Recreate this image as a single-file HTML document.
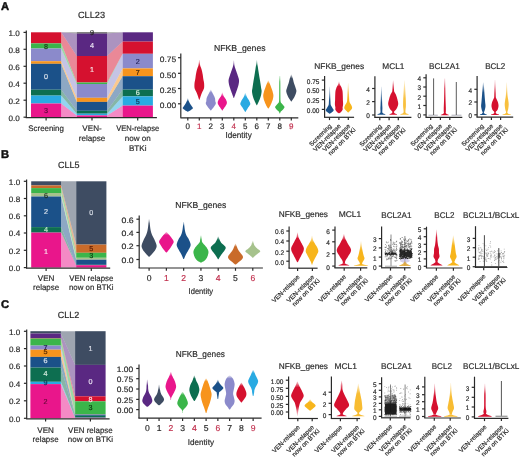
<!DOCTYPE html>
<html><head><meta charset="utf-8"><title>Figure</title>
<style>html,body{margin:0;padding:0;background:#fff;width:520px;height:459px;overflow:hidden}svg{display:block;will-change:transform}text{font-family:"Liberation Sans", sans-serif;stroke-width:0.18px;text-rendering:geometricPrecision}</style>
</head><body>
<svg width="520" height="459" viewBox="0 0 520 459" font-family='"Liberation Sans", sans-serif'><defs><linearGradient id="g1" gradientUnits="userSpaceOnUse" x1="0" y1="98.30" x2="0" y2="101.30"><stop offset="0" stop-color="#1b5189" stop-opacity="0.25"/><stop offset="1" stop-color="#1b5189" stop-opacity="1"/></linearGradient><linearGradient id="g2" gradientUnits="userSpaceOnUse" x1="0" y1="60.00" x2="0" y2="66.00"><stop offset="0" stop-color="#d5112f" stop-opacity="0.25"/><stop offset="1" stop-color="#d5112f" stop-opacity="1"/></linearGradient><linearGradient id="g3" gradientUnits="userSpaceOnUse" x1="0" y1="89.70" x2="0" y2="92.70"><stop offset="0" stop-color="#8b8acb" stop-opacity="0.25"/><stop offset="1" stop-color="#8b8acb" stop-opacity="1"/></linearGradient><linearGradient id="g4" gradientUnits="userSpaceOnUse" x1="0" y1="92.60" x2="0" y2="96.40"><stop offset="0" stop-color="#e9168b" stop-opacity="0.25"/><stop offset="1" stop-color="#e9168b" stop-opacity="1"/></linearGradient><linearGradient id="g5" gradientUnits="userSpaceOnUse" x1="0" y1="60.40" x2="0" y2="66.40"><stop offset="0" stop-color="#5a2882" stop-opacity="0.25"/><stop offset="1" stop-color="#5a2882" stop-opacity="1"/></linearGradient><linearGradient id="g6" gradientUnits="userSpaceOnUse" x1="0" y1="92.90" x2="0" y2="96.80"><stop offset="0" stop-color="#29aae2" stop-opacity="0.25"/><stop offset="1" stop-color="#29aae2" stop-opacity="1"/></linearGradient><linearGradient id="g7" gradientUnits="userSpaceOnUse" x1="0" y1="60.20" x2="0" y2="66.20"><stop offset="0" stop-color="#0d6e50" stop-opacity="0.25"/><stop offset="1" stop-color="#0d6e50" stop-opacity="1"/></linearGradient><linearGradient id="g8" gradientUnits="userSpaceOnUse" x1="0" y1="80.50" x2="0" y2="83.80"><stop offset="0" stop-color="#f7941d" stop-opacity="0.25"/><stop offset="1" stop-color="#f7941d" stop-opacity="1"/></linearGradient><linearGradient id="g9" gradientUnits="userSpaceOnUse" x1="0" y1="75.90" x2="0" y2="81.90"><stop offset="0" stop-color="#3bb54a" stop-opacity="0.25"/><stop offset="1" stop-color="#3bb54a" stop-opacity="1"/></linearGradient><linearGradient id="g10" gradientUnits="userSpaceOnUse" x1="0" y1="74.60" x2="0" y2="78.50"><stop offset="0" stop-color="#3e4c62" stop-opacity="0.25"/><stop offset="1" stop-color="#3e4c62" stop-opacity="1"/></linearGradient><linearGradient id="g11" gradientUnits="userSpaceOnUse" x1="0" y1="86.70" x2="0" y2="113.70"><stop offset="0" stop-color="#1b5189" stop-opacity="0.2"/><stop offset="0.519" stop-color="#1b5189" stop-opacity="1"/></linearGradient><linearGradient id="g12" gradientUnits="userSpaceOnUse" x1="0" y1="81.50" x2="0" y2="113.30"><stop offset="0" stop-color="#d5112f" stop-opacity="0.2"/><stop offset="0.157" stop-color="#d5112f" stop-opacity="1"/></linearGradient><linearGradient id="g13" gradientUnits="userSpaceOnUse" x1="0" y1="83.20" x2="0" y2="112.40"><stop offset="0" stop-color="#f7b51c" stop-opacity="0.2"/><stop offset="0.548" stop-color="#f7b51c" stop-opacity="1"/></linearGradient><linearGradient id="g14" gradientUnits="userSpaceOnUse" x1="0" y1="86.70" x2="0" y2="112.90"><stop offset="0" stop-color="#1b5189" stop-opacity="0.2"/><stop offset="0.611" stop-color="#1b5189" stop-opacity="1"/></linearGradient><linearGradient id="g15" gradientUnits="userSpaceOnUse" x1="0" y1="80.60" x2="0" y2="112.90"><stop offset="0" stop-color="#d5112f" stop-opacity="0.2"/><stop offset="0.279" stop-color="#d5112f" stop-opacity="1"/></linearGradient><linearGradient id="g16" gradientUnits="userSpaceOnUse" x1="0" y1="80.60" x2="0" y2="112.90"><stop offset="0" stop-color="#f7b51c" stop-opacity="0.2"/><stop offset="0.557" stop-color="#f7b51c" stop-opacity="1"/></linearGradient><linearGradient id="g17" gradientUnits="userSpaceOnUse" x1="0" y1="78.40" x2="0" y2="113.30"><stop offset="0" stop-color="#d5112f" stop-opacity="0.2"/><stop offset="0.287" stop-color="#d5112f" stop-opacity="1"/></linearGradient><linearGradient id="g18" gradientUnits="userSpaceOnUse" x1="0" y1="82.40" x2="0" y2="113.40"><stop offset="0" stop-color="#1b5189" stop-opacity="0.2"/><stop offset="0.323" stop-color="#1b5189" stop-opacity="1"/></linearGradient><linearGradient id="g19" gradientUnits="userSpaceOnUse" x1="0" y1="80.10" x2="0" y2="113.40"><stop offset="0" stop-color="#d5112f" stop-opacity="0.2"/><stop offset="0.420" stop-color="#d5112f" stop-opacity="1"/></linearGradient><linearGradient id="g20" gradientUnits="userSpaceOnUse" x1="0" y1="82.40" x2="0" y2="113.40"><stop offset="0" stop-color="#f7b51c" stop-opacity="0.2"/><stop offset="0.452" stop-color="#f7b51c" stop-opacity="1"/></linearGradient><linearGradient id="g21" gradientUnits="userSpaceOnUse" x1="0" y1="219.20" x2="0" y2="223.20"><stop offset="0" stop-color="#3e4c62" stop-opacity="0.25"/><stop offset="1" stop-color="#3e4c62" stop-opacity="1"/></linearGradient><linearGradient id="g22" gradientUnits="userSpaceOnUse" x1="0" y1="232.00" x2="0" y2="235.00"><stop offset="0" stop-color="#e9168b" stop-opacity="0.25"/><stop offset="1" stop-color="#e9168b" stop-opacity="1"/></linearGradient><linearGradient id="g23" gradientUnits="userSpaceOnUse" x1="0" y1="222.00" x2="0" y2="226.00"><stop offset="0" stop-color="#1b5189" stop-opacity="0.25"/><stop offset="1" stop-color="#1b5189" stop-opacity="1"/></linearGradient><linearGradient id="g24" gradientUnits="userSpaceOnUse" x1="0" y1="235.40" x2="0" y2="239.40"><stop offset="0" stop-color="#3bb54a" stop-opacity="0.25"/><stop offset="1" stop-color="#3bb54a" stop-opacity="1"/></linearGradient><linearGradient id="g25" gradientUnits="userSpaceOnUse" x1="0" y1="236.50" x2="0" y2="240.00"><stop offset="0" stop-color="#0d6e50" stop-opacity="0.25"/><stop offset="1" stop-color="#0d6e50" stop-opacity="1"/></linearGradient><linearGradient id="g26" gradientUnits="userSpaceOnUse" x1="0" y1="243.80" x2="0" y2="246.80"><stop offset="0" stop-color="#c96b2a" stop-opacity="0.25"/><stop offset="1" stop-color="#c96b2a" stop-opacity="1"/></linearGradient><linearGradient id="g27" gradientUnits="userSpaceOnUse" x1="0" y1="240.80" x2="0" y2="243.80"><stop offset="0" stop-color="#a6c28c" stop-opacity="0.25"/><stop offset="1" stop-color="#a6c28c" stop-opacity="1"/></linearGradient><linearGradient id="g28" gradientUnits="userSpaceOnUse" x1="0" y1="232.50" x2="0" y2="262.30"><stop offset="0" stop-color="#d5112f" stop-opacity="0.2"/><stop offset="0.201" stop-color="#d5112f" stop-opacity="1"/></linearGradient><linearGradient id="g29" gradientUnits="userSpaceOnUse" x1="0" y1="235.70" x2="0" y2="264.80"><stop offset="0" stop-color="#f7b51c" stop-opacity="0.2"/><stop offset="0.241" stop-color="#f7b51c" stop-opacity="1"/></linearGradient><linearGradient id="g30" gradientUnits="userSpaceOnUse" x1="0" y1="234.10" x2="0" y2="263.40"><stop offset="0" stop-color="#d5112f" stop-opacity="0.2"/><stop offset="0.205" stop-color="#d5112f" stop-opacity="1"/></linearGradient><linearGradient id="g31" gradientUnits="userSpaceOnUse" x1="0" y1="241.30" x2="0" y2="264.20"><stop offset="0" stop-color="#f7b51c" stop-opacity="0.2"/><stop offset="0.393" stop-color="#f7b51c" stop-opacity="1"/></linearGradient><linearGradient id="g32" gradientUnits="userSpaceOnUse" x1="0" y1="257.00" x2="0" y2="263.60"><stop offset="0" stop-color="#b8b0d8" stop-opacity="0.2"/><stop offset="0.152" stop-color="#b8b0d8" stop-opacity="1"/></linearGradient><linearGradient id="g33" gradientUnits="userSpaceOnUse" x1="0" y1="261.00" x2="0" y2="263.00"><stop offset="0" stop-color="#e0a630" stop-opacity="0.2"/><stop offset="0.500" stop-color="#e0a630" stop-opacity="1"/></linearGradient><linearGradient id="g34" gradientUnits="userSpaceOnUse" x1="0" y1="229.80" x2="0" y2="262.20"><stop offset="0" stop-color="#d5112f" stop-opacity="0.2"/><stop offset="0.247" stop-color="#d5112f" stop-opacity="1"/></linearGradient><linearGradient id="g35" gradientUnits="userSpaceOnUse" x1="0" y1="235.60" x2="0" y2="262.20"><stop offset="0" stop-color="#f7b51c" stop-opacity="0.2"/><stop offset="0.376" stop-color="#f7b51c" stop-opacity="1"/></linearGradient><linearGradient id="g36" gradientUnits="userSpaceOnUse" x1="0" y1="379.80" x2="0" y2="385.80"><stop offset="0" stop-color="#5a2882" stop-opacity="0.25"/><stop offset="1" stop-color="#5a2882" stop-opacity="1"/></linearGradient><linearGradient id="g37" gradientUnits="userSpaceOnUse" x1="0" y1="384.80" x2="0" y2="390.00"><stop offset="0" stop-color="#3e4c62" stop-opacity="0.25"/><stop offset="1" stop-color="#3e4c62" stop-opacity="1"/></linearGradient><linearGradient id="g38" gradientUnits="userSpaceOnUse" x1="0" y1="372.00" x2="0" y2="376.00"><stop offset="0" stop-color="#e9168b" stop-opacity="0.25"/><stop offset="1" stop-color="#e9168b" stop-opacity="1"/></linearGradient><linearGradient id="g39" gradientUnits="userSpaceOnUse" x1="0" y1="391.90" x2="0" y2="395.00"><stop offset="0" stop-color="#3bb54a" stop-opacity="0.25"/><stop offset="1" stop-color="#3bb54a" stop-opacity="1"/></linearGradient><linearGradient id="g40" gradientUnits="userSpaceOnUse" x1="0" y1="375.60" x2="0" y2="378.60"><stop offset="0" stop-color="#0d6e50" stop-opacity="0.25"/><stop offset="1" stop-color="#0d6e50" stop-opacity="1"/></linearGradient><linearGradient id="g41" gradientUnits="userSpaceOnUse" x1="0" y1="378.40" x2="0" y2="381.40"><stop offset="0" stop-color="#f7941d" stop-opacity="0.25"/><stop offset="1" stop-color="#f7941d" stop-opacity="1"/></linearGradient><linearGradient id="g42" gradientUnits="userSpaceOnUse" x1="0" y1="379.80" x2="0" y2="383.00"><stop offset="0" stop-color="#1b5189" stop-opacity="0.25"/><stop offset="1" stop-color="#1b5189" stop-opacity="1"/></linearGradient><linearGradient id="g43" gradientUnits="userSpaceOnUse" x1="0" y1="375.60" x2="0" y2="378.60"><stop offset="0" stop-color="#8b8acb" stop-opacity="0.25"/><stop offset="1" stop-color="#8b8acb" stop-opacity="1"/></linearGradient><linearGradient id="g44" gradientUnits="userSpaceOnUse" x1="0" y1="382.70" x2="0" y2="386.00"><stop offset="0" stop-color="#d5112f" stop-opacity="0.25"/><stop offset="1" stop-color="#d5112f" stop-opacity="1"/></linearGradient><linearGradient id="g45" gradientUnits="userSpaceOnUse" x1="0" y1="369.90" x2="0" y2="373.00"><stop offset="0" stop-color="#29aae2" stop-opacity="0.25"/><stop offset="1" stop-color="#29aae2" stop-opacity="1"/></linearGradient><linearGradient id="g46" gradientUnits="userSpaceOnUse" x1="0" y1="381.40" x2="0" y2="416.10"><stop offset="0" stop-color="#d5112f" stop-opacity="0.2"/><stop offset="0.173" stop-color="#d5112f" stop-opacity="1"/><stop offset="0.712" stop-color="#d5112f" stop-opacity="1"/><stop offset="1" stop-color="#d5112f" stop-opacity="0.15"/></linearGradient><linearGradient id="g47" gradientUnits="userSpaceOnUse" x1="0" y1="399.30" x2="0" y2="410.70"><stop offset="0" stop-color="#f7b51c" stop-opacity="0.2"/><stop offset="0.263" stop-color="#f7b51c" stop-opacity="1"/></linearGradient><linearGradient id="g48" gradientUnits="userSpaceOnUse" x1="0" y1="380.80" x2="0" y2="414.20"><stop offset="0" stop-color="#d5112f" stop-opacity="0.2"/><stop offset="0.269" stop-color="#d5112f" stop-opacity="1"/></linearGradient><linearGradient id="g49" gradientUnits="userSpaceOnUse" x1="0" y1="383.80" x2="0" y2="414.20"><stop offset="0" stop-color="#f7b51c" stop-opacity="0.2"/><stop offset="0.329" stop-color="#f7b51c" stop-opacity="1"/></linearGradient><linearGradient id="g50" gradientUnits="userSpaceOnUse" x1="0" y1="383.80" x2="0" y2="414.60"><stop offset="0" stop-color="#d5112f" stop-opacity="0.2"/><stop offset="0.390" stop-color="#d5112f" stop-opacity="1"/></linearGradient><linearGradient id="g51" gradientUnits="userSpaceOnUse" x1="0" y1="382.90" x2="0" y2="414.60"><stop offset="0" stop-color="#f7b51c" stop-opacity="0.2"/><stop offset="0.442" stop-color="#f7b51c" stop-opacity="1"/></linearGradient><linearGradient id="g52" gradientUnits="userSpaceOnUse" x1="0" y1="383.80" x2="0" y2="414.00"><stop offset="0" stop-color="#d5112f" stop-opacity="0.2"/><stop offset="0.331" stop-color="#d5112f" stop-opacity="1"/></linearGradient></defs><rect width="520" height="459" fill="#fff"/><text x="0.90" y="9.50" font-size="11.2" text-anchor="start" fill="#111" stroke="#111" font-weight="bold" style="stroke-width:0.45px">A</text>
<text x="91.50" y="18.10" font-size="9.0" text-anchor="middle" fill="#2b2b2b" stroke="#2b2b2b" font-weight="normal" textLength="27.2" lengthAdjust="spacingAndGlyphs">CLL23</text>
<path d="M61.20,103.50 L76.80,115.40 L76.80,117.20 L61.20,117.20Z" fill="#e9168b" fill-opacity="0.5"/>
<path d="M61.20,95.60 L76.80,113.70 L76.80,115.40 L61.20,103.50Z" fill="#29aae2" fill-opacity="0.5"/>
<path d="M61.20,89.70 L76.80,110.80 L76.80,113.70 L61.20,95.60Z" fill="#0d6e50" fill-opacity="0.5"/>
<path d="M61.20,63.80 L76.80,101.90 L76.80,110.80 L61.20,89.70Z" fill="#1b5189" fill-opacity="0.5"/>
<path d="M61.20,61.20 L76.80,97.80 L76.80,101.90 L61.20,63.80Z" fill="#f7941d" fill-opacity="0.5"/>
<path d="M61.20,48.50 L76.80,84.00 L76.80,97.80 L61.20,61.20Z" fill="#8b8acb" fill-opacity="0.5"/>
<path d="M61.20,43.40 L76.80,82.50 L76.80,84.00 L61.20,48.50Z" fill="#3bb54a" fill-opacity="0.5"/>
<path d="M61.20,32.30 L76.80,56.00 L76.80,82.50 L61.20,43.40Z" fill="#d5112f" fill-opacity="0.5"/>
<path d="M61.20,32.30 L76.80,33.60 L76.80,56.00 L61.20,32.30Z" fill="#5a2882" fill-opacity="0.5"/>
<path d="M61.20,32.30 L76.80,32.30 L76.80,33.60 L61.20,32.30Z" fill="#4a4a4a" fill-opacity="0.5"/>
<path d="M107.10,115.40 L122.60,105.60 L122.60,117.20 L107.10,117.20Z" fill="#e9168b" fill-opacity="0.5"/>
<path d="M107.10,113.70 L122.60,96.40 L122.60,105.60 L107.10,115.40Z" fill="#29aae2" fill-opacity="0.5"/>
<path d="M107.10,110.80 L122.60,89.60 L122.60,96.40 L107.10,113.70Z" fill="#0d6e50" fill-opacity="0.5"/>
<path d="M107.10,101.90 L122.60,76.20 L122.60,89.60 L107.10,110.80Z" fill="#1b5189" fill-opacity="0.5"/>
<path d="M107.10,97.80 L122.60,68.40 L122.60,76.20 L107.10,101.90Z" fill="#f7941d" fill-opacity="0.5"/>
<path d="M107.10,84.00 L122.60,53.80 L122.60,68.40 L107.10,97.80Z" fill="#8b8acb" fill-opacity="0.5"/>
<path d="M107.10,82.50 L122.60,53.80 L122.60,53.80 L107.10,84.00Z" fill="#3bb54a" fill-opacity="0.5"/>
<path d="M107.10,56.00 L122.60,41.60 L122.60,53.80 L107.10,82.50Z" fill="#d5112f" fill-opacity="0.5"/>
<path d="M107.10,33.60 L122.60,32.30 L122.60,41.60 L107.10,56.00Z" fill="#5a2882" fill-opacity="0.5"/>
<path d="M107.10,32.30 L122.60,32.30 L122.60,32.30 L107.10,33.60Z" fill="#4a4a4a" fill-opacity="0.5"/>
<rect x="31.00" y="32.30" width="30.20" height="11.10" fill="#d5112f"/>
<rect x="31.00" y="43.40" width="30.20" height="5.10" fill="#3bb54a"/>
<rect x="31.00" y="48.50" width="30.20" height="12.70" fill="#8b8acb"/>
<rect x="31.00" y="61.20" width="30.20" height="2.60" fill="#f7941d"/>
<rect x="31.00" y="63.80" width="30.20" height="25.90" fill="#1b5189"/>
<rect x="31.00" y="89.70" width="30.20" height="5.90" fill="#0d6e50"/>
<rect x="31.00" y="95.60" width="30.20" height="7.90" fill="#29aae2"/>
<rect x="31.00" y="103.50" width="30.20" height="13.70" fill="#e9168b"/>
<rect x="76.80" y="32.30" width="30.30" height="1.30" fill="#4a4a4a"/>
<rect x="76.80" y="33.60" width="30.30" height="22.40" fill="#5a2882"/>
<rect x="76.80" y="56.00" width="30.30" height="26.50" fill="#d5112f"/>
<rect x="76.80" y="82.50" width="30.30" height="1.50" fill="#3bb54a"/>
<rect x="76.80" y="84.00" width="30.30" height="13.80" fill="#8b8acb"/>
<rect x="76.80" y="97.80" width="30.30" height="4.10" fill="#f7941d"/>
<rect x="76.80" y="101.90" width="30.30" height="8.90" fill="#1b5189"/>
<rect x="76.80" y="110.80" width="30.30" height="2.90" fill="#0d6e50"/>
<rect x="76.80" y="113.70" width="30.30" height="1.70" fill="#29aae2"/>
<rect x="76.80" y="115.40" width="30.30" height="1.80" fill="#e9168b"/>
<rect x="122.60" y="32.30" width="30.30" height="9.30" fill="#5a2882"/>
<rect x="122.60" y="41.60" width="30.30" height="12.20" fill="#d5112f"/>
<rect x="122.60" y="53.80" width="30.30" height="14.60" fill="#8b8acb"/>
<rect x="122.60" y="68.40" width="30.30" height="7.80" fill="#f7941d"/>
<rect x="122.60" y="76.20" width="30.30" height="13.40" fill="#1b5189"/>
<rect x="122.60" y="89.60" width="30.30" height="6.80" fill="#0d6e50"/>
<rect x="122.60" y="96.40" width="30.30" height="9.20" fill="#29aae2"/>
<rect x="122.60" y="105.60" width="30.30" height="11.60" fill="#e9168b"/>
<text x="46.10" y="48.60" font-size="7.2" text-anchor="middle" fill="#1d3d1d" stroke="#1d3d1d" font-weight="normal">8</text>
<text x="46.10" y="79.40" font-size="7.2" text-anchor="middle" fill="#dde4ee" stroke="#dde4ee" font-weight="normal">0</text>
<text x="46.10" y="112.60" font-size="7.2" text-anchor="middle" fill="#5a0a3a" stroke="#5a0a3a" font-weight="normal">3</text>
<text x="92.00" y="35.00" font-size="7.2" text-anchor="middle" fill="#222" stroke="#222" font-weight="normal">9</text>
<text x="92.00" y="47.60" font-size="7.2" text-anchor="middle" fill="#e6ddf0" stroke="#e6ddf0" font-weight="normal">4</text>
<text x="92.00" y="71.60" font-size="7.2" text-anchor="middle" fill="#f4dde0" stroke="#f4dde0" font-weight="normal">1</text>
<text x="137.70" y="63.60" font-size="7.2" text-anchor="middle" fill="#25245a" stroke="#25245a" font-weight="normal">2</text>
<text x="137.70" y="74.60" font-size="7.2" text-anchor="middle" fill="#4a2a08" stroke="#4a2a08" font-weight="normal">7</text>
<text x="137.70" y="94.60" font-size="7.2" text-anchor="middle" fill="#d8efe0" stroke="#d8efe0" font-weight="normal">6</text>
<text x="137.70" y="103.60" font-size="7.2" text-anchor="middle" fill="#0d3d60" stroke="#0d3d60" font-weight="normal">5</text>
<line x1="26.30" y1="30.50" x2="26.30" y2="117.70" stroke="#2a2a2a" stroke-width="1.2"/>
<line x1="23.50" y1="32.40" x2="26.30" y2="32.40" stroke="#2a2a2a" stroke-width="1.2"/>
<text x="19.90" y="35.80" font-size="7.9" text-anchor="end" fill="#2b2b2b" stroke="#2b2b2b" font-weight="normal" textLength="11.31" lengthAdjust="spacingAndGlyphs">1.0</text>
<line x1="23.50" y1="49.30" x2="26.30" y2="49.30" stroke="#2a2a2a" stroke-width="1.2"/>
<text x="19.90" y="52.70" font-size="7.9" text-anchor="end" fill="#2b2b2b" stroke="#2b2b2b" font-weight="normal" textLength="11.31" lengthAdjust="spacingAndGlyphs">0.8</text>
<line x1="23.50" y1="66.30" x2="26.30" y2="66.30" stroke="#2a2a2a" stroke-width="1.2"/>
<text x="19.90" y="69.70" font-size="7.9" text-anchor="end" fill="#2b2b2b" stroke="#2b2b2b" font-weight="normal" textLength="11.31" lengthAdjust="spacingAndGlyphs">0.6</text>
<line x1="23.50" y1="83.20" x2="26.30" y2="83.20" stroke="#2a2a2a" stroke-width="1.2"/>
<text x="19.90" y="86.60" font-size="7.9" text-anchor="end" fill="#2b2b2b" stroke="#2b2b2b" font-weight="normal" textLength="11.31" lengthAdjust="spacingAndGlyphs">0.4</text>
<line x1="23.50" y1="100.20" x2="26.30" y2="100.20" stroke="#2a2a2a" stroke-width="1.2"/>
<text x="19.90" y="103.60" font-size="7.9" text-anchor="end" fill="#2b2b2b" stroke="#2b2b2b" font-weight="normal" textLength="11.31" lengthAdjust="spacingAndGlyphs">0.2</text>
<line x1="23.50" y1="117.20" x2="26.30" y2="117.20" stroke="#2a2a2a" stroke-width="1.2"/>
<text x="19.90" y="120.60" font-size="7.9" text-anchor="end" fill="#2b2b2b" stroke="#2b2b2b" font-weight="normal" textLength="11.31" lengthAdjust="spacingAndGlyphs">0.0</text>
<line x1="25.70" y1="117.70" x2="156.90" y2="117.70" stroke="#2a2a2a" stroke-width="1.2"/>
<line x1="46.10" y1="117.70" x2="46.10" y2="120.50" stroke="#2a2a2a" stroke-width="1.2"/>
<line x1="92.00" y1="117.70" x2="92.00" y2="120.50" stroke="#2a2a2a" stroke-width="1.2"/>
<line x1="137.70" y1="117.70" x2="137.70" y2="120.50" stroke="#2a2a2a" stroke-width="1.2"/>
<text x="46.10" y="131.20" font-size="8.1" text-anchor="middle" fill="#2b2b2b" stroke="#2b2b2b" font-weight="normal" textLength="35.6" lengthAdjust="spacingAndGlyphs">Screening</text>
<text x="92.00" y="131.20" font-size="8.1" text-anchor="middle" fill="#2b2b2b" stroke="#2b2b2b" font-weight="normal">VEN-</text>
<text x="92.00" y="141.00" font-size="8.1" text-anchor="middle" fill="#2b2b2b" stroke="#2b2b2b" font-weight="normal">relapse</text>
<text x="137.70" y="131.20" font-size="8.1" text-anchor="middle" fill="#2b2b2b" stroke="#2b2b2b" font-weight="normal" textLength="43.0" lengthAdjust="spacingAndGlyphs">VEN-relapse</text>
<text x="137.70" y="141.00" font-size="8.1" text-anchor="middle" fill="#2b2b2b" stroke="#2b2b2b" font-weight="normal">now on</text>
<text x="137.70" y="150.80" font-size="8.1" text-anchor="middle" fill="#2b2b2b" stroke="#2b2b2b" font-weight="normal">BTKi</text>
<text x="239.80" y="51.20" font-size="8.7" text-anchor="middle" fill="#2b2b2b" stroke="#2b2b2b" font-weight="normal" textLength="51.5" lengthAdjust="spacingAndGlyphs">NFKB_genes</text>
<line x1="180.80" y1="53.60" x2="180.80" y2="117.80" stroke="#2a2a2a" stroke-width="1.2"/>
<line x1="178.00" y1="57.70" x2="180.80" y2="57.70" stroke="#2a2a2a" stroke-width="1.2"/>
<text x="176.20" y="61.90" font-size="7.8" text-anchor="end" fill="#2b2b2b" stroke="#2b2b2b" font-weight="normal" textLength="16.4" lengthAdjust="spacingAndGlyphs">0.75</text>
<line x1="178.00" y1="73.30" x2="180.80" y2="73.30" stroke="#2a2a2a" stroke-width="1.2"/>
<text x="176.20" y="77.50" font-size="7.8" text-anchor="end" fill="#2b2b2b" stroke="#2b2b2b" font-weight="normal" textLength="16.4" lengthAdjust="spacingAndGlyphs">0.50</text>
<line x1="178.00" y1="88.50" x2="180.80" y2="88.50" stroke="#2a2a2a" stroke-width="1.2"/>
<text x="176.20" y="92.70" font-size="7.8" text-anchor="end" fill="#2b2b2b" stroke="#2b2b2b" font-weight="normal" textLength="16.4" lengthAdjust="spacingAndGlyphs">0.25</text>
<line x1="178.00" y1="103.80" x2="180.80" y2="103.80" stroke="#2a2a2a" stroke-width="1.2"/>
<text x="176.20" y="108.00" font-size="7.8" text-anchor="end" fill="#2b2b2b" stroke="#2b2b2b" font-weight="normal" textLength="16.4" lengthAdjust="spacingAndGlyphs">0.00</text>
<line x1="180.40" y1="117.80" x2="298.30" y2="117.80" stroke="#2a2a2a" stroke-width="1.2"/>
<line x1="187.80" y1="117.80" x2="187.80" y2="120.60" stroke="#2a2a2a" stroke-width="1.2"/>
<line x1="199.30" y1="117.80" x2="199.30" y2="120.60" stroke="#2a2a2a" stroke-width="1.2"/>
<line x1="210.80" y1="117.80" x2="210.80" y2="120.60" stroke="#2a2a2a" stroke-width="1.2"/>
<line x1="222.30" y1="117.80" x2="222.30" y2="120.60" stroke="#2a2a2a" stroke-width="1.2"/>
<line x1="233.80" y1="117.80" x2="233.80" y2="120.60" stroke="#2a2a2a" stroke-width="1.2"/>
<line x1="245.30" y1="117.80" x2="245.30" y2="120.60" stroke="#2a2a2a" stroke-width="1.2"/>
<line x1="256.80" y1="117.80" x2="256.80" y2="120.60" stroke="#2a2a2a" stroke-width="1.2"/>
<line x1="268.30" y1="117.80" x2="268.30" y2="120.60" stroke="#2a2a2a" stroke-width="1.2"/>
<line x1="279.80" y1="117.80" x2="279.80" y2="120.60" stroke="#2a2a2a" stroke-width="1.2"/>
<line x1="291.30" y1="117.80" x2="291.30" y2="120.60" stroke="#2a2a2a" stroke-width="1.2"/>
<text x="187.80" y="128.70" font-size="8.0" text-anchor="middle" fill="#2b2b2b" stroke="#2b2b2b" font-weight="normal">0</text>
<text x="199.30" y="128.70" font-size="8.0" text-anchor="middle" fill="#c23350" stroke="#c23350" font-weight="normal">1</text>
<text x="210.80" y="128.70" font-size="8.0" text-anchor="middle" fill="#2b2b2b" stroke="#2b2b2b" font-weight="normal">2</text>
<text x="222.30" y="128.70" font-size="8.0" text-anchor="middle" fill="#2b2b2b" stroke="#2b2b2b" font-weight="normal">3</text>
<text x="233.80" y="128.70" font-size="8.0" text-anchor="middle" fill="#c23350" stroke="#c23350" font-weight="normal">4</text>
<text x="245.30" y="128.70" font-size="8.0" text-anchor="middle" fill="#2b2b2b" stroke="#2b2b2b" font-weight="normal">5</text>
<text x="256.80" y="128.70" font-size="8.0" text-anchor="middle" fill="#2b2b2b" stroke="#2b2b2b" font-weight="normal">6</text>
<text x="268.30" y="128.70" font-size="8.0" text-anchor="middle" fill="#2b2b2b" stroke="#2b2b2b" font-weight="normal">7</text>
<text x="279.80" y="128.70" font-size="8.0" text-anchor="middle" fill="#2b2b2b" stroke="#2b2b2b" font-weight="normal">8</text>
<text x="291.30" y="128.70" font-size="8.0" text-anchor="middle" fill="#c23350" stroke="#c23350" font-weight="normal">9</text>
<text x="238.60" y="138.30" font-size="8.6" text-anchor="middle" fill="#2b2b2b" stroke="#2b2b2b" font-weight="normal" textLength="26.2" lengthAdjust="spacingAndGlyphs">Identity</text>
<path d="M188.00,98.30 L188.10,98.69 L188.23,99.25 L188.39,99.90 L188.58,100.57 L188.80,101.20 L189.05,101.78 L189.33,102.36 L189.63,102.94 L189.96,103.52 L190.30,104.10 L190.69,104.70 L191.14,105.33 L191.58,105.95 L191.99,106.52 L192.30,107.00 L192.54,107.37 L192.75,107.64 L192.89,107.87 L192.92,108.11 L192.80,108.40 L192.49,108.77 L192.01,109.19 L191.43,109.61 L190.84,110.03 L190.30,110.40 L189.79,110.74 L189.26,111.07 L188.74,111.37 L188.31,111.62 L188.00,111.80 L187.60,111.80 L187.29,111.62 L186.86,111.37 L186.34,111.07 L185.81,110.74 L185.30,110.40 L184.76,110.03 L184.17,109.61 L183.59,109.19 L183.11,108.77 L182.80,108.40 L182.68,108.11 L182.71,107.87 L182.85,107.64 L183.06,107.37 L183.30,107.00 L183.61,106.52 L184.02,105.95 L184.46,105.33 L184.91,104.70 L185.30,104.10 L185.64,103.52 L185.97,102.94 L186.27,102.36 L186.55,101.78 L186.80,101.20 L187.02,100.57 L187.21,99.90 L187.37,99.25 L187.50,98.69 L187.60,98.30Z" fill="url(#g1)"/>
<path d="M199.50,60.00 L199.54,60.41 L199.59,60.98 L199.65,61.66 L199.72,62.35 L199.80,63.00 L199.88,63.62 L199.97,64.25 L200.07,64.87 L200.18,65.46 L200.30,66.00 L200.44,66.46 L200.60,66.86 L200.77,67.23 L200.94,67.60 L201.10,68.00 L201.24,68.41 L201.38,68.80 L201.51,69.22 L201.65,69.71 L201.80,70.30 L201.97,71.03 L202.16,71.87 L202.35,72.78 L202.54,73.70 L202.70,74.60 L202.84,75.48 L202.95,76.36 L203.06,77.24 L203.17,78.12 L203.30,79.00 L203.46,79.86 L203.64,80.72 L203.83,81.58 L203.99,82.44 L204.10,83.30 L204.16,84.21 L204.20,85.15 L204.20,86.09 L204.16,86.95 L204.10,87.70 L203.99,88.30 L203.85,88.79 L203.67,89.20 L203.49,89.59 L203.30,90.00 L203.12,90.40 L202.93,90.75 L202.74,91.11 L202.53,91.51 L202.30,92.00 L202.04,92.62 L201.74,93.34 L201.44,94.11 L201.15,94.85 L200.90,95.50 L200.70,96.06 L200.53,96.56 L200.38,97.03 L200.24,97.47 L200.10,97.90 L199.96,98.34 L199.82,98.79 L199.69,99.20 L199.58,99.55 L199.50,99.80 L199.10,99.80 L199.02,99.55 L198.91,99.20 L198.78,98.79 L198.64,98.34 L198.50,97.90 L198.36,97.47 L198.22,97.03 L198.07,96.56 L197.90,96.06 L197.70,95.50 L197.45,94.85 L197.16,94.11 L196.86,93.34 L196.56,92.62 L196.30,92.00 L196.07,91.51 L195.86,91.11 L195.67,90.75 L195.48,90.40 L195.30,90.00 L195.11,89.59 L194.93,89.20 L194.75,88.79 L194.61,88.30 L194.50,87.70 L194.44,86.95 L194.40,86.09 L194.40,85.15 L194.44,84.21 L194.50,83.30 L194.61,82.44 L194.77,81.58 L194.96,80.72 L195.14,79.86 L195.30,79.00 L195.43,78.12 L195.54,77.24 L195.65,76.36 L195.76,75.48 L195.90,74.60 L196.06,73.70 L196.25,72.78 L196.44,71.87 L196.63,71.03 L196.80,70.30 L196.95,69.71 L197.09,69.22 L197.22,68.80 L197.36,68.41 L197.50,68.00 L197.66,67.60 L197.83,67.23 L198.00,66.86 L198.16,66.46 L198.30,66.00 L198.42,65.46 L198.53,64.87 L198.63,64.25 L198.72,63.62 L198.80,63.00 L198.88,62.35 L198.95,61.66 L199.01,60.98 L199.06,60.41 L199.10,60.00Z" fill="url(#g2)"/>
<path d="M211.00,89.70 L211.17,90.09 L211.42,90.65 L211.70,91.30 L212.01,91.97 L212.30,92.60 L212.59,93.18 L212.90,93.76 L213.21,94.35 L213.52,94.93 L213.80,95.50 L214.07,96.06 L214.34,96.62 L214.60,97.18 L214.82,97.74 L215.00,98.30 L215.11,98.88 L215.18,99.48 L215.21,100.07 L215.24,100.65 L215.30,101.20 L215.43,101.70 L215.61,102.15 L215.77,102.59 L215.86,103.06 L215.80,103.60 L215.57,104.22 L215.22,104.89 L214.78,105.59 L214.29,106.30 L213.80,107.00 L213.25,107.73 L212.60,108.52 L211.96,109.28 L211.39,109.94 L211.00,110.40 L210.60,110.40 L210.21,109.94 L209.64,109.28 L209.00,108.52 L208.35,107.73 L207.80,107.00 L207.31,106.30 L206.82,105.59 L206.38,104.89 L206.03,104.22 L205.80,103.60 L205.74,103.06 L205.83,102.59 L205.99,102.15 L206.17,101.70 L206.30,101.20 L206.36,100.65 L206.39,100.07 L206.42,99.48 L206.49,98.88 L206.60,98.30 L206.78,97.74 L207.00,97.18 L207.26,96.62 L207.53,96.06 L207.80,95.50 L208.08,94.93 L208.39,94.35 L208.70,93.76 L209.01,93.18 L209.30,92.60 L209.59,91.97 L209.90,91.30 L210.18,90.65 L210.43,90.09 L210.60,89.70Z" fill="url(#g3)"/>
<path d="M222.50,92.60 L222.67,93.13 L222.89,93.89 L223.17,94.76 L223.47,95.64 L223.80,96.40 L224.17,97.03 L224.59,97.60 L225.03,98.15 L225.45,98.70 L225.80,99.30 L226.11,99.96 L226.41,100.65 L226.66,101.35 L226.84,102.04 L226.90,102.70 L226.84,103.31 L226.66,103.90 L226.41,104.47 L226.11,105.03 L225.80,105.60 L225.45,106.18 L225.03,106.77 L224.59,107.34 L224.17,107.89 L223.80,108.40 L223.47,108.88 L223.17,109.35 L222.89,109.78 L222.67,110.14 L222.50,110.40 L222.10,110.40 L221.93,110.14 L221.71,109.78 L221.43,109.35 L221.13,108.88 L220.80,108.40 L220.43,107.89 L220.01,107.34 L219.57,106.77 L219.15,106.18 L218.80,105.60 L218.49,105.03 L218.19,104.47 L217.94,103.90 L217.76,103.31 L217.70,102.70 L217.76,102.04 L217.94,101.35 L218.19,100.65 L218.49,99.96 L218.80,99.30 L219.15,98.70 L219.57,98.15 L220.01,97.60 L220.43,97.03 L220.80,96.40 L221.13,95.64 L221.43,94.76 L221.71,93.89 L221.93,93.13 L222.10,92.60Z" fill="url(#g4)"/>
<path d="M234.00,60.40 L234.04,60.90 L234.09,61.61 L234.15,62.43 L234.22,63.26 L234.30,64.00 L234.38,64.65 L234.48,65.29 L234.58,65.90 L234.68,66.47 L234.80,67.00 L234.93,67.46 L235.06,67.86 L235.20,68.23 L235.35,68.60 L235.50,69.00 L235.64,69.41 L235.78,69.80 L235.92,70.21 L236.09,70.70 L236.30,71.30 L236.56,72.05 L236.86,72.91 L237.19,73.84 L237.51,74.79 L237.80,75.70 L238.08,76.58 L238.38,77.46 L238.65,78.35 L238.87,79.23 L239.00,80.10 L239.04,80.96 L239.00,81.82 L238.90,82.68 L238.76,83.54 L238.60,84.40 L238.40,85.28 L238.15,86.16 L237.88,87.04 L237.59,87.92 L237.30,88.80 L237.02,89.66 L236.73,90.50 L236.43,91.34 L236.12,92.20 L235.80,93.10 L235.43,94.12 L235.02,95.25 L234.60,96.36 L234.25,97.32 L234.00,98.00 L233.60,98.00 L233.35,97.32 L233.00,96.36 L232.58,95.25 L232.17,94.12 L231.80,93.10 L231.48,92.20 L231.17,91.34 L230.87,90.50 L230.58,89.66 L230.30,88.80 L230.01,87.92 L229.72,87.04 L229.45,86.16 L229.20,85.28 L229.00,84.40 L228.84,83.54 L228.70,82.68 L228.60,81.82 L228.56,80.96 L228.60,80.10 L228.73,79.23 L228.95,78.35 L229.22,77.46 L229.52,76.58 L229.80,75.70 L230.09,74.79 L230.41,73.84 L230.74,72.91 L231.04,72.05 L231.30,71.30 L231.51,70.70 L231.68,70.21 L231.82,69.80 L231.96,69.41 L232.10,69.00 L232.25,68.60 L232.40,68.23 L232.54,67.86 L232.67,67.46 L232.80,67.00 L232.92,66.47 L233.02,65.90 L233.12,65.29 L233.22,64.65 L233.30,64.00 L233.38,63.26 L233.45,62.43 L233.51,61.61 L233.56,60.90 L233.60,60.40Z" fill="url(#g5)"/>
<path d="M245.50,92.90 L245.67,93.44 L245.89,94.21 L246.17,95.10 L246.47,96.00 L246.80,96.80 L247.16,97.49 L247.57,98.13 L248.00,98.77 L248.42,99.41 L248.80,100.10 L249.19,100.85 L249.60,101.65 L249.98,102.45 L250.23,103.25 L250.30,104.00 L250.12,104.70 L249.75,105.36 L249.27,106.01 L248.76,106.65 L248.30,107.30 L247.88,107.99 L247.44,108.72 L247.01,109.42 L246.62,110.07 L246.30,110.60 L246.05,111.01 L245.86,111.33 L245.70,111.57 L245.59,111.76 L245.50,111.90 L245.10,111.90 L245.01,111.76 L244.90,111.57 L244.74,111.33 L244.55,111.01 L244.30,110.60 L243.98,110.07 L243.59,109.42 L243.16,108.72 L242.72,107.99 L242.30,107.30 L241.84,106.65 L241.33,106.01 L240.85,105.36 L240.48,104.70 L240.30,104.00 L240.37,103.25 L240.62,102.45 L241.00,101.65 L241.41,100.85 L241.80,100.10 L242.18,99.41 L242.60,98.77 L243.03,98.13 L243.44,97.49 L243.80,96.80 L244.13,96.00 L244.43,95.10 L244.71,94.21 L244.93,93.44 L245.10,92.90Z" fill="url(#g6)"/>
<path d="M257.00,60.20 L257.05,60.71 L257.12,61.44 L257.21,62.28 L257.30,63.17 L257.40,64.00 L257.50,64.75 L257.61,65.46 L257.72,66.20 L257.85,67.03 L258.00,68.00 L258.17,69.16 L258.37,70.46 L258.57,71.84 L258.79,73.24 L259.00,74.60 L259.22,75.90 L259.44,77.20 L259.66,78.50 L259.88,79.80 L260.10,81.10 L260.31,82.46 L260.53,83.86 L260.74,85.25 L260.93,86.55 L261.10,87.70 L261.26,88.63 L261.41,89.39 L261.53,90.08 L261.60,90.78 L261.60,91.60 L261.51,92.57 L261.35,93.62 L261.13,94.70 L260.88,95.78 L260.60,96.80 L260.29,97.77 L259.94,98.72 L259.56,99.64 L259.17,100.53 L258.80,101.40 L258.41,102.29 L257.99,103.20 L257.59,104.05 L257.24,104.78 L257.00,105.30 L256.60,105.30 L256.36,104.78 L256.01,104.05 L255.61,103.20 L255.19,102.29 L254.80,101.40 L254.43,100.53 L254.04,99.64 L253.66,98.72 L253.31,97.77 L253.00,96.80 L252.72,95.78 L252.47,94.70 L252.25,93.62 L252.09,92.57 L252.00,91.60 L252.00,90.78 L252.07,90.08 L252.19,89.39 L252.34,88.63 L252.50,87.70 L252.67,86.55 L252.86,85.25 L253.07,83.86 L253.29,82.46 L253.50,81.10 L253.72,79.80 L253.94,78.50 L254.16,77.20 L254.38,75.90 L254.60,74.60 L254.81,73.24 L255.03,71.84 L255.23,70.46 L255.43,69.16 L255.60,68.00 L255.75,67.03 L255.88,66.20 L255.99,65.46 L256.10,64.75 L256.20,64.00 L256.30,63.17 L256.39,62.28 L256.48,61.44 L256.55,60.71 L256.60,60.20Z" fill="url(#g7)"/>
<path d="M268.50,80.50 L268.67,80.94 L268.92,81.55 L269.20,82.28 L269.51,83.05 L269.80,83.80 L270.09,84.54 L270.40,85.32 L270.70,86.11 L271.01,86.91 L271.30,87.70 L271.58,88.48 L271.86,89.26 L272.13,90.04 L272.38,90.82 L272.60,91.60 L272.81,92.38 L273.02,93.16 L273.20,93.94 L273.34,94.72 L273.40,95.50 L273.38,96.28 L273.30,97.06 L273.17,97.83 L273.00,98.61 L272.80,99.40 L272.56,100.21 L272.26,101.03 L271.94,101.85 L271.61,102.65 L271.30,103.40 L271.00,104.11 L270.69,104.80 L270.39,105.44 L270.09,106.05 L269.80,106.60 L269.51,107.11 L269.20,107.58 L268.92,108.00 L268.67,108.35 L268.50,108.60 L268.10,108.60 L267.93,108.35 L267.68,108.00 L267.40,107.58 L267.09,107.11 L266.80,106.60 L266.51,106.05 L266.21,105.44 L265.91,104.80 L265.60,104.11 L265.30,103.40 L264.99,102.65 L264.66,101.85 L264.34,101.03 L264.04,100.21 L263.80,99.40 L263.60,98.61 L263.43,97.83 L263.30,97.06 L263.22,96.28 L263.20,95.50 L263.26,94.72 L263.40,93.94 L263.58,93.16 L263.79,92.38 L264.00,91.60 L264.22,90.82 L264.47,90.04 L264.74,89.26 L265.02,88.48 L265.30,87.70 L265.59,86.91 L265.90,86.11 L266.20,85.32 L266.51,84.54 L266.80,83.80 L267.09,83.05 L267.40,82.28 L267.68,81.55 L267.93,80.94 L268.10,80.50Z" fill="url(#g8)"/>
<path d="M280.20,75.90 L280.22,77.12 L280.25,78.84 L280.29,80.86 L280.32,82.98 L280.35,85.00 L280.36,87.00 L280.37,89.10 L280.37,91.21 L280.38,93.21 L280.40,95.00 L280.41,96.59 L280.42,98.06 L280.44,99.38 L280.49,100.54 L280.60,101.50 L280.77,102.21 L280.99,102.68 L281.25,103.00 L281.52,103.28 L281.80,103.60 L282.09,103.96 L282.39,104.29 L282.71,104.62 L283.01,104.95 L283.30,105.30 L283.61,105.67 L283.95,106.05 L284.26,106.44 L284.46,106.86 L284.50,107.30 L284.32,107.80 L283.96,108.34 L283.50,108.90 L283.02,109.43 L282.60,109.90 L282.22,110.30 L281.82,110.64 L281.44,110.96 L281.09,111.27 L280.80,111.60 L280.56,111.98 L280.37,112.40 L280.21,112.80 L280.09,113.15 L280.00,113.40 L279.60,113.40 L279.51,113.15 L279.39,112.80 L279.23,112.40 L279.04,111.98 L278.80,111.60 L278.51,111.27 L278.16,110.96 L277.78,110.64 L277.38,110.30 L277.00,109.90 L276.58,109.43 L276.10,108.90 L275.64,108.34 L275.28,107.80 L275.10,107.30 L275.14,106.86 L275.34,106.44 L275.65,106.05 L275.99,105.67 L276.30,105.30 L276.59,104.95 L276.89,104.62 L277.21,104.29 L277.51,103.96 L277.80,103.60 L278.08,103.28 L278.35,103.00 L278.61,102.68 L278.83,102.21 L279.00,101.50 L279.11,100.54 L279.16,99.38 L279.18,98.06 L279.19,96.59 L279.20,95.00 L279.22,93.21 L279.23,91.21 L279.23,89.10 L279.24,87.00 L279.25,85.00 L279.28,82.98 L279.31,80.86 L279.35,78.84 L279.38,77.12 L279.40,75.90Z" fill="url(#g9)"/>
<path d="M291.50,74.60 L291.68,75.13 L291.94,75.87 L292.24,76.75 L292.54,77.65 L292.80,78.50 L293.01,79.29 L293.20,80.07 L293.38,80.86 L293.57,81.67 L293.80,82.50 L294.07,83.38 L294.38,84.29 L294.70,85.21 L295.02,86.12 L295.30,87.00 L295.58,87.83 L295.87,88.64 L296.14,89.43 L296.33,90.21 L296.40,91.00 L296.33,91.80 L296.14,92.60 L295.87,93.40 L295.58,94.17 L295.30,94.90 L295.04,95.58 L294.77,96.23 L294.48,96.85 L294.16,97.46 L293.80,98.10 L293.35,98.81 L292.83,99.57 L292.29,100.31 L291.83,100.95 L291.50,101.40 L291.10,101.40 L290.77,100.95 L290.31,100.31 L289.77,99.57 L289.25,98.81 L288.80,98.10 L288.44,97.46 L288.12,96.85 L287.83,96.23 L287.56,95.58 L287.30,94.90 L287.02,94.17 L286.73,93.40 L286.46,92.60 L286.27,91.80 L286.20,91.00 L286.27,90.21 L286.46,89.43 L286.73,88.64 L287.02,87.83 L287.30,87.00 L287.58,86.12 L287.90,85.21 L288.22,84.29 L288.53,83.38 L288.80,82.50 L289.03,81.67 L289.22,80.86 L289.40,80.07 L289.59,79.29 L289.80,78.50 L290.06,77.65 L290.36,76.75 L290.66,75.87 L290.92,75.13 L291.10,74.60Z" fill="url(#g10)"/>
<text x="339.20" y="69.00" font-size="8.4" text-anchor="middle" fill="#2b2b2b" stroke="#2b2b2b" font-weight="normal" textLength="49.9" lengthAdjust="spacingAndGlyphs">NFKB_genes</text>
<line x1="324.60" y1="76.10" x2="324.60" y2="117.30" stroke="#2a2a2a" stroke-width="1.2"/>
<line x1="321.80" y1="80.10" x2="324.60" y2="80.10" stroke="#2a2a2a" stroke-width="1.2"/>
<text x="319.50" y="83.50" font-size="6.7" text-anchor="end" fill="#2b2b2b" stroke="#2b2b2b" font-weight="normal" textLength="12.65" lengthAdjust="spacingAndGlyphs">0.75</text>
<line x1="321.80" y1="89.90" x2="324.60" y2="89.90" stroke="#2a2a2a" stroke-width="1.2"/>
<text x="319.50" y="93.30" font-size="6.7" text-anchor="end" fill="#2b2b2b" stroke="#2b2b2b" font-weight="normal" textLength="12.65" lengthAdjust="spacingAndGlyphs">0.50</text>
<line x1="321.80" y1="99.60" x2="324.60" y2="99.60" stroke="#2a2a2a" stroke-width="1.2"/>
<text x="319.50" y="103.00" font-size="6.7" text-anchor="end" fill="#2b2b2b" stroke="#2b2b2b" font-weight="normal" textLength="12.65" lengthAdjust="spacingAndGlyphs">0.25</text>
<line x1="321.80" y1="109.40" x2="324.60" y2="109.40" stroke="#2a2a2a" stroke-width="1.2"/>
<text x="319.50" y="112.80" font-size="6.7" text-anchor="end" fill="#2b2b2b" stroke="#2b2b2b" font-weight="normal" textLength="12.65" lengthAdjust="spacingAndGlyphs">0.00</text>
<line x1="324.00" y1="117.30" x2="354.10" y2="117.30" stroke="#2a2a2a" stroke-width="1.2"/>
<line x1="329.50" y1="117.30" x2="329.50" y2="120.10" stroke="#2a2a2a" stroke-width="1.2"/>
<line x1="338.90" y1="117.30" x2="338.90" y2="120.10" stroke="#2a2a2a" stroke-width="1.2"/>
<line x1="348.30" y1="117.30" x2="348.30" y2="120.10" stroke="#2a2a2a" stroke-width="1.2"/>
<path d="M329.90,86.70 L329.94,87.85 L330.00,89.48 L330.07,91.38 L330.14,93.29 L330.20,95.00 L330.26,96.55 L330.32,98.09 L330.38,99.55 L330.44,100.88 L330.50,102.00 L330.54,102.86 L330.57,103.51 L330.60,104.02 L330.67,104.49 L330.80,105.00 L331.01,105.54 L331.28,106.06 L331.58,106.57 L331.90,107.08 L332.20,107.60 L332.55,108.14 L332.96,108.70 L333.35,109.26 L333.62,109.80 L333.70,110.30 L333.52,110.77 L333.14,111.22 L332.65,111.65 L332.14,112.04 L331.70,112.40 L331.30,112.73 L330.88,113.04 L330.48,113.31 L330.14,113.54 L329.90,113.70 L329.50,113.70 L329.26,113.54 L328.92,113.31 L328.52,113.04 L328.10,112.73 L327.70,112.40 L327.26,112.04 L326.75,111.65 L326.26,111.22 L325.88,110.77 L325.70,110.30 L325.78,109.80 L326.05,109.26 L326.44,108.70 L326.85,108.14 L327.20,107.60 L327.50,107.08 L327.82,106.57 L328.12,106.06 L328.39,105.54 L328.60,105.00 L328.73,104.49 L328.80,104.02 L328.83,103.51 L328.86,102.86 L328.90,102.00 L328.96,100.88 L329.02,99.55 L329.08,98.09 L329.14,96.55 L329.20,95.00 L329.26,93.29 L329.33,91.38 L329.40,89.48 L329.46,87.85 L329.50,86.70Z" fill="url(#g11)" fill-opacity="1.0"/>
<path d="M339.20,81.50 L339.25,81.78 L339.32,82.18 L339.41,82.64 L339.50,83.10 L339.60,83.50 L339.70,83.81 L339.79,84.08 L339.90,84.34 L340.03,84.64 L340.20,85.00 L340.42,85.44 L340.68,85.92 L340.97,86.44 L341.25,87.00 L341.50,87.60 L341.73,88.23 L341.96,88.90 L342.16,89.60 L342.35,90.33 L342.50,91.10 L342.61,91.91 L342.68,92.76 L342.73,93.63 L342.76,94.52 L342.80,95.40 L342.83,96.27 L342.85,97.15 L342.86,98.04 L342.88,98.92 L342.90,99.80 L342.94,100.70 L343.01,101.61 L343.07,102.51 L343.10,103.38 L343.10,104.20 L343.04,104.97 L342.92,105.71 L342.79,106.40 L342.67,107.04 L342.60,107.60 L342.60,108.06 L342.66,108.42 L342.73,108.73 L342.76,109.04 L342.70,109.40 L342.54,109.82 L342.32,110.28 L342.04,110.74 L341.73,111.19 L341.40,111.60 L341.00,112.00 L340.52,112.40 L340.03,112.77 L339.60,113.08 L339.30,113.30 L338.70,113.30 L338.40,113.08 L337.97,112.77 L337.48,112.40 L337.00,112.00 L336.60,111.60 L336.27,111.19 L335.96,110.74 L335.68,110.28 L335.46,109.82 L335.30,109.40 L335.24,109.04 L335.27,108.73 L335.34,108.42 L335.40,108.06 L335.40,107.60 L335.33,107.04 L335.21,106.40 L335.08,105.71 L334.96,104.97 L334.90,104.20 L334.90,103.38 L334.93,102.51 L334.99,101.61 L335.06,100.70 L335.10,99.80 L335.12,98.92 L335.14,98.04 L335.15,97.15 L335.17,96.27 L335.20,95.40 L335.24,94.52 L335.27,93.63 L335.32,92.76 L335.39,91.91 L335.50,91.10 L335.65,90.33 L335.84,89.60 L336.04,88.90 L336.27,88.23 L336.50,87.60 L336.75,87.00 L337.03,86.44 L337.32,85.92 L337.58,85.44 L337.80,85.00 L337.97,84.64 L338.10,84.34 L338.21,84.08 L338.30,83.81 L338.40,83.50 L338.50,83.10 L338.59,82.64 L338.68,82.18 L338.75,81.78 L338.80,81.50Z" fill="url(#g12)" fill-opacity="1.0"/>
<path d="M348.40,83.20 L348.47,84.41 L348.57,86.13 L348.69,88.13 L348.80,90.16 L348.90,92.00 L348.97,93.71 L349.02,95.44 L349.08,97.10 L349.13,98.59 L349.20,99.80 L349.27,100.65 L349.34,101.21 L349.42,101.61 L349.53,101.96 L349.70,102.40 L349.95,102.91 L350.26,103.42 L350.60,103.92 L350.92,104.45 L351.20,105.00 L351.46,105.60 L351.74,106.23 L351.97,106.87 L352.11,107.50 L352.10,108.10 L351.90,108.67 L351.54,109.22 L351.09,109.75 L350.62,110.25 L350.20,110.70 L349.80,111.12 L349.39,111.53 L348.99,111.89 L348.64,112.18 L348.40,112.40 L348.00,112.40 L347.76,112.18 L347.41,111.89 L347.01,111.53 L346.60,111.12 L346.20,110.70 L345.78,110.25 L345.31,109.75 L344.86,109.22 L344.50,108.67 L344.30,108.10 L344.29,107.50 L344.43,106.87 L344.66,106.23 L344.94,105.60 L345.20,105.00 L345.48,104.45 L345.80,103.92 L346.14,103.42 L346.45,102.91 L346.70,102.40 L346.87,101.96 L346.98,101.61 L347.06,101.21 L347.13,100.65 L347.20,99.80 L347.27,98.59 L347.32,97.10 L347.38,95.44 L347.43,93.71 L347.50,92.00 L347.60,90.16 L347.71,88.13 L347.83,86.13 L347.93,84.41 L348.00,83.20Z" fill="url(#g13)" fill-opacity="1.0"/>
<text transform="translate(331.90,126.60) rotate(-45)" font-size="6.35" text-anchor="end" fill="#2b2b2b" stroke="#2b2b2b">Screening</text>
<text transform="translate(341.30,126.60) rotate(-45)" font-size="6.35" text-anchor="end" fill="#2b2b2b" stroke="#2b2b2b">VEN-relapse</text>
<text transform="translate(350.70,126.60) rotate(-45)" font-size="6.35" text-anchor="end" fill="#2b2b2b" stroke="#2b2b2b">VEN-relapse</text>
<text transform="translate(356.10,130.30) rotate(-45)" font-size="6.35" text-anchor="end" fill="#2b2b2b" stroke="#2b2b2b">now on BTKi</text>
<text x="393.30" y="69.00" font-size="8.4" text-anchor="middle" fill="#2b2b2b" stroke="#2b2b2b" font-weight="normal" textLength="22.1" lengthAdjust="spacingAndGlyphs">MCL1</text>
<line x1="374.90" y1="76.30" x2="374.90" y2="117.40" stroke="#2a2a2a" stroke-width="1.2"/>
<line x1="372.10" y1="88.50" x2="374.90" y2="88.50" stroke="#2a2a2a" stroke-width="1.2"/>
<text x="369.80" y="91.90" font-size="6.7" text-anchor="end" fill="#2b2b2b" stroke="#2b2b2b" font-weight="normal" textLength="3.61" lengthAdjust="spacingAndGlyphs">4</text>
<line x1="372.10" y1="101.60" x2="374.90" y2="101.60" stroke="#2a2a2a" stroke-width="1.2"/>
<text x="369.80" y="105.00" font-size="6.7" text-anchor="end" fill="#2b2b2b" stroke="#2b2b2b" font-weight="normal" textLength="3.61" lengthAdjust="spacingAndGlyphs">2</text>
<line x1="372.10" y1="115.00" x2="374.90" y2="115.00" stroke="#2a2a2a" stroke-width="1.2"/>
<text x="369.80" y="118.40" font-size="6.7" text-anchor="end" fill="#2b2b2b" stroke="#2b2b2b" font-weight="normal" textLength="3.61" lengthAdjust="spacingAndGlyphs">0</text>
<line x1="374.30" y1="117.40" x2="411.40" y2="117.40" stroke="#2a2a2a" stroke-width="1.2"/>
<line x1="379.80" y1="117.40" x2="379.80" y2="120.20" stroke="#2a2a2a" stroke-width="1.2"/>
<line x1="389.10" y1="117.40" x2="389.10" y2="120.20" stroke="#2a2a2a" stroke-width="1.2"/>
<line x1="398.30" y1="117.40" x2="398.30" y2="120.20" stroke="#2a2a2a" stroke-width="1.2"/>
<path d="M381.60,86.70 L381.64,87.82 L381.70,89.39 L381.77,91.23 L381.84,93.16 L381.90,95.00 L381.96,96.84 L382.02,98.79 L382.09,100.73 L382.15,102.51 L382.20,104.00 L382.25,105.14 L382.30,106.01 L382.35,106.71 L382.38,107.34 L382.40,108.00 L382.40,108.68 L382.38,109.32 L382.35,109.93 L382.32,110.49 L382.30,111.00 L382.28,111.48 L382.26,111.93 L382.23,112.33 L382.21,112.66 L382.20,112.90 L380.60,112.90 L380.59,112.66 L380.57,112.33 L380.54,111.93 L380.52,111.48 L380.50,111.00 L380.48,110.49 L380.45,109.93 L380.42,109.32 L380.40,108.68 L380.40,108.00 L380.42,107.34 L380.45,106.71 L380.50,106.01 L380.55,105.14 L380.60,104.00 L380.65,102.51 L380.71,100.73 L380.78,98.79 L380.84,96.84 L380.90,95.00 L380.96,93.16 L381.03,91.23 L381.10,89.39 L381.16,87.82 L381.20,86.70Z" fill="url(#g14)" fill-opacity="1.0"/>
<path d="M380.60,112.60 L382.20,112.60 L383.25,113.55 L385.50,114.35 L385.10,114.70 L377.70,114.70 L377.30,114.35 L379.55,113.55Z" fill="#1b5189" fill-opacity="1.0"/>
<path d="M393.40,80.60 L393.46,81.17 L393.54,81.97 L393.63,82.91 L393.72,83.95 L393.80,85.00 L393.86,86.16 L393.90,87.48 L393.94,88.81 L394.00,90.03 L394.10,91.00 L394.24,91.65 L394.40,92.07 L394.59,92.36 L394.79,92.64 L395.00,93.00 L395.22,93.42 L395.45,93.84 L395.70,94.28 L395.95,94.79 L396.20,95.40 L396.46,96.15 L396.74,97.02 L397.02,97.94 L397.28,98.89 L397.50,99.80 L397.71,100.68 L397.93,101.56 L398.11,102.45 L398.21,103.33 L398.20,104.20 L398.06,105.09 L397.81,105.98 L397.48,106.87 L397.10,107.72 L396.70,108.50 L396.23,109.23 L395.66,109.91 L395.08,110.55 L394.57,111.11 L394.20,111.60 L394.01,112.00 L393.94,112.31 L393.96,112.56 L393.99,112.75 L394.00,112.90 L392.40,112.90 L392.41,112.75 L392.44,112.56 L392.46,112.31 L392.39,112.00 L392.20,111.60 L391.83,111.11 L391.32,110.55 L390.74,109.91 L390.17,109.23 L389.70,108.50 L389.30,107.72 L388.92,106.87 L388.59,105.98 L388.34,105.09 L388.20,104.20 L388.19,103.33 L388.29,102.45 L388.47,101.56 L388.69,100.68 L388.90,99.80 L389.12,98.89 L389.38,97.94 L389.66,97.02 L389.94,96.15 L390.20,95.40 L390.45,94.79 L390.70,94.28 L390.95,93.84 L391.18,93.42 L391.40,93.00 L391.61,92.64 L391.81,92.36 L392.00,92.07 L392.16,91.65 L392.30,91.00 L392.40,90.03 L392.46,88.81 L392.50,87.48 L392.54,86.16 L392.60,85.00 L392.68,83.95 L392.77,82.91 L392.86,81.97 L392.94,81.17 L393.00,80.60Z" fill="url(#g15)" fill-opacity="1.0"/>
<path d="M392.40,112.60 L394.00,112.60 L394.95,113.55 L397.10,114.35 L396.70,114.70 L389.70,114.70 L389.30,114.35 L391.44,113.55Z" fill="#d5112f" fill-opacity="1.0"/>
<path d="M404.70,80.60 L404.78,81.87 L404.90,83.65 L405.04,85.75 L405.18,87.93 L405.30,90.00 L405.41,92.03 L405.53,94.15 L405.63,96.26 L405.73,98.25 L405.80,100.00 L405.85,101.49 L405.89,102.78 L405.92,103.94 L405.92,104.99 L405.90,106.00 L405.85,106.95 L405.77,107.80 L405.67,108.58 L405.58,109.30 L405.50,110.00 L405.44,110.70 L405.40,111.38 L405.36,112.00 L405.32,112.52 L405.30,112.90 L403.70,112.90 L403.68,112.52 L403.64,112.00 L403.60,111.38 L403.56,110.70 L403.50,110.00 L403.42,109.30 L403.33,108.58 L403.23,107.80 L403.15,106.95 L403.10,106.00 L403.08,104.99 L403.08,103.94 L403.11,102.78 L403.15,101.49 L403.20,100.00 L403.27,98.25 L403.37,96.26 L403.47,94.15 L403.59,92.03 L403.70,90.00 L403.82,87.93 L403.96,85.75 L404.10,83.65 L404.22,81.87 L404.30,80.60Z" fill="url(#g16)" fill-opacity="0.85"/>
<path d="M403.70,112.60 L405.30,112.60 L406.44,113.55 L408.80,114.35 L408.40,114.70 L400.60,114.70 L400.20,114.35 L402.56,113.55Z" fill="#f7b51c" fill-opacity="0.85"/>
<text transform="translate(382.20,126.70) rotate(-45)" font-size="6.35" text-anchor="end" fill="#2b2b2b" stroke="#2b2b2b">Screening</text>
<text transform="translate(391.50,126.70) rotate(-45)" font-size="6.35" text-anchor="end" fill="#2b2b2b" stroke="#2b2b2b">VEN-relapse</text>
<text transform="translate(400.70,126.70) rotate(-45)" font-size="6.35" text-anchor="end" fill="#2b2b2b" stroke="#2b2b2b">VEN-relapse</text>
<text transform="translate(406.10,130.40) rotate(-45)" font-size="6.35" text-anchor="end" fill="#2b2b2b" stroke="#2b2b2b">now on BTKi</text>
<text x="444.40" y="69.00" font-size="8.4" text-anchor="middle" fill="#2b2b2b" stroke="#2b2b2b" font-weight="normal" textLength="30.7" lengthAdjust="spacingAndGlyphs">BCL2A1</text>
<line x1="426.10" y1="74.20" x2="426.10" y2="117.30" stroke="#2a2a2a" stroke-width="1.2"/>
<line x1="423.30" y1="77.80" x2="426.10" y2="77.80" stroke="#2a2a2a" stroke-width="1.2"/>
<text x="421.00" y="81.20" font-size="6.7" text-anchor="end" fill="#2b2b2b" stroke="#2b2b2b" font-weight="normal" textLength="3.61" lengthAdjust="spacingAndGlyphs">4</text>
<line x1="423.30" y1="87.00" x2="426.10" y2="87.00" stroke="#2a2a2a" stroke-width="1.2"/>
<text x="421.00" y="90.40" font-size="6.7" text-anchor="end" fill="#2b2b2b" stroke="#2b2b2b" font-weight="normal" textLength="3.61" lengthAdjust="spacingAndGlyphs">3</text>
<line x1="423.30" y1="96.20" x2="426.10" y2="96.20" stroke="#2a2a2a" stroke-width="1.2"/>
<text x="421.00" y="99.60" font-size="6.7" text-anchor="end" fill="#2b2b2b" stroke="#2b2b2b" font-weight="normal" textLength="3.61" lengthAdjust="spacingAndGlyphs">2</text>
<line x1="423.30" y1="105.50" x2="426.10" y2="105.50" stroke="#2a2a2a" stroke-width="1.2"/>
<text x="421.00" y="108.90" font-size="6.7" text-anchor="end" fill="#2b2b2b" stroke="#2b2b2b" font-weight="normal" textLength="3.61" lengthAdjust="spacingAndGlyphs">1</text>
<line x1="423.30" y1="114.90" x2="426.10" y2="114.90" stroke="#2a2a2a" stroke-width="1.2"/>
<text x="421.00" y="118.30" font-size="6.7" text-anchor="end" fill="#2b2b2b" stroke="#2b2b2b" font-weight="normal" textLength="3.61" lengthAdjust="spacingAndGlyphs">0</text>
<line x1="425.50" y1="117.30" x2="462.30" y2="117.30" stroke="#2a2a2a" stroke-width="1.2"/>
<line x1="430.70" y1="117.30" x2="430.70" y2="120.10" stroke="#2a2a2a" stroke-width="1.2"/>
<line x1="440.40" y1="117.30" x2="440.40" y2="120.10" stroke="#2a2a2a" stroke-width="1.2"/>
<line x1="449.80" y1="117.30" x2="449.80" y2="120.10" stroke="#2a2a2a" stroke-width="1.2"/>
<line x1="428.50" y1="115.20" x2="437.80" y2="115.20" stroke="#9a9aa8" stroke-width="0.8"/>
<line x1="451.50" y1="115.20" x2="461.50" y2="115.20" stroke="#9a9aa8" stroke-width="0.8"/>
<line x1="433.60" y1="78.40" x2="433.60" y2="115.00" stroke="#4a4a4a" stroke-width="0.9"/>
<line x1="456.30" y1="82.00" x2="456.30" y2="115.00" stroke="#4a4a4a" stroke-width="0.9"/>
<path d="M445.10,78.40 L445.13,80.00 L445.16,82.28 L445.21,84.92 L445.25,87.60 L445.30,90.00 L445.35,92.13 L445.39,94.21 L445.44,96.22 L445.50,98.15 L445.55,100.00 L445.61,101.80 L445.68,103.56 L445.75,105.22 L445.81,106.72 L445.85,108.00 L445.86,109.02 L445.86,109.81 L445.85,110.44 L445.83,110.98 L445.80,111.50 L445.77,112.00 L445.72,112.43 L445.67,112.79 L445.63,113.08 L445.60,113.30 L444.00,113.30 L443.97,113.08 L443.93,112.79 L443.88,112.43 L443.83,112.00 L443.80,111.50 L443.77,110.98 L443.75,110.44 L443.74,109.81 L443.74,109.02 L443.75,108.00 L443.79,106.72 L443.85,105.22 L443.92,103.56 L443.99,101.80 L444.05,100.00 L444.10,98.15 L444.16,96.22 L444.21,94.21 L444.25,92.13 L444.30,90.00 L444.35,87.60 L444.39,84.92 L444.44,82.28 L444.47,80.00 L444.50,78.40Z" fill="url(#g17)" fill-opacity="1.0"/>
<path d="M444.00,113.00 L445.60,113.00 L446.69,114.03 L449.00,114.95 L448.60,115.30 L441.00,115.30 L440.60,114.95 L442.91,114.03Z" fill="#d5112f" fill-opacity="1.0"/>
<text x="495.20" y="69.00" font-size="8.4" text-anchor="middle" fill="#2b2b2b" stroke="#2b2b2b" font-weight="normal" textLength="20.1" lengthAdjust="spacingAndGlyphs">BCL2</text>
<line x1="477.10" y1="76.10" x2="477.10" y2="117.20" stroke="#2a2a2a" stroke-width="1.2"/>
<line x1="474.30" y1="89.30" x2="477.10" y2="89.30" stroke="#2a2a2a" stroke-width="1.2"/>
<text x="472.00" y="92.70" font-size="6.7" text-anchor="end" fill="#2b2b2b" stroke="#2b2b2b" font-weight="normal" textLength="3.61" lengthAdjust="spacingAndGlyphs">4</text>
<line x1="474.30" y1="102.00" x2="477.10" y2="102.00" stroke="#2a2a2a" stroke-width="1.2"/>
<text x="472.00" y="105.40" font-size="6.7" text-anchor="end" fill="#2b2b2b" stroke="#2b2b2b" font-weight="normal" textLength="3.61" lengthAdjust="spacingAndGlyphs">2</text>
<line x1="474.30" y1="114.80" x2="477.10" y2="114.80" stroke="#2a2a2a" stroke-width="1.2"/>
<text x="472.00" y="118.20" font-size="6.7" text-anchor="end" fill="#2b2b2b" stroke="#2b2b2b" font-weight="normal" textLength="3.61" lengthAdjust="spacingAndGlyphs">0</text>
<line x1="476.50" y1="117.20" x2="513.20" y2="117.20" stroke="#2a2a2a" stroke-width="1.2"/>
<line x1="481.80" y1="117.20" x2="481.80" y2="120.00" stroke="#2a2a2a" stroke-width="1.2"/>
<line x1="491.40" y1="117.20" x2="491.40" y2="120.00" stroke="#2a2a2a" stroke-width="1.2"/>
<line x1="500.60" y1="117.20" x2="500.60" y2="120.00" stroke="#2a2a2a" stroke-width="1.2"/>
<path d="M483.50,82.40 L483.57,82.98 L483.66,83.78 L483.78,84.74 L483.89,85.83 L484.00,87.00 L484.10,88.29 L484.20,89.73 L484.29,91.25 L484.39,92.80 L484.50,94.30 L484.62,95.80 L484.74,97.35 L484.87,98.87 L484.99,100.31 L485.10,101.60 L485.21,102.71 L485.33,103.68 L485.43,104.55 L485.49,105.38 L485.50,106.20 L485.43,107.02 L485.30,107.81 L485.14,108.56 L484.96,109.26 L484.80,109.90 L484.64,110.47 L484.45,110.97 L484.27,111.43 L484.12,111.83 L484.00,112.20 L483.93,112.53 L483.90,112.82 L483.90,113.06 L483.90,113.25 L483.90,113.40 L482.70,113.40 L482.70,113.25 L482.70,113.06 L482.70,112.82 L482.67,112.53 L482.60,112.20 L482.48,111.83 L482.33,111.43 L482.15,110.97 L481.96,110.47 L481.80,109.90 L481.64,109.26 L481.46,108.56 L481.30,107.81 L481.17,107.02 L481.10,106.20 L481.11,105.38 L481.17,104.55 L481.27,103.68 L481.39,102.71 L481.50,101.60 L481.61,100.31 L481.73,98.87 L481.86,97.35 L481.98,95.80 L482.10,94.30 L482.21,92.80 L482.31,91.25 L482.40,89.73 L482.50,88.29 L482.60,87.00 L482.71,85.83 L482.82,84.74 L482.94,83.78 L483.03,82.98 L483.10,82.40Z" fill="url(#g18)" fill-opacity="1.0"/>
<path d="M482.50,113.10 L484.10,113.10 L484.92,113.91 L486.90,114.55 L486.50,114.90 L480.10,114.90 L479.70,114.55 L481.68,113.91Z" fill="#1b5189" fill-opacity="1.0"/>
<path d="M495.20,80.10 L495.26,81.49 L495.34,83.49 L495.44,85.77 L495.53,88.05 L495.60,90.00 L495.64,91.67 L495.67,93.25 L495.69,94.71 L495.73,95.97 L495.80,97.00 L495.90,97.68 L496.01,98.05 L496.14,98.26 L496.30,98.49 L496.50,98.90 L496.76,99.51 L497.09,100.21 L497.43,100.97 L497.75,101.75 L498.00,102.50 L498.19,103.23 L498.34,103.97 L498.46,104.72 L498.51,105.46 L498.50,106.20 L498.40,106.97 L498.23,107.78 L498.01,108.57 L497.76,109.29 L497.50,109.90 L497.21,110.35 L496.88,110.68 L496.54,110.94 L496.23,111.19 L496.00,111.50 L495.86,111.89 L495.78,112.33 L495.74,112.76 L495.72,113.14 L495.70,113.40 L494.30,113.40 L494.28,113.14 L494.26,112.76 L494.22,112.33 L494.14,111.89 L494.00,111.50 L493.77,111.19 L493.46,110.94 L493.12,110.68 L492.79,110.35 L492.50,109.90 L492.24,109.29 L491.99,108.57 L491.77,107.78 L491.60,106.97 L491.50,106.20 L491.49,105.46 L491.54,104.72 L491.66,103.97 L491.81,103.23 L492.00,102.50 L492.25,101.75 L492.57,100.97 L492.91,100.21 L493.24,99.51 L493.50,98.90 L493.70,98.49 L493.86,98.26 L493.99,98.05 L494.10,97.68 L494.20,97.00 L494.27,95.97 L494.31,94.71 L494.33,93.25 L494.36,91.67 L494.40,90.00 L494.47,88.05 L494.56,85.77 L494.66,83.49 L494.74,81.49 L494.80,80.10Z" fill="url(#g19)" fill-opacity="1.0"/>
<path d="M494.20,113.10 L495.80,113.10 L496.85,113.91 L499.10,114.55 L498.70,114.90 L491.30,114.90 L490.90,114.55 L493.15,113.91Z" fill="#d5112f" fill-opacity="1.0"/>
<path d="M506.90,82.40 L506.98,84.24 L507.09,86.91 L507.22,89.92 L507.36,92.78 L507.50,95.00 L507.64,96.46 L507.78,97.49 L507.93,98.27 L508.07,98.98 L508.20,99.80 L508.33,100.73 L508.46,101.65 L508.58,102.57 L508.67,103.48 L508.70,104.40 L508.67,105.35 L508.58,106.34 L508.46,107.31 L508.33,108.21 L508.20,109.00 L508.06,109.64 L507.91,110.18 L507.75,110.64 L507.61,111.07 L507.50,111.50 L507.42,111.95 L507.37,112.39 L507.34,112.81 L507.32,113.15 L507.30,113.40 L506.10,113.40 L506.08,113.15 L506.06,112.81 L506.03,112.39 L505.98,111.95 L505.90,111.50 L505.79,111.07 L505.65,110.64 L505.49,110.18 L505.34,109.64 L505.20,109.00 L505.07,108.21 L504.94,107.31 L504.82,106.34 L504.73,105.35 L504.70,104.40 L504.73,103.48 L504.82,102.57 L504.94,101.65 L505.07,100.73 L505.20,99.80 L505.33,98.98 L505.47,98.27 L505.62,97.49 L505.76,96.46 L505.90,95.00 L506.04,92.78 L506.18,89.92 L506.31,86.91 L506.42,84.24 L506.50,82.40Z" fill="url(#g20)" fill-opacity="0.85"/>
<path d="M505.90,113.10 L507.50,113.10 L508.63,113.91 L511.00,114.55 L510.60,114.90 L502.80,114.90 L502.40,114.55 L504.76,113.91Z" fill="#f7b51c" fill-opacity="0.85"/>
<text transform="translate(484.20,126.50) rotate(-45)" font-size="6.35" text-anchor="end" fill="#2b2b2b" stroke="#2b2b2b">Screening</text>
<text transform="translate(493.80,126.50) rotate(-45)" font-size="6.35" text-anchor="end" fill="#2b2b2b" stroke="#2b2b2b">VEN-relapse</text>
<text transform="translate(503.00,126.50) rotate(-45)" font-size="6.35" text-anchor="end" fill="#2b2b2b" stroke="#2b2b2b">VEN-relapse</text>
<text transform="translate(508.40,130.20) rotate(-45)" font-size="6.35" text-anchor="end" fill="#2b2b2b" stroke="#2b2b2b">now on BTKi</text>
<text transform="translate(433.10,126.60) rotate(-45)" font-size="6.35" text-anchor="end" fill="#2b2b2b" stroke="#2b2b2b">Screening</text>
<text transform="translate(442.80,126.60) rotate(-45)" font-size="6.35" text-anchor="end" fill="#2b2b2b" stroke="#2b2b2b">VEN-relapse</text>
<text transform="translate(452.20,126.60) rotate(-45)" font-size="6.35" text-anchor="end" fill="#2b2b2b" stroke="#2b2b2b">VEN-relapse</text>
<text transform="translate(457.60,130.30) rotate(-45)" font-size="6.35" text-anchor="end" fill="#2b2b2b" stroke="#2b2b2b">now on BTKi</text>
<text x="0.90" y="158.20" font-size="11.2" text-anchor="start" fill="#111" stroke="#111" font-weight="bold" style="stroke-width:0.45px">B</text>
<text x="68.70" y="167.90" font-size="9.0" text-anchor="middle" fill="#2b2b2b" stroke="#2b2b2b" font-weight="normal">CLL5</text>
<path d="M61.10,232.60 L76.20,265.20 L76.20,267.60 L61.10,267.60Z" fill="#e9168b" fill-opacity="0.5"/>
<path d="M61.10,227.10 L76.20,264.80 L76.20,265.20 L61.10,232.60Z" fill="#0d6e50" fill-opacity="0.5"/>
<path d="M61.10,196.50 L76.20,259.70 L76.20,264.80 L61.10,227.10Z" fill="#1b5189" fill-opacity="0.5"/>
<path d="M61.10,193.00 L76.20,257.80 L76.20,259.70 L61.10,196.50Z" fill="#a6c28c" fill-opacity="0.5"/>
<path d="M61.10,188.10 L76.20,252.80 L76.20,257.80 L61.10,193.00Z" fill="#3bb54a" fill-opacity="0.5"/>
<path d="M61.10,185.40 L76.20,244.60 L76.20,252.80 L61.10,188.10Z" fill="#c96b2a" fill-opacity="0.5"/>
<path d="M61.10,181.30 L76.20,181.30 L76.20,244.60 L61.10,185.40Z" fill="#3e4c62" fill-opacity="0.5"/>
<rect x="31.20" y="181.30" width="29.90" height="4.10" fill="#3e4c62"/>
<rect x="31.20" y="185.40" width="29.90" height="2.70" fill="#c96b2a"/>
<rect x="31.20" y="188.10" width="29.90" height="4.90" fill="#3bb54a"/>
<rect x="31.20" y="193.00" width="29.90" height="3.50" fill="#a6c28c"/>
<rect x="31.20" y="196.50" width="29.90" height="30.60" fill="#1b5189"/>
<rect x="31.20" y="227.10" width="29.90" height="5.50" fill="#0d6e50"/>
<rect x="31.20" y="232.60" width="29.90" height="35.00" fill="#e9168b"/>
<rect x="76.20" y="181.30" width="30.20" height="63.30" fill="#3e4c62"/>
<rect x="76.20" y="244.60" width="30.20" height="8.20" fill="#c96b2a"/>
<rect x="76.20" y="252.80" width="30.20" height="5.00" fill="#3bb54a"/>
<rect x="76.20" y="257.80" width="30.20" height="1.90" fill="#a6c28c"/>
<rect x="76.20" y="259.70" width="30.20" height="5.10" fill="#1b5189"/>
<rect x="76.20" y="264.80" width="30.20" height="0.40" fill="#0d6e50"/>
<rect x="76.20" y="265.20" width="30.20" height="2.40" fill="#e9168b"/>
<text x="46.10" y="198.40" font-size="7.2" text-anchor="middle" fill="#1d2d1d" stroke="#1d2d1d" font-weight="normal">6</text>
<text x="46.10" y="214.10" font-size="7.2" text-anchor="middle" fill="#dde4ee" stroke="#dde4ee" font-weight="normal">2</text>
<text x="46.10" y="232.40" font-size="7.2" text-anchor="middle" fill="#b8e0c8" stroke="#b8e0c8" font-weight="normal">4</text>
<text x="46.10" y="254.00" font-size="7.2" text-anchor="middle" fill="#fadcea" stroke="#fadcea" font-weight="normal">1</text>
<text x="91.30" y="214.60" font-size="7.2" text-anchor="middle" fill="#d8dde6" stroke="#d8dde6" font-weight="normal">0</text>
<text x="91.30" y="251.40" font-size="7.2" text-anchor="middle" fill="#5a1a00" stroke="#5a1a00" font-weight="normal">5</text>
<text x="91.30" y="258.00" font-size="7.2" text-anchor="middle" fill="#0a3a10" stroke="#0a3a10" font-weight="normal">3</text>
<line x1="26.60" y1="179.50" x2="26.60" y2="268.20" stroke="#2a2a2a" stroke-width="1.2"/>
<line x1="23.80" y1="181.30" x2="26.60" y2="181.30" stroke="#2a2a2a" stroke-width="1.2"/>
<text x="20.20" y="184.70" font-size="7.9" text-anchor="end" fill="#2b2b2b" stroke="#2b2b2b" font-weight="normal" textLength="11.31" lengthAdjust="spacingAndGlyphs">1.0</text>
<line x1="23.80" y1="198.50" x2="26.60" y2="198.50" stroke="#2a2a2a" stroke-width="1.2"/>
<text x="20.20" y="201.90" font-size="7.9" text-anchor="end" fill="#2b2b2b" stroke="#2b2b2b" font-weight="normal" textLength="11.31" lengthAdjust="spacingAndGlyphs">0.8</text>
<line x1="23.80" y1="215.80" x2="26.60" y2="215.80" stroke="#2a2a2a" stroke-width="1.2"/>
<text x="20.20" y="219.20" font-size="7.9" text-anchor="end" fill="#2b2b2b" stroke="#2b2b2b" font-weight="normal" textLength="11.31" lengthAdjust="spacingAndGlyphs">0.6</text>
<line x1="23.80" y1="233.00" x2="26.60" y2="233.00" stroke="#2a2a2a" stroke-width="1.2"/>
<text x="20.20" y="236.40" font-size="7.9" text-anchor="end" fill="#2b2b2b" stroke="#2b2b2b" font-weight="normal" textLength="11.31" lengthAdjust="spacingAndGlyphs">0.4</text>
<line x1="23.80" y1="250.30" x2="26.60" y2="250.30" stroke="#2a2a2a" stroke-width="1.2"/>
<text x="20.20" y="253.70" font-size="7.9" text-anchor="end" fill="#2b2b2b" stroke="#2b2b2b" font-weight="normal" textLength="11.31" lengthAdjust="spacingAndGlyphs">0.2</text>
<line x1="23.80" y1="267.60" x2="26.60" y2="267.60" stroke="#2a2a2a" stroke-width="1.2"/>
<text x="20.20" y="271.00" font-size="7.9" text-anchor="end" fill="#2b2b2b" stroke="#2b2b2b" font-weight="normal" textLength="11.31" lengthAdjust="spacingAndGlyphs">0.0</text>
<line x1="26.00" y1="268.20" x2="110.20" y2="268.20" stroke="#2a2a2a" stroke-width="1.2"/>
<line x1="46.10" y1="268.20" x2="46.10" y2="271.00" stroke="#2a2a2a" stroke-width="1.2"/>
<line x1="91.30" y1="268.20" x2="91.30" y2="271.00" stroke="#2a2a2a" stroke-width="1.2"/>
<text x="46.10" y="280.70" font-size="8.1" text-anchor="middle" fill="#2b2b2b" stroke="#2b2b2b" font-weight="normal">VEN</text>
<text x="46.10" y="289.90" font-size="8.1" text-anchor="middle" fill="#2b2b2b" stroke="#2b2b2b" font-weight="normal" textLength="26.0" lengthAdjust="spacingAndGlyphs">relapse</text>
<text x="91.30" y="280.70" font-size="8.1" text-anchor="middle" fill="#2b2b2b" stroke="#2b2b2b" font-weight="normal" textLength="44.0" lengthAdjust="spacingAndGlyphs">VEN relapse</text>
<text x="91.30" y="289.90" font-size="8.1" text-anchor="middle" fill="#2b2b2b" stroke="#2b2b2b" font-weight="normal" textLength="44.6" lengthAdjust="spacingAndGlyphs">now on BTKi</text>
<text x="200.80" y="208.40" font-size="8.7" text-anchor="middle" fill="#2b2b2b" stroke="#2b2b2b" font-weight="normal" textLength="51.1" lengthAdjust="spacingAndGlyphs">NFKB_genes</text>
<line x1="139.20" y1="215.40" x2="139.20" y2="268.00" stroke="#2a2a2a" stroke-width="1.2"/>
<line x1="136.40" y1="219.20" x2="139.20" y2="219.20" stroke="#2a2a2a" stroke-width="1.2"/>
<text x="133.70" y="222.50" font-size="7.8" text-anchor="end" fill="#2b2b2b" stroke="#2b2b2b" font-weight="normal" textLength="12.14" lengthAdjust="spacingAndGlyphs">0.6</text>
<line x1="136.40" y1="232.40" x2="139.20" y2="232.40" stroke="#2a2a2a" stroke-width="1.2"/>
<text x="133.70" y="235.70" font-size="7.8" text-anchor="end" fill="#2b2b2b" stroke="#2b2b2b" font-weight="normal" textLength="12.14" lengthAdjust="spacingAndGlyphs">0.4</text>
<line x1="136.40" y1="245.70" x2="139.20" y2="245.70" stroke="#2a2a2a" stroke-width="1.2"/>
<text x="133.70" y="249.00" font-size="7.8" text-anchor="end" fill="#2b2b2b" stroke="#2b2b2b" font-weight="normal" textLength="12.14" lengthAdjust="spacingAndGlyphs">0.2</text>
<line x1="136.40" y1="259.50" x2="139.20" y2="259.50" stroke="#2a2a2a" stroke-width="1.2"/>
<text x="133.70" y="262.80" font-size="7.8" text-anchor="end" fill="#2b2b2b" stroke="#2b2b2b" font-weight="normal" textLength="12.14" lengthAdjust="spacingAndGlyphs">0.0</text>
<line x1="138.60" y1="268.00" x2="262.90" y2="268.00" stroke="#2a2a2a" stroke-width="1.2"/>
<line x1="149.10" y1="268.00" x2="149.10" y2="270.80" stroke="#2a2a2a" stroke-width="1.2"/>
<line x1="166.38" y1="268.00" x2="166.38" y2="270.80" stroke="#2a2a2a" stroke-width="1.2"/>
<line x1="183.66" y1="268.00" x2="183.66" y2="270.80" stroke="#2a2a2a" stroke-width="1.2"/>
<line x1="200.94" y1="268.00" x2="200.94" y2="270.80" stroke="#2a2a2a" stroke-width="1.2"/>
<line x1="218.22" y1="268.00" x2="218.22" y2="270.80" stroke="#2a2a2a" stroke-width="1.2"/>
<line x1="235.50" y1="268.00" x2="235.50" y2="270.80" stroke="#2a2a2a" stroke-width="1.2"/>
<line x1="252.78" y1="268.00" x2="252.78" y2="270.80" stroke="#2a2a2a" stroke-width="1.2"/>
<text x="149.10" y="280.60" font-size="8.6" text-anchor="middle" fill="#2b2b2b" stroke="#2b2b2b" font-weight="normal">0</text>
<text x="166.38" y="280.60" font-size="8.6" text-anchor="middle" fill="#c23350" stroke="#c23350" font-weight="normal">1</text>
<text x="183.66" y="280.60" font-size="8.6" text-anchor="middle" fill="#c23350" stroke="#c23350" font-weight="normal">2</text>
<text x="200.94" y="280.60" font-size="8.6" text-anchor="middle" fill="#2b2b2b" stroke="#2b2b2b" font-weight="normal">3</text>
<text x="218.22" y="280.60" font-size="8.6" text-anchor="middle" fill="#c23350" stroke="#c23350" font-weight="normal">4</text>
<text x="235.50" y="280.60" font-size="8.6" text-anchor="middle" fill="#2b2b2b" stroke="#2b2b2b" font-weight="normal">5</text>
<text x="252.78" y="280.60" font-size="8.6" text-anchor="middle" fill="#c23350" stroke="#c23350" font-weight="normal">6</text>
<text x="200.80" y="294.00" font-size="8.2" text-anchor="middle" fill="#2b2b2b" stroke="#2b2b2b" font-weight="normal" textLength="24.5" lengthAdjust="spacingAndGlyphs">Identity</text>
<path d="M149.40,219.20 L149.46,220.00 L149.55,221.14 L149.66,222.46 L149.78,223.80 L149.90,225.00 L150.02,226.06 L150.14,227.08 L150.27,228.07 L150.42,229.04 L150.60,230.00 L150.80,230.92 L151.02,231.81 L151.26,232.69 L151.55,233.58 L151.90,234.50 L152.33,235.45 L152.83,236.42 L153.36,237.40 L153.90,238.43 L154.40,239.50 L154.91,240.67 L155.46,241.92 L155.97,243.20 L156.38,244.41 L156.60,245.50 L156.62,246.44 L156.47,247.27 L156.21,248.03 L155.87,248.76 L155.50,249.50 L155.09,250.23 L154.61,250.92 L154.08,251.60 L153.50,252.29 L152.90,253.00 L152.20,253.80 L151.40,254.68 L150.59,255.54 L149.89,256.28 L149.40,256.80 L148.80,256.80 L148.31,256.28 L147.61,255.54 L146.80,254.68 L146.00,253.80 L145.30,253.00 L144.70,252.29 L144.12,251.60 L143.59,250.92 L143.11,250.23 L142.70,249.50 L142.33,248.76 L141.99,248.03 L141.73,247.27 L141.58,246.44 L141.60,245.50 L141.82,244.41 L142.23,243.20 L142.74,241.92 L143.29,240.67 L143.80,239.50 L144.30,238.43 L144.84,237.40 L145.37,236.42 L145.87,235.45 L146.30,234.50 L146.65,233.58 L146.94,232.69 L147.18,231.81 L147.40,230.92 L147.60,230.00 L147.78,229.04 L147.93,228.07 L148.06,227.08 L148.18,226.06 L148.30,225.00 L148.42,223.80 L148.54,222.46 L148.65,221.14 L148.74,220.00 L148.80,219.20Z" fill="url(#g21)"/>
<path d="M166.68,232.00 L166.93,232.28 L167.27,232.68 L167.69,233.15 L168.13,233.67 L168.58,234.20 L169.04,234.74 L169.53,235.32 L170.04,235.94 L170.56,236.60 L171.08,237.30 L171.66,238.08 L172.31,238.93 L172.93,239.82 L173.42,240.69 L173.68,241.50 L173.66,242.24 L173.43,242.93 L173.06,243.60 L172.62,244.28 L172.18,245.00 L171.74,245.78 L171.23,246.59 L170.69,247.41 L170.14,248.22 L169.58,249.00 L168.97,249.79 L168.30,250.60 L167.65,251.38 L167.08,252.03 L166.68,252.50 L166.08,252.50 L165.68,252.03 L165.11,251.38 L164.46,250.60 L163.79,249.79 L163.18,249.00 L162.62,248.22 L162.07,247.41 L161.53,246.59 L161.02,245.78 L160.58,245.00 L160.14,244.28 L159.70,243.60 L159.33,242.93 L159.10,242.24 L159.08,241.50 L159.34,240.69 L159.83,239.82 L160.45,238.93 L161.10,238.08 L161.68,237.30 L162.20,236.60 L162.72,235.94 L163.23,235.32 L163.72,234.74 L164.18,234.20 L164.63,233.67 L165.07,233.15 L165.49,232.68 L165.83,232.28 L166.08,232.00Z" fill="url(#g22)"/>
<path d="M183.96,222.00 L184.04,222.85 L184.15,224.06 L184.28,225.46 L184.42,226.83 L184.56,228.00 L184.69,228.94 L184.81,229.77 L184.94,230.53 L185.09,231.26 L185.26,232.00 L185.45,232.72 L185.65,233.41 L185.87,234.09 L186.14,234.78 L186.46,235.50 L186.87,236.25 L187.36,237.01 L187.89,237.79 L188.40,238.62 L188.86,239.50 L189.31,240.48 L189.79,241.54 L190.21,242.63 L190.53,243.70 L190.66,244.70 L190.57,245.61 L190.31,246.48 L189.94,247.31 L189.50,248.14 L189.06,249.00 L188.60,249.87 L188.09,250.74 L187.54,251.63 L186.99,252.54 L186.46,253.50 L185.91,254.61 L185.33,255.85 L184.78,257.09 L184.30,258.15 L183.96,258.90 L183.36,258.90 L183.02,258.15 L182.54,257.09 L181.99,255.85 L181.41,254.61 L180.86,253.50 L180.33,252.54 L179.78,251.63 L179.23,250.74 L178.72,249.87 L178.26,249.00 L177.82,248.14 L177.38,247.31 L177.01,246.48 L176.75,245.61 L176.66,244.70 L176.79,243.70 L177.11,242.63 L177.53,241.54 L178.01,240.48 L178.46,239.50 L178.92,238.62 L179.43,237.79 L179.96,237.01 L180.45,236.25 L180.86,235.50 L181.18,234.78 L181.45,234.09 L181.67,233.41 L181.87,232.72 L182.06,232.00 L182.23,231.26 L182.38,230.53 L182.51,229.77 L182.63,228.94 L182.76,228.00 L182.90,226.83 L183.04,225.46 L183.17,224.06 L183.28,222.85 L183.36,222.00Z" fill="url(#g23)"/>
<path d="M201.24,235.40 L201.31,236.06 L201.40,237.02 L201.52,238.10 L201.63,239.15 L201.74,240.00 L201.81,240.60 L201.85,241.07 L201.91,241.46 L202.02,241.85 L202.24,242.30 L202.58,242.81 L203.03,243.34 L203.53,243.88 L204.04,244.43 L204.54,245.00 L205.03,245.57 L205.54,246.15 L206.04,246.75 L206.52,247.36 L206.94,248.00 L207.33,248.67 L207.70,249.36 L208.03,250.08 L208.28,250.79 L208.44,251.50 L208.48,252.21 L208.42,252.92 L208.29,253.64 L208.12,254.33 L207.94,255.00 L207.76,255.64 L207.55,256.26 L207.31,256.86 L207.04,257.44 L206.74,258.00 L206.41,258.54 L206.06,259.06 L205.67,259.56 L205.24,260.04 L204.74,260.50 L204.11,260.96 L203.36,261.43 L202.58,261.87 L201.91,262.24 L201.44,262.50 L200.44,262.50 L199.97,262.24 L199.30,261.87 L198.52,261.43 L197.77,260.96 L197.14,260.50 L196.64,260.04 L196.21,259.56 L195.82,259.06 L195.47,258.54 L195.14,258.00 L194.84,257.44 L194.57,256.86 L194.33,256.26 L194.12,255.64 L193.94,255.00 L193.76,254.33 L193.59,253.64 L193.46,252.92 L193.40,252.21 L193.44,251.50 L193.60,250.79 L193.85,250.08 L194.18,249.36 L194.55,248.67 L194.94,248.00 L195.36,247.36 L195.84,246.75 L196.34,246.15 L196.85,245.57 L197.34,245.00 L197.84,244.43 L198.35,243.88 L198.85,243.34 L199.30,242.81 L199.64,242.30 L199.86,241.85 L199.97,241.46 L200.03,241.07 L200.07,240.60 L200.14,240.00 L200.25,239.15 L200.36,238.10 L200.48,237.02 L200.57,236.06 L200.64,235.40Z" fill="url(#g24)"/>
<path d="M218.52,236.50 L218.68,236.98 L218.89,237.67 L219.15,238.47 L219.43,239.28 L219.72,240.00 L220.01,240.64 L220.31,241.26 L220.64,241.86 L221.00,242.44 L221.42,243.00 L221.93,243.54 L222.52,244.05 L223.14,244.55 L223.73,245.03 L224.22,245.50 L224.65,245.95 L225.04,246.37 L225.38,246.79 L225.61,247.23 L225.72,247.70 L225.68,248.20 L225.53,248.72 L225.27,249.26 L224.92,249.85 L224.52,250.50 L224.02,251.21 L223.41,251.98 L222.74,252.79 L222.06,253.64 L221.42,254.50 L220.78,255.47 L220.11,256.56 L219.46,257.62 L218.91,258.55 L218.52,259.20 L217.92,259.20 L217.53,258.55 L216.98,257.62 L216.33,256.56 L215.66,255.47 L215.02,254.50 L214.38,253.64 L213.70,252.79 L213.03,251.98 L212.42,251.21 L211.92,250.50 L211.52,249.85 L211.17,249.26 L210.91,248.72 L210.76,248.20 L210.72,247.70 L210.83,247.23 L211.06,246.79 L211.40,246.37 L211.79,245.95 L212.22,245.50 L212.71,245.03 L213.30,244.55 L213.92,244.05 L214.51,243.54 L215.02,243.00 L215.44,242.44 L215.80,241.86 L216.13,241.26 L216.43,240.64 L216.72,240.00 L217.01,239.28 L217.29,238.47 L217.55,237.67 L217.76,236.98 L217.92,236.50Z" fill="url(#g25)"/>
<path d="M235.80,243.80 L235.94,244.17 L236.13,244.70 L236.35,245.30 L236.58,245.93 L236.80,246.50 L236.99,247.01 L237.18,247.51 L237.36,248.01 L237.57,248.50 L237.80,249.00 L238.06,249.50 L238.33,249.99 L238.63,250.48 L238.95,250.98 L239.30,251.50 L239.71,252.04 L240.16,252.61 L240.64,253.18 L241.09,253.75 L241.50,254.30 L241.89,254.83 L242.28,255.35 L242.63,255.87 L242.88,256.38 L243.00,256.90 L242.96,257.42 L242.80,257.94 L242.54,258.47 L242.20,258.99 L241.80,259.50 L241.32,260.00 L240.73,260.50 L240.09,261.00 L239.43,261.50 L238.80,262.00 L238.15,262.56 L237.46,263.16 L236.78,263.74 L236.21,264.24 L235.80,264.60 L235.20,264.60 L234.79,264.24 L234.22,263.74 L233.54,263.16 L232.85,262.56 L232.20,262.00 L231.57,261.50 L230.91,261.00 L230.27,260.50 L229.68,260.00 L229.20,259.50 L228.80,258.99 L228.46,258.47 L228.20,257.94 L228.04,257.42 L228.00,256.90 L228.12,256.38 L228.37,255.87 L228.72,255.35 L229.11,254.83 L229.50,254.30 L229.91,253.75 L230.36,253.18 L230.84,252.61 L231.29,252.04 L231.70,251.50 L232.05,250.98 L232.37,250.48 L232.67,249.99 L232.94,249.50 L233.20,249.00 L233.43,248.50 L233.64,248.01 L233.82,247.51 L234.01,247.01 L234.20,246.50 L234.42,245.93 L234.65,245.30 L234.87,244.70 L235.06,244.17 L235.20,243.80Z" fill="url(#g26)"/>
<path d="M253.08,240.80 L253.18,241.18 L253.31,241.72 L253.47,242.34 L253.63,242.96 L253.78,243.50 L253.89,243.93 L253.97,244.31 L254.07,244.68 L254.22,245.06 L254.48,245.50 L254.85,246.01 L255.31,246.56 L255.84,247.13 L256.40,247.72 L256.98,248.30 L257.68,248.88 L258.53,249.47 L259.35,250.06 L259.99,250.64 L260.28,251.20 L260.12,251.73 L259.62,252.25 L258.93,252.76 L258.20,253.24 L257.58,253.70 L257.08,254.13 L256.58,254.54 L256.10,254.92 L255.64,255.31 L255.18,255.70 L254.71,256.13 L254.22,256.60 L253.75,257.04 L253.36,257.43 L253.08,257.70 L252.48,257.70 L252.20,257.43 L251.81,257.04 L251.34,256.60 L250.85,256.13 L250.38,255.70 L249.92,255.31 L249.46,254.92 L248.98,254.54 L248.48,254.13 L247.98,253.70 L247.36,253.24 L246.63,252.76 L245.94,252.25 L245.44,251.73 L245.28,251.20 L245.57,250.64 L246.21,250.06 L247.03,249.47 L247.88,248.88 L248.58,248.30 L249.16,247.72 L249.72,247.13 L250.25,246.56 L250.71,246.01 L251.08,245.50 L251.34,245.06 L251.49,244.68 L251.59,244.31 L251.67,243.93 L251.78,243.50 L251.93,242.96 L252.09,242.34 L252.25,241.72 L252.38,241.18 L252.48,240.80Z" fill="url(#g27)"/>
<text x="303.40" y="217.40" font-size="8.4" text-anchor="middle" fill="#2b2b2b" stroke="#2b2b2b" font-weight="normal" textLength="49.2" lengthAdjust="spacingAndGlyphs">NFKB_genes</text>
<line x1="289.10" y1="226.60" x2="289.10" y2="268.20" stroke="#2a2a2a" stroke-width="1.2"/>
<line x1="286.30" y1="231.00" x2="289.10" y2="231.00" stroke="#2a2a2a" stroke-width="1.2"/>
<text x="284.00" y="234.40" font-size="6.7" text-anchor="end" fill="#2b2b2b" stroke="#2b2b2b" font-weight="normal" textLength="9.03" lengthAdjust="spacingAndGlyphs">0.6</text>
<line x1="286.30" y1="241.00" x2="289.10" y2="241.00" stroke="#2a2a2a" stroke-width="1.2"/>
<text x="284.00" y="244.40" font-size="6.7" text-anchor="end" fill="#2b2b2b" stroke="#2b2b2b" font-weight="normal" textLength="9.03" lengthAdjust="spacingAndGlyphs">0.4</text>
<line x1="286.30" y1="251.20" x2="289.10" y2="251.20" stroke="#2a2a2a" stroke-width="1.2"/>
<text x="284.00" y="254.60" font-size="6.7" text-anchor="end" fill="#2b2b2b" stroke="#2b2b2b" font-weight="normal" textLength="9.03" lengthAdjust="spacingAndGlyphs">0.2</text>
<line x1="286.30" y1="261.20" x2="289.10" y2="261.20" stroke="#2a2a2a" stroke-width="1.2"/>
<text x="284.00" y="264.60" font-size="6.7" text-anchor="end" fill="#2b2b2b" stroke="#2b2b2b" font-weight="normal" textLength="9.03" lengthAdjust="spacingAndGlyphs">0.0</text>
<line x1="288.50" y1="268.20" x2="317.60" y2="268.20" stroke="#2a2a2a" stroke-width="1.2"/>
<line x1="297.60" y1="268.20" x2="297.60" y2="271.00" stroke="#2a2a2a" stroke-width="1.2"/>
<line x1="312.40" y1="268.20" x2="312.40" y2="271.00" stroke="#2a2a2a" stroke-width="1.2"/>
<path d="M297.70,232.50 L297.75,232.84 L297.83,233.33 L297.92,233.89 L298.01,234.47 L298.10,235.00 L298.15,235.45 L298.18,235.85 L298.22,236.27 L298.32,236.73 L298.50,237.30 L298.78,237.96 L299.14,238.70 L299.55,239.50 L300.01,240.36 L300.50,241.30 L301.08,242.38 L301.76,243.62 L302.45,244.88 L303.06,246.04 L303.50,247.00 L303.75,247.69 L303.86,248.19 L303.88,248.58 L303.85,248.96 L303.80,249.40 L303.74,249.90 L303.64,250.40 L303.49,250.91 L303.31,251.44 L303.10,252.00 L302.85,252.56 L302.57,253.12 L302.25,253.71 L301.89,254.36 L301.50,255.10 L301.04,255.99 L300.51,257.01 L299.96,258.07 L299.44,259.07 L299.00,259.90 L298.64,260.57 L298.33,261.15 L298.07,261.63 L297.86,262.01 L297.70,262.30 L297.30,262.30 L297.14,262.01 L296.93,261.63 L296.67,261.15 L296.36,260.57 L296.00,259.90 L295.56,259.07 L295.04,258.07 L294.49,257.01 L293.96,255.99 L293.50,255.10 L293.11,254.36 L292.75,253.71 L292.43,253.12 L292.15,252.56 L291.90,252.00 L291.69,251.44 L291.51,250.91 L291.36,250.40 L291.26,249.90 L291.20,249.40 L291.15,248.96 L291.12,248.58 L291.14,248.19 L291.25,247.69 L291.50,247.00 L291.94,246.04 L292.55,244.88 L293.24,243.62 L293.92,242.38 L294.50,241.30 L294.99,240.36 L295.45,239.50 L295.86,238.70 L296.22,237.96 L296.50,237.30 L296.68,236.73 L296.78,236.27 L296.82,235.85 L296.85,235.45 L296.90,235.00 L296.99,234.47 L297.08,233.89 L297.17,233.33 L297.25,232.84 L297.30,232.50Z" fill="url(#g28)" fill-opacity="1.0"/>
<path d="M312.20,235.70 L312.29,236.29 L312.40,237.13 L312.56,238.11 L312.75,239.10 L313.00,240.00 L313.32,240.79 L313.69,241.54 L314.11,242.28 L314.55,243.02 L315.00,243.80 L315.50,244.63 L316.05,245.48 L316.60,246.35 L317.10,247.20 L317.50,248.00 L317.80,248.75 L318.04,249.47 L318.21,250.17 L318.30,250.84 L318.30,251.50 L318.19,252.12 L317.96,252.70 L317.67,253.27 L317.34,253.86 L317.00,254.50 L316.64,255.21 L316.25,255.95 L315.83,256.73 L315.41,257.51 L315.00,258.30 L314.58,259.11 L314.14,259.96 L313.71,260.80 L313.32,261.59 L313.00,262.30 L312.75,262.94 L312.56,263.53 L312.40,264.05 L312.29,264.48 L312.20,264.80 L311.80,264.80 L311.71,264.48 L311.60,264.05 L311.44,263.53 L311.25,262.94 L311.00,262.30 L310.68,261.59 L310.29,260.80 L309.86,259.96 L309.42,259.11 L309.00,258.30 L308.59,257.51 L308.17,256.73 L307.75,255.95 L307.36,255.21 L307.00,254.50 L306.66,253.86 L306.33,253.27 L306.04,252.70 L305.81,252.12 L305.70,251.50 L305.70,250.84 L305.79,250.17 L305.96,249.47 L306.20,248.75 L306.50,248.00 L306.90,247.20 L307.40,246.35 L307.95,245.48 L308.50,244.63 L309.00,243.80 L309.45,243.02 L309.89,242.28 L310.31,241.54 L310.68,240.79 L311.00,240.00 L311.25,239.10 L311.44,238.11 L311.60,237.13 L311.71,236.29 L311.80,235.70Z" fill="url(#g29)" fill-opacity="1.0"/>
<text transform="translate(300.00,277.50) rotate(-45)" font-size="6.35" text-anchor="end" fill="#2b2b2b" stroke="#2b2b2b">VEN-relapse</text>
<text transform="translate(314.80,277.50) rotate(-45)" font-size="6.35" text-anchor="end" fill="#2b2b2b" stroke="#2b2b2b">VEN-relapse</text>
<text transform="translate(320.20,281.20) rotate(-45)" font-size="6.35" text-anchor="end" fill="#2b2b2b" stroke="#2b2b2b">now on BTKi</text>
<text x="350.00" y="217.40" font-size="8.4" text-anchor="middle" fill="#2b2b2b" stroke="#2b2b2b" font-weight="normal" textLength="22.5" lengthAdjust="spacingAndGlyphs">MCL1</text>
<line x1="335.00" y1="226.60" x2="335.00" y2="267.90" stroke="#2a2a2a" stroke-width="1.2"/>
<line x1="332.20" y1="230.10" x2="335.00" y2="230.10" stroke="#2a2a2a" stroke-width="1.2"/>
<text x="329.90" y="233.50" font-size="6.7" text-anchor="end" fill="#2b2b2b" stroke="#2b2b2b" font-weight="normal" textLength="3.61" lengthAdjust="spacingAndGlyphs">6</text>
<line x1="332.20" y1="241.80" x2="335.00" y2="241.80" stroke="#2a2a2a" stroke-width="1.2"/>
<text x="329.90" y="245.20" font-size="6.7" text-anchor="end" fill="#2b2b2b" stroke="#2b2b2b" font-weight="normal" textLength="3.61" lengthAdjust="spacingAndGlyphs">4</text>
<line x1="332.20" y1="253.70" x2="335.00" y2="253.70" stroke="#2a2a2a" stroke-width="1.2"/>
<text x="329.90" y="257.10" font-size="6.7" text-anchor="end" fill="#2b2b2b" stroke="#2b2b2b" font-weight="normal" textLength="3.61" lengthAdjust="spacingAndGlyphs">2</text>
<line x1="332.20" y1="266.10" x2="335.00" y2="266.10" stroke="#2a2a2a" stroke-width="1.2"/>
<text x="329.90" y="269.50" font-size="6.7" text-anchor="end" fill="#2b2b2b" stroke="#2b2b2b" font-weight="normal" textLength="3.61" lengthAdjust="spacingAndGlyphs">0</text>
<line x1="334.40" y1="267.90" x2="367.30" y2="267.90" stroke="#2a2a2a" stroke-width="1.2"/>
<line x1="344.20" y1="267.90" x2="344.20" y2="270.70" stroke="#2a2a2a" stroke-width="1.2"/>
<line x1="360.60" y1="267.90" x2="360.60" y2="270.70" stroke="#2a2a2a" stroke-width="1.2"/>
<path d="M344.10,234.10 L344.18,234.43 L344.29,234.89 L344.42,235.42 L344.56,235.98 L344.70,236.50 L344.80,236.94 L344.89,237.34 L344.99,237.76 L345.14,238.26 L345.40,238.90 L345.77,239.70 L346.24,240.61 L346.76,241.61 L347.33,242.68 L347.90,243.80 L348.60,244.98 L349.44,246.25 L350.25,247.56 L350.86,248.89 L351.10,250.20 L350.86,251.53 L350.25,252.91 L349.44,254.28 L348.60,255.56 L347.90,256.70 L347.32,257.68 L346.75,258.54 L346.22,259.31 L345.76,260.02 L345.40,260.70 L345.16,261.37 L345.03,262.00 L344.97,262.58 L344.94,263.05 L344.90,263.40 L342.90,263.40 L342.86,263.05 L342.83,262.58 L342.77,262.00 L342.64,261.37 L342.40,260.70 L342.04,260.02 L341.58,259.31 L341.05,258.54 L340.48,257.68 L339.90,256.70 L339.20,255.56 L338.36,254.28 L337.55,252.91 L336.94,251.53 L336.70,250.20 L336.94,248.89 L337.55,247.56 L338.36,246.25 L339.20,244.98 L339.90,243.80 L340.47,242.68 L341.04,241.61 L341.56,240.61 L342.03,239.70 L342.40,238.90 L342.66,238.26 L342.81,237.76 L342.91,237.34 L343.00,236.94 L343.10,236.50 L343.24,235.98 L343.38,235.42 L343.51,234.89 L343.62,234.43 L343.70,234.10Z" fill="url(#g30)" fill-opacity="1.0"/>
<path d="M343.10,263.20 L344.70,263.20 L346.38,264.28 L349.40,265.25 L349.00,265.60 L338.80,265.60 L338.40,265.25 L341.42,264.28Z" fill="#d5112f" fill-opacity="1.0"/>
<path d="M361.20,241.30 L361.30,242.20 L361.43,243.48 L361.59,244.97 L361.78,246.53 L362.00,248.00 L362.26,249.46 L362.57,251.00 L362.90,252.52 L363.22,253.92 L363.50,255.10 L363.76,256.01 L364.03,256.71 L364.26,257.28 L364.43,257.79 L364.50,258.30 L364.44,258.81 L364.29,259.27 L364.07,259.70 L363.82,260.10 L363.60,260.50 L363.38,260.88 L363.15,261.24 L362.91,261.59 L362.68,261.94 L362.50,262.30 L362.35,262.70 L362.23,263.14 L362.14,263.57 L362.06,263.94 L362.00,264.20 L360.00,264.20 L359.94,263.94 L359.86,263.57 L359.77,263.14 L359.65,262.70 L359.50,262.30 L359.32,261.94 L359.09,261.59 L358.85,261.24 L358.62,260.88 L358.40,260.50 L358.18,260.10 L357.93,259.70 L357.71,259.27 L357.56,258.81 L357.50,258.30 L357.57,257.79 L357.74,257.28 L357.97,256.71 L358.24,256.01 L358.50,255.10 L358.78,253.92 L359.10,252.52 L359.43,251.00 L359.74,249.46 L360.00,248.00 L360.22,246.53 L360.41,244.97 L360.57,243.48 L360.70,242.20 L360.80,241.30Z" fill="url(#g31)" fill-opacity="1.0"/>
<path d="M360.20,264.00 L361.80,264.00 L364.29,264.81 L368.30,265.45 L367.90,265.80 L354.10,265.80 L353.70,265.45 L357.71,264.81Z" fill="#f7b51c" fill-opacity="1.0"/>
<text transform="translate(346.60,277.20) rotate(-45)" font-size="6.35" text-anchor="end" fill="#2b2b2b" stroke="#2b2b2b">VEN-relapse</text>
<text transform="translate(363.00,277.20) rotate(-45)" font-size="6.35" text-anchor="end" fill="#2b2b2b" stroke="#2b2b2b">VEN-relapse</text>
<text transform="translate(368.40,280.90) rotate(-45)" font-size="6.35" text-anchor="end" fill="#2b2b2b" stroke="#2b2b2b">now on BTKi</text>
<text x="396.40" y="217.60" font-size="8.4" text-anchor="middle" fill="#2b2b2b" stroke="#2b2b2b" font-weight="normal" textLength="30.2" lengthAdjust="spacingAndGlyphs">BCL2A1</text>
<line x1="381.60" y1="226.40" x2="381.60" y2="267.80" stroke="#2a2a2a" stroke-width="1.2"/>
<line x1="378.80" y1="238.60" x2="381.60" y2="238.60" stroke="#2a2a2a" stroke-width="1.2"/>
<text x="376.50" y="242.00" font-size="6.7" text-anchor="end" fill="#2b2b2b" stroke="#2b2b2b" font-weight="normal" textLength="3.61" lengthAdjust="spacingAndGlyphs">3</text>
<line x1="378.80" y1="247.90" x2="381.60" y2="247.90" stroke="#2a2a2a" stroke-width="1.2"/>
<text x="376.50" y="251.30" font-size="6.7" text-anchor="end" fill="#2b2b2b" stroke="#2b2b2b" font-weight="normal" textLength="3.61" lengthAdjust="spacingAndGlyphs">2</text>
<line x1="378.80" y1="257.10" x2="381.60" y2="257.10" stroke="#2a2a2a" stroke-width="1.2"/>
<text x="376.50" y="260.50" font-size="6.7" text-anchor="end" fill="#2b2b2b" stroke="#2b2b2b" font-weight="normal" textLength="3.61" lengthAdjust="spacingAndGlyphs">1</text>
<line x1="378.80" y1="266.10" x2="381.60" y2="266.10" stroke="#2a2a2a" stroke-width="1.2"/>
<text x="376.50" y="269.50" font-size="6.7" text-anchor="end" fill="#2b2b2b" stroke="#2b2b2b" font-weight="normal" textLength="3.61" lengthAdjust="spacingAndGlyphs">0</text>
<line x1="381.00" y1="267.80" x2="410.70" y2="267.80" stroke="#2a2a2a" stroke-width="1.2"/>
<line x1="390.50" y1="267.80" x2="390.50" y2="270.60" stroke="#2a2a2a" stroke-width="1.2"/>
<line x1="404.70" y1="267.80" x2="404.70" y2="270.60" stroke="#2a2a2a" stroke-width="1.2"/>
<line x1="391.00" y1="234.50" x2="391.00" y2="266.00" stroke="#8a8a8a" stroke-width="1.0"/>
<line x1="385.00" y1="266.20" x2="397.00" y2="266.20" stroke="#a0a0a0" stroke-width="0.9"/>
<line x1="404.90" y1="236.00" x2="404.90" y2="266.00" stroke="#8a8a8a" stroke-width="1.0"/>
<path d="M405.40,257.00 L405.75,257.27 L406.24,257.66 L406.82,258.10 L407.39,258.57 L407.90,259.00 L408.41,259.41 L408.98,259.82 L409.48,260.24 L409.83,260.63 L409.90,261.00 L409.59,261.34 L408.96,261.66 L408.20,261.95 L407.45,262.23 L406.90,262.50 L406.56,262.76 L406.31,263.02 L406.13,263.26 L406.00,263.46 L405.90,263.60 L403.90,263.60 L403.80,263.46 L403.67,263.26 L403.49,263.02 L403.24,262.76 L402.90,262.50 L402.35,262.23 L401.60,261.95 L400.84,261.66 L400.21,261.34 L399.90,261.00 L399.97,260.63 L400.32,260.24 L400.82,259.82 L401.39,259.41 L401.90,259.00 L402.41,258.57 L402.98,258.10 L403.56,257.66 L404.05,257.27 L404.40,257.00Z" fill="url(#g32)" fill-opacity="0.6"/>
<path d="M405.20,261.00 L405.28,261.30 L405.39,261.75 L405.51,262.25 L405.62,262.70 L405.70,263.00 L404.10,263.00 L404.18,262.70 L404.29,262.25 L404.41,261.75 L404.52,261.30 L404.60,261.00Z" fill="url(#g33)" fill-opacity="0.85"/>
<path d="M404.10,262.80 L405.70,262.80 L407.60,264.24 L410.90,265.65 L410.50,266.00 L399.30,266.00 L398.90,265.65 L402.20,264.24Z" fill="#e0a630" fill-opacity="0.85"/>
<path d="M392.0 250.5h0.9v0.9h-0.9zM395.9 241.3h0.9v0.9h-0.9zM393.4 252.2h0.9v0.9h-0.9zM390.1 250.4h0.9v0.9h-0.9zM395.9 244.0h0.9v0.9h-0.9zM385.9 241.5h0.9v0.9h-0.9zM390.2 251.2h0.9v0.9h-0.9zM391.4 257.9h0.9v0.9h-0.9zM384.7 252.0h0.9v0.9h-0.9zM395.5 255.4h0.9v0.9h-0.9zM393.7 256.3h0.9v0.9h-0.9zM386.2 259.3h0.9v0.9h-0.9zM392.0 251.3h0.9v0.9h-0.9zM395.0 251.3h0.9v0.9h-0.9zM387.1 254.4h0.9v0.9h-0.9zM388.0 257.7h0.9v0.9h-0.9zM392.7 249.4h0.9v0.9h-0.9zM387.0 258.9h0.9v0.9h-0.9zM396.1 248.0h0.9v0.9h-0.9zM395.3 249.5h0.9v0.9h-0.9zM386.5 256.0h0.9v0.9h-0.9zM386.3 255.3h0.9v0.9h-0.9zM391.8 252.9h0.9v0.9h-0.9zM384.6 248.9h0.9v0.9h-0.9zM388.3 246.6h0.9v0.9h-0.9zM394.4 246.3h0.9v0.9h-0.9zM390.3 251.6h0.9v0.9h-0.9zM384.8 256.3h0.9v0.9h-0.9zM393.5 251.6h0.9v0.9h-0.9zM394.0 250.2h0.9v0.9h-0.9zM388.9 250.4h0.9v0.9h-0.9zM385.1 250.7h0.9v0.9h-0.9zM386.7 254.5h0.9v0.9h-0.9zM393.6 250.0h0.9v0.9h-0.9zM395.7 255.8h0.9v0.9h-0.9zM388.8 249.3h0.9v0.9h-0.9zM390.8 251.5h0.9v0.9h-0.9zM393.5 248.5h0.9v0.9h-0.9zM394.1 252.0h0.9v0.9h-0.9zM395.9 249.9h0.9v0.9h-0.9zM385.6 247.0h0.9v0.9h-0.9zM395.6 257.4h0.9v0.9h-0.9zM388.6 257.2h0.9v0.9h-0.9zM388.3 247.9h0.9v0.9h-0.9zM388.4 252.0h0.9v0.9h-0.9zM386.3 253.0h0.9v0.9h-0.9zM392.8 254.3h0.9v0.9h-0.9zM385.1 251.0h0.9v0.9h-0.9zM396.4 245.6h0.9v0.9h-0.9zM387.4 249.9h0.9v0.9h-0.9zM391.7 253.8h0.9v0.9h-0.9zM389.6 245.7h0.9v0.9h-0.9zM385.2 252.3h0.9v0.9h-0.9zM390.5 250.3h0.9v0.9h-0.9zM394.6 257.1h0.9v0.9h-0.9zM395.9 257.6h0.9v0.9h-0.9zM392.1 251.7h0.9v0.9h-0.9zM389.8 248.5h0.9v0.9h-0.9zM386.3 253.6h0.9v0.9h-0.9zM390.0 247.2h0.9v0.9h-0.9zM396.5 260.1h0.9v0.9h-0.9zM390.0 239.0h0.9v0.9h-0.9zM390.4 250.2h0.9v0.9h-0.9zM388.0 244.8h0.9v0.9h-0.9zM389.4 254.3h0.9v0.9h-0.9zM396.4 255.3h0.9v0.9h-0.9zM396.1 246.5h0.9v0.9h-0.9zM388.6 246.4h0.9v0.9h-0.9zM385.6 249.7h0.9v0.9h-0.9zM395.0 260.6h0.9v0.9h-0.9zM388.9 253.2h0.9v0.9h-0.9zM392.9 241.8h0.9v0.9h-0.9zM392.5 251.4h0.9v0.9h-0.9zM393.0 245.8h0.9v0.9h-0.9zM387.9 241.7h0.9v0.9h-0.9zM392.8 251.9h0.9v0.9h-0.9zM388.1 258.6h0.9v0.9h-0.9zM391.5 248.4h0.9v0.9h-0.9zM384.7 247.1h0.9v0.9h-0.9zM392.6 249.8h0.9v0.9h-0.9zM390.1 254.3h0.9v0.9h-0.9zM394.1 243.8h0.9v0.9h-0.9zM388.7 245.5h0.9v0.9h-0.9zM394.5 244.0h0.9v0.9h-0.9zM388.8 257.2h0.9v0.9h-0.9zM392.8 241.8h0.9v0.9h-0.9zM396.3 257.4h0.9v0.9h-0.9zM390.9 249.3h0.9v0.9h-0.9zM386.5 257.8h0.9v0.9h-0.9zM390.3 240.0h0.9v0.9h-0.9zM392.8 249.4h0.9v0.9h-0.9zM386.6 242.3h0.9v0.9h-0.9zM393.9 243.9h0.9v0.9h-0.9zM389.6 247.1h0.9v0.9h-0.9zM392.0 252.3h0.9v0.9h-0.9zM393.2 243.3h0.9v0.9h-0.9zM384.9 254.2h0.9v0.9h-0.9zM392.4 256.1h0.9v0.9h-0.9zM387.2 248.0h0.9v0.9h-0.9zM385.1 243.9h0.9v0.9h-0.9zM390.2 251.3h0.9v0.9h-0.9zM386.2 252.9h0.9v0.9h-0.9zM388.4 252.6h0.9v0.9h-0.9zM385.0 254.3h0.9v0.9h-0.9zM390.1 245.5h0.9v0.9h-0.9zM391.6 256.2h0.9v0.9h-0.9zM387.4 251.2h0.9v0.9h-0.9zM389.4 250.9h0.9v0.9h-0.9zM387.9 248.8h0.9v0.9h-0.9zM394.5 252.5h0.9v0.9h-0.9zM389.0 258.4h0.9v0.9h-0.9zM385.7 252.8h0.9v0.9h-0.9zM391.1 247.2h0.9v0.9h-0.9zM396.0 257.2h0.9v0.9h-0.9zM394.4 242.3h0.9v0.9h-0.9zM392.3 256.0h0.9v0.9h-0.9zM389.0 255.7h0.9v0.9h-0.9zM391.3 256.8h0.9v0.9h-0.9zM396.0 258.4h0.9v0.9h-0.9zM388.8 249.5h0.9v0.9h-0.9zM395.3 253.7h0.9v0.9h-0.9zM391.3 251.1h0.9v0.9h-0.9zM391.9 256.0h0.9v0.9h-0.9zM395.2 257.0h0.9v0.9h-0.9zM389.1 247.5h0.9v0.9h-0.9zM388.0 252.7h0.9v0.9h-0.9zM396.2 240.8h0.9v0.9h-0.9zM395.5 260.7h0.9v0.9h-0.9zM391.7 250.1h0.9v0.9h-0.9zM389.5 244.4h0.9v0.9h-0.9zM388.0 248.3h0.9v0.9h-0.9zM392.0 251.5h0.9v0.9h-0.9zM389.9 248.5h0.9v0.9h-0.9zM394.5 260.3h0.9v0.9h-0.9zM384.7 246.7h0.9v0.9h-0.9zM395.8 250.2h0.9v0.9h-0.9zM393.9 251.2h0.9v0.9h-0.9zM386.4 255.4h0.9v0.9h-0.9zM396.4 249.0h0.9v0.9h-0.9zM390.2 258.3h0.9v0.9h-0.9zM392.3 243.8h0.9v0.9h-0.9zM386.0 245.5h0.9v0.9h-0.9zM393.7 248.9h0.9v0.9h-0.9zM388.6 257.5h0.9v0.9h-0.9zM388.1 245.0h0.9v0.9h-0.9zM388.9 249.9h0.9v0.9h-0.9z" fill="#333" fill-opacity="0.6"/>
<path d="M393.4 253.0h1.0v1.0h-1.0zM387.5 253.1h1.0v1.0h-1.0zM390.0 254.5h1.0v1.0h-1.0zM391.0 252.5h1.0v1.0h-1.0zM384.7 253.3h1.0v1.0h-1.0zM391.4 252.5h1.0v1.0h-1.0zM393.0 252.7h1.0v1.0h-1.0zM395.4 252.6h1.0v1.0h-1.0zM389.1 252.1h1.0v1.0h-1.0zM386.9 254.1h1.0v1.0h-1.0zM388.1 253.3h1.0v1.0h-1.0zM394.5 253.0h1.0v1.0h-1.0zM392.8 252.7h1.0v1.0h-1.0zM393.9 253.4h1.0v1.0h-1.0zM395.4 253.7h1.0v1.0h-1.0zM391.1 253.8h1.0v1.0h-1.0zM390.5 253.0h1.0v1.0h-1.0zM391.5 253.6h1.0v1.0h-1.0zM394.2 253.7h1.0v1.0h-1.0zM394.3 253.4h1.0v1.0h-1.0zM394.0 253.1h1.0v1.0h-1.0zM393.2 253.1h1.0v1.0h-1.0zM396.2 254.3h1.0v1.0h-1.0zM385.1 253.2h1.0v1.0h-1.0zM394.6 253.4h1.0v1.0h-1.0zM395.9 254.2h1.0v1.0h-1.0zM393.0 253.6h1.0v1.0h-1.0zM395.5 253.6h1.0v1.0h-1.0zM386.3 252.6h1.0v1.0h-1.0zM386.4 252.7h1.0v1.0h-1.0zM392.0 253.5h1.0v1.0h-1.0zM389.1 253.3h1.0v1.0h-1.0zM385.4 254.1h1.0v1.0h-1.0zM393.4 253.5h1.0v1.0h-1.0zM395.0 253.7h1.0v1.0h-1.0zM388.3 253.8h1.0v1.0h-1.0zM391.7 251.6h1.0v1.0h-1.0zM389.0 253.3h1.0v1.0h-1.0zM385.2 253.1h1.0v1.0h-1.0zM392.1 252.8h1.0v1.0h-1.0zM390.6 254.0h1.0v1.0h-1.0zM392.0 252.7h1.0v1.0h-1.0zM387.7 252.7h1.0v1.0h-1.0zM393.5 253.0h1.0v1.0h-1.0zM390.7 253.5h1.0v1.0h-1.0zM389.0 253.6h1.0v1.0h-1.0zM393.3 253.7h1.0v1.0h-1.0zM392.4 254.2h1.0v1.0h-1.0zM385.5 253.0h1.0v1.0h-1.0zM386.0 252.9h1.0v1.0h-1.0zM391.6 253.3h1.0v1.0h-1.0zM390.3 254.6h1.0v1.0h-1.0zM388.4 253.2h1.0v1.0h-1.0zM393.2 253.0h1.0v1.0h-1.0zM385.1 254.2h1.0v1.0h-1.0zM392.7 254.6h1.0v1.0h-1.0zM387.2 254.6h1.0v1.0h-1.0zM392.5 254.5h1.0v1.0h-1.0zM394.3 253.8h1.0v1.0h-1.0zM388.8 254.0h1.0v1.0h-1.0z" fill="#111" fill-opacity="0.9"/>
<path d="M402.1 244.1h0.9v0.9h-0.9zM409.3 238.6h0.9v0.9h-0.9zM405.7 251.5h0.9v0.9h-0.9zM406.6 240.2h0.9v0.9h-0.9zM404.1 243.9h0.9v0.9h-0.9zM400.4 250.8h0.9v0.9h-0.9zM399.6 248.2h0.9v0.9h-0.9zM410.4 239.2h0.9v0.9h-0.9zM399.2 248.6h0.9v0.9h-0.9zM404.6 243.1h0.9v0.9h-0.9zM405.0 249.9h0.9v0.9h-0.9zM401.2 249.3h0.9v0.9h-0.9zM403.9 239.8h0.9v0.9h-0.9zM402.4 247.0h0.9v0.9h-0.9zM402.8 250.5h0.9v0.9h-0.9zM402.1 246.3h0.9v0.9h-0.9zM410.8 247.7h0.9v0.9h-0.9zM407.6 244.7h0.9v0.9h-0.9zM405.1 249.9h0.9v0.9h-0.9zM407.6 246.7h0.9v0.9h-0.9zM402.8 243.9h0.9v0.9h-0.9zM401.2 240.4h0.9v0.9h-0.9zM401.7 251.1h0.9v0.9h-0.9zM400.1 248.1h0.9v0.9h-0.9zM403.1 246.8h0.9v0.9h-0.9zM405.0 245.9h0.9v0.9h-0.9zM401.2 248.0h0.9v0.9h-0.9zM399.9 248.5h0.9v0.9h-0.9zM399.7 242.5h0.9v0.9h-0.9zM403.6 247.2h0.9v0.9h-0.9zM410.9 251.1h0.9v0.9h-0.9zM399.8 248.8h0.9v0.9h-0.9zM404.2 251.1h0.9v0.9h-0.9zM404.3 249.0h0.9v0.9h-0.9zM403.0 248.9h0.9v0.9h-0.9zM411.4 248.0h0.9v0.9h-0.9zM401.4 242.5h0.9v0.9h-0.9zM405.8 247.3h0.9v0.9h-0.9zM400.2 246.6h0.9v0.9h-0.9zM406.0 249.8h0.9v0.9h-0.9zM410.8 239.5h0.9v0.9h-0.9zM401.9 241.8h0.9v0.9h-0.9zM399.4 242.0h0.9v0.9h-0.9zM406.3 246.1h0.9v0.9h-0.9zM403.9 241.9h0.9v0.9h-0.9zM410.7 241.9h0.9v0.9h-0.9zM403.0 238.7h0.9v0.9h-0.9zM402.0 250.5h0.9v0.9h-0.9zM400.6 246.7h0.9v0.9h-0.9zM408.9 249.5h0.9v0.9h-0.9zM409.5 246.5h0.9v0.9h-0.9zM400.2 250.0h0.9v0.9h-0.9zM406.4 250.2h0.9v0.9h-0.9zM399.8 250.5h0.9v0.9h-0.9zM401.7 246.5h0.9v0.9h-0.9zM404.4 244.3h0.9v0.9h-0.9zM410.4 242.8h0.9v0.9h-0.9zM406.4 240.6h0.9v0.9h-0.9zM404.7 250.5h0.9v0.9h-0.9zM411.2 240.9h0.9v0.9h-0.9zM408.3 246.4h0.9v0.9h-0.9zM409.4 243.8h0.9v0.9h-0.9zM404.0 248.8h0.9v0.9h-0.9zM401.3 248.9h0.9v0.9h-0.9zM402.5 245.7h0.9v0.9h-0.9zM400.0 243.9h0.9v0.9h-0.9zM408.8 246.4h0.9v0.9h-0.9zM399.8 247.1h0.9v0.9h-0.9zM400.8 241.4h0.9v0.9h-0.9zM406.9 248.2h0.9v0.9h-0.9zM409.6 248.1h0.9v0.9h-0.9zM401.3 251.0h0.9v0.9h-0.9zM409.2 251.5h0.9v0.9h-0.9zM400.6 243.0h0.9v0.9h-0.9zM404.6 239.6h0.9v0.9h-0.9zM410.9 250.6h0.9v0.9h-0.9zM400.5 246.3h0.9v0.9h-0.9zM409.4 246.1h0.9v0.9h-0.9zM411.5 248.3h0.9v0.9h-0.9zM399.6 242.5h0.9v0.9h-0.9zM410.3 244.9h0.9v0.9h-0.9zM404.1 248.4h0.9v0.9h-0.9zM401.7 251.5h0.9v0.9h-0.9zM406.2 242.4h0.9v0.9h-0.9zM403.6 247.7h0.9v0.9h-0.9zM409.9 243.8h0.9v0.9h-0.9zM401.0 244.1h0.9v0.9h-0.9zM409.6 246.2h0.9v0.9h-0.9zM401.3 247.6h0.9v0.9h-0.9zM400.4 245.4h0.9v0.9h-0.9zM401.7 237.0h0.9v0.9h-0.9zM409.2 244.1h0.9v0.9h-0.9zM407.0 249.1h0.9v0.9h-0.9zM399.3 242.9h0.9v0.9h-0.9zM405.6 244.8h0.9v0.9h-0.9zM404.1 245.9h0.9v0.9h-0.9zM404.0 248.3h0.9v0.9h-0.9zM405.1 246.1h0.9v0.9h-0.9zM411.5 242.7h0.9v0.9h-0.9zM407.6 244.0h0.9v0.9h-0.9zM405.9 249.0h0.9v0.9h-0.9zM406.6 243.0h0.9v0.9h-0.9zM407.7 243.5h0.9v0.9h-0.9zM400.1 247.0h0.9v0.9h-0.9zM400.2 243.5h0.9v0.9h-0.9zM408.2 243.5h0.9v0.9h-0.9zM407.6 251.2h0.9v0.9h-0.9zM409.7 243.0h0.9v0.9h-0.9zM408.5 244.9h0.9v0.9h-0.9zM405.7 245.4h0.9v0.9h-0.9zM410.4 248.5h0.9v0.9h-0.9zM401.4 247.6h0.9v0.9h-0.9zM406.9 241.1h0.9v0.9h-0.9zM408.2 240.2h0.9v0.9h-0.9zM403.0 246.8h0.9v0.9h-0.9zM401.3 241.8h0.9v0.9h-0.9zM402.0 241.2h0.9v0.9h-0.9zM399.9 238.9h0.9v0.9h-0.9zM410.2 243.8h0.9v0.9h-0.9zM408.3 243.0h0.9v0.9h-0.9zM405.8 250.2h0.9v0.9h-0.9zM410.5 246.2h0.9v0.9h-0.9zM406.8 251.4h0.9v0.9h-0.9zM411.3 248.0h0.9v0.9h-0.9zM400.6 248.7h0.9v0.9h-0.9zM406.2 245.0h0.9v0.9h-0.9zM401.5 245.6h0.9v0.9h-0.9zM406.6 242.9h0.9v0.9h-0.9zM408.3 241.5h0.9v0.9h-0.9zM399.9 238.1h0.9v0.9h-0.9zM411.2 248.5h0.9v0.9h-0.9zM410.8 241.7h0.9v0.9h-0.9zM402.0 244.4h0.9v0.9h-0.9zM405.2 238.5h0.9v0.9h-0.9zM400.4 248.6h0.9v0.9h-0.9zM400.3 250.3h0.9v0.9h-0.9zM401.1 245.8h0.9v0.9h-0.9zM408.7 246.0h0.9v0.9h-0.9zM408.4 251.2h0.9v0.9h-0.9zM408.1 239.3h0.9v0.9h-0.9zM411.3 245.7h0.9v0.9h-0.9zM400.5 249.0h0.9v0.9h-0.9zM401.8 248.6h0.9v0.9h-0.9zM403.9 240.3h0.9v0.9h-0.9zM408.5 249.5h0.9v0.9h-0.9zM400.2 242.4h0.9v0.9h-0.9zM403.9 251.1h0.9v0.9h-0.9zM400.6 243.6h0.9v0.9h-0.9zM407.8 244.8h0.9v0.9h-0.9zM400.1 244.8h0.9v0.9h-0.9zM408.7 246.8h0.9v0.9h-0.9zM400.6 243.4h0.9v0.9h-0.9zM405.2 242.6h0.9v0.9h-0.9zM404.0 246.1h0.9v0.9h-0.9z" fill="#333" fill-opacity="0.65"/>
<path d="M409.0 252.4h1.0v1.0h-1.0zM403.3 253.2h1.0v1.0h-1.0zM409.8 253.3h1.0v1.0h-1.0zM404.4 253.9h1.0v1.0h-1.0zM402.1 253.6h1.0v1.0h-1.0zM402.5 253.3h1.0v1.0h-1.0zM405.9 254.9h1.0v1.0h-1.0zM404.0 254.9h1.0v1.0h-1.0zM403.6 253.6h1.0v1.0h-1.0zM409.3 257.7h1.0v1.0h-1.0zM403.6 254.1h1.0v1.0h-1.0zM399.3 254.0h1.0v1.0h-1.0zM403.9 256.4h1.0v1.0h-1.0zM405.6 255.5h1.0v1.0h-1.0zM411.4 254.5h1.0v1.0h-1.0zM404.7 253.1h1.0v1.0h-1.0zM402.6 254.2h1.0v1.0h-1.0zM411.1 253.0h1.0v1.0h-1.0zM399.8 251.6h1.0v1.0h-1.0zM404.0 254.4h1.0v1.0h-1.0zM406.6 251.7h1.0v1.0h-1.0zM410.5 252.1h1.0v1.0h-1.0zM399.6 251.5h1.0v1.0h-1.0zM399.4 254.3h1.0v1.0h-1.0zM410.1 251.7h1.0v1.0h-1.0zM409.5 255.8h1.0v1.0h-1.0zM411.7 252.9h1.0v1.0h-1.0zM408.6 255.0h1.0v1.0h-1.0zM408.9 253.2h1.0v1.0h-1.0zM401.8 252.8h1.0v1.0h-1.0zM404.4 253.7h1.0v1.0h-1.0zM402.7 256.5h1.0v1.0h-1.0zM407.5 255.0h1.0v1.0h-1.0zM404.9 254.9h1.0v1.0h-1.0zM400.0 250.6h1.0v1.0h-1.0zM410.3 257.2h1.0v1.0h-1.0zM401.6 258.1h1.0v1.0h-1.0zM411.2 254.5h1.0v1.0h-1.0zM406.6 255.1h1.0v1.0h-1.0zM410.7 255.2h1.0v1.0h-1.0zM410.9 255.4h1.0v1.0h-1.0zM404.5 254.3h1.0v1.0h-1.0zM402.5 254.1h1.0v1.0h-1.0zM408.9 251.9h1.0v1.0h-1.0zM407.9 253.3h1.0v1.0h-1.0zM400.2 256.4h1.0v1.0h-1.0zM403.8 256.0h1.0v1.0h-1.0zM403.7 251.1h1.0v1.0h-1.0zM411.3 254.4h1.0v1.0h-1.0zM402.1 252.4h1.0v1.0h-1.0zM406.0 253.3h1.0v1.0h-1.0zM408.3 255.7h1.0v1.0h-1.0zM408.0 255.9h1.0v1.0h-1.0zM399.2 254.3h1.0v1.0h-1.0zM405.5 251.7h1.0v1.0h-1.0zM406.8 254.2h1.0v1.0h-1.0zM405.4 253.3h1.0v1.0h-1.0zM399.6 252.5h1.0v1.0h-1.0zM399.4 255.3h1.0v1.0h-1.0zM402.9 250.9h1.0v1.0h-1.0zM410.8 255.0h1.0v1.0h-1.0zM403.8 250.6h1.0v1.0h-1.0zM410.9 253.3h1.0v1.0h-1.0zM411.1 255.9h1.0v1.0h-1.0zM401.2 253.9h1.0v1.0h-1.0zM410.8 256.1h1.0v1.0h-1.0zM408.4 255.1h1.0v1.0h-1.0zM405.8 250.2h1.0v1.0h-1.0zM402.9 257.2h1.0v1.0h-1.0zM406.1 254.6h1.0v1.0h-1.0zM403.5 252.9h1.0v1.0h-1.0zM405.3 252.6h1.0v1.0h-1.0zM404.8 253.4h1.0v1.0h-1.0zM399.9 255.7h1.0v1.0h-1.0zM400.9 255.1h1.0v1.0h-1.0zM411.3 253.9h1.0v1.0h-1.0zM409.0 255.8h1.0v1.0h-1.0zM408.4 253.7h1.0v1.0h-1.0zM407.0 258.1h1.0v1.0h-1.0zM404.0 252.9h1.0v1.0h-1.0zM402.4 252.8h1.0v1.0h-1.0zM410.1 249.7h1.0v1.0h-1.0zM401.3 255.8h1.0v1.0h-1.0zM400.8 257.4h1.0v1.0h-1.0zM406.2 255.2h1.0v1.0h-1.0zM399.2 258.0h1.0v1.0h-1.0zM405.3 255.1h1.0v1.0h-1.0zM410.1 256.8h1.0v1.0h-1.0zM400.6 254.7h1.0v1.0h-1.0zM408.2 251.7h1.0v1.0h-1.0zM401.9 252.1h1.0v1.0h-1.0zM411.1 254.6h1.0v1.0h-1.0zM407.7 254.5h1.0v1.0h-1.0zM400.3 256.2h1.0v1.0h-1.0zM407.3 255.0h1.0v1.0h-1.0zM410.3 253.8h1.0v1.0h-1.0zM407.2 253.2h1.0v1.0h-1.0zM409.7 256.7h1.0v1.0h-1.0zM402.4 256.5h1.0v1.0h-1.0zM402.9 257.7h1.0v1.0h-1.0zM405.6 254.0h1.0v1.0h-1.0zM410.5 252.8h1.0v1.0h-1.0zM401.8 254.3h1.0v1.0h-1.0zM402.4 255.4h1.0v1.0h-1.0zM400.2 253.5h1.0v1.0h-1.0zM403.5 256.0h1.0v1.0h-1.0zM406.9 255.1h1.0v1.0h-1.0zM407.3 254.5h1.0v1.0h-1.0zM405.3 255.1h1.0v1.0h-1.0zM407.8 251.3h1.0v1.0h-1.0zM410.6 254.9h1.0v1.0h-1.0zM400.9 253.7h1.0v1.0h-1.0zM405.9 256.6h1.0v1.0h-1.0zM410.4 251.0h1.0v1.0h-1.0zM404.4 252.9h1.0v1.0h-1.0zM409.0 254.9h1.0v1.0h-1.0zM400.5 252.4h1.0v1.0h-1.0zM402.4 251.1h1.0v1.0h-1.0zM402.4 257.6h1.0v1.0h-1.0zM407.0 250.5h1.0v1.0h-1.0zM400.6 249.7h1.0v1.0h-1.0zM408.8 253.5h1.0v1.0h-1.0zM407.1 254.9h1.0v1.0h-1.0zM409.7 253.4h1.0v1.0h-1.0zM411.3 253.7h1.0v1.0h-1.0zM403.9 251.7h1.0v1.0h-1.0zM402.4 251.3h1.0v1.0h-1.0zM404.2 253.5h1.0v1.0h-1.0zM399.9 254.9h1.0v1.0h-1.0zM408.1 250.2h1.0v1.0h-1.0zM399.9 256.4h1.0v1.0h-1.0zM402.9 256.2h1.0v1.0h-1.0zM410.4 253.0h1.0v1.0h-1.0zM404.3 254.0h1.0v1.0h-1.0zM402.0 256.8h1.0v1.0h-1.0zM402.8 254.5h1.0v1.0h-1.0zM400.5 248.9h1.0v1.0h-1.0zM411.0 253.6h1.0v1.0h-1.0zM405.0 257.0h1.0v1.0h-1.0zM400.5 256.3h1.0v1.0h-1.0zM405.9 257.3h1.0v1.0h-1.0zM404.6 253.6h1.0v1.0h-1.0zM411.4 256.8h1.0v1.0h-1.0zM404.5 254.7h1.0v1.0h-1.0zM410.7 256.6h1.0v1.0h-1.0zM403.9 250.7h1.0v1.0h-1.0zM403.2 250.3h1.0v1.0h-1.0zM409.3 252.8h1.0v1.0h-1.0zM399.8 253.8h1.0v1.0h-1.0zM410.9 251.7h1.0v1.0h-1.0zM410.7 254.5h1.0v1.0h-1.0zM406.3 252.2h1.0v1.0h-1.0zM408.5 254.0h1.0v1.0h-1.0zM402.3 250.4h1.0v1.0h-1.0zM406.7 254.7h1.0v1.0h-1.0zM400.8 255.0h1.0v1.0h-1.0zM408.3 257.2h1.0v1.0h-1.0zM400.4 255.2h1.0v1.0h-1.0zM401.2 254.0h1.0v1.0h-1.0zM400.2 251.1h1.0v1.0h-1.0zM409.9 255.0h1.0v1.0h-1.0zM401.2 253.7h1.0v1.0h-1.0zM406.4 253.0h1.0v1.0h-1.0zM402.3 253.6h1.0v1.0h-1.0zM408.2 254.6h1.0v1.0h-1.0zM400.6 254.2h1.0v1.0h-1.0zM406.6 252.0h1.0v1.0h-1.0zM407.2 249.5h1.0v1.0h-1.0zM410.7 254.3h1.0v1.0h-1.0zM402.7 251.7h1.0v1.0h-1.0zM400.8 257.9h1.0v1.0h-1.0zM404.4 248.8h1.0v1.0h-1.0zM400.7 257.1h1.0v1.0h-1.0zM407.4 254.2h1.0v1.0h-1.0zM399.1 250.5h1.0v1.0h-1.0zM411.0 252.4h1.0v1.0h-1.0zM407.4 258.0h1.0v1.0h-1.0zM404.4 255.7h1.0v1.0h-1.0zM403.4 251.2h1.0v1.0h-1.0zM408.3 250.5h1.0v1.0h-1.0zM406.8 253.9h1.0v1.0h-1.0zM409.1 255.4h1.0v1.0h-1.0zM399.1 256.2h1.0v1.0h-1.0zM409.1 254.6h1.0v1.0h-1.0zM399.6 249.8h1.0v1.0h-1.0zM405.8 252.9h1.0v1.0h-1.0zM401.7 254.1h1.0v1.0h-1.0zM411.4 255.0h1.0v1.0h-1.0zM409.5 252.7h1.0v1.0h-1.0zM407.3 251.6h1.0v1.0h-1.0zM402.0 256.1h1.0v1.0h-1.0zM402.5 257.2h1.0v1.0h-1.0zM406.4 254.2h1.0v1.0h-1.0zM408.5 251.7h1.0v1.0h-1.0zM403.0 253.9h1.0v1.0h-1.0zM408.4 251.9h1.0v1.0h-1.0zM408.6 256.1h1.0v1.0h-1.0zM404.7 253.7h1.0v1.0h-1.0zM402.4 253.3h1.0v1.0h-1.0zM409.7 254.5h1.0v1.0h-1.0zM399.3 254.6h1.0v1.0h-1.0zM408.8 255.9h1.0v1.0h-1.0zM404.6 255.5h1.0v1.0h-1.0zM409.2 251.4h1.0v1.0h-1.0zM399.4 254.4h1.0v1.0h-1.0zM409.1 254.3h1.0v1.0h-1.0zM409.6 250.9h1.0v1.0h-1.0zM406.8 253.1h1.0v1.0h-1.0zM406.9 249.8h1.0v1.0h-1.0zM401.6 249.6h1.0v1.0h-1.0zM399.9 253.5h1.0v1.0h-1.0zM403.8 254.9h1.0v1.0h-1.0zM400.2 254.0h1.0v1.0h-1.0zM404.5 254.2h1.0v1.0h-1.0zM402.9 253.7h1.0v1.0h-1.0zM401.2 251.8h1.0v1.0h-1.0zM411.1 256.7h1.0v1.0h-1.0zM401.8 251.9h1.0v1.0h-1.0zM404.2 251.9h1.0v1.0h-1.0zM399.4 254.7h1.0v1.0h-1.0zM404.8 254.4h1.0v1.0h-1.0zM409.9 250.6h1.0v1.0h-1.0zM407.7 254.4h1.0v1.0h-1.0zM410.7 249.6h1.0v1.0h-1.0zM409.1 251.2h1.0v1.0h-1.0zM407.4 255.6h1.0v1.0h-1.0zM410.2 253.5h1.0v1.0h-1.0zM401.5 251.7h1.0v1.0h-1.0zM403.2 254.0h1.0v1.0h-1.0zM408.8 257.3h1.0v1.0h-1.0zM401.5 249.9h1.0v1.0h-1.0zM403.7 253.1h1.0v1.0h-1.0zM400.3 252.4h1.0v1.0h-1.0zM400.9 252.7h1.0v1.0h-1.0zM402.7 255.2h1.0v1.0h-1.0zM404.5 254.1h1.0v1.0h-1.0zM400.4 256.8h1.0v1.0h-1.0zM411.2 254.1h1.0v1.0h-1.0zM409.6 251.7h1.0v1.0h-1.0zM400.1 258.4h1.0v1.0h-1.0zM401.0 254.8h1.0v1.0h-1.0zM406.7 254.0h1.0v1.0h-1.0zM408.6 250.1h1.0v1.0h-1.0zM404.8 254.6h1.0v1.0h-1.0zM410.7 251.9h1.0v1.0h-1.0zM401.3 252.3h1.0v1.0h-1.0zM404.5 250.2h1.0v1.0h-1.0zM402.0 255.5h1.0v1.0h-1.0zM402.8 254.3h1.0v1.0h-1.0zM405.9 253.2h1.0v1.0h-1.0zM401.9 252.5h1.0v1.0h-1.0zM400.3 251.5h1.0v1.0h-1.0zM408.3 252.4h1.0v1.0h-1.0zM409.9 255.1h1.0v1.0h-1.0zM408.9 252.8h1.0v1.0h-1.0zM400.7 257.1h1.0v1.0h-1.0zM405.6 256.7h1.0v1.0h-1.0zM410.6 255.6h1.0v1.0h-1.0zM407.1 256.6h1.0v1.0h-1.0zM405.0 254.7h1.0v1.0h-1.0zM404.7 255.0h1.0v1.0h-1.0zM404.8 255.4h1.0v1.0h-1.0zM400.0 253.2h1.0v1.0h-1.0zM402.8 252.5h1.0v1.0h-1.0zM400.2 252.3h1.0v1.0h-1.0zM400.3 251.0h1.0v1.0h-1.0zM400.2 258.4h1.0v1.0h-1.0zM403.4 254.8h1.0v1.0h-1.0zM404.9 257.2h1.0v1.0h-1.0zM400.3 255.3h1.0v1.0h-1.0zM407.7 252.5h1.0v1.0h-1.0zM404.8 254.5h1.0v1.0h-1.0zM402.0 253.5h1.0v1.0h-1.0zM402.7 253.6h1.0v1.0h-1.0zM405.4 258.1h1.0v1.0h-1.0zM403.5 249.7h1.0v1.0h-1.0zM406.3 253.8h1.0v1.0h-1.0zM404.8 252.3h1.0v1.0h-1.0zM404.2 251.5h1.0v1.0h-1.0zM404.5 255.6h1.0v1.0h-1.0zM410.2 255.7h1.0v1.0h-1.0zM403.0 252.0h1.0v1.0h-1.0zM406.5 256.2h1.0v1.0h-1.0zM401.3 250.6h1.0v1.0h-1.0zM399.6 255.2h1.0v1.0h-1.0zM400.5 254.2h1.0v1.0h-1.0zM400.0 249.2h1.0v1.0h-1.0zM400.1 252.7h1.0v1.0h-1.0zM407.4 252.7h1.0v1.0h-1.0zM399.5 252.7h1.0v1.0h-1.0zM403.3 254.4h1.0v1.0h-1.0zM407.8 249.7h1.0v1.0h-1.0zM409.7 253.7h1.0v1.0h-1.0zM406.9 254.8h1.0v1.0h-1.0zM405.1 252.9h1.0v1.0h-1.0zM403.1 253.2h1.0v1.0h-1.0zM410.3 253.2h1.0v1.0h-1.0zM403.8 255.1h1.0v1.0h-1.0zM410.9 248.9h1.0v1.0h-1.0zM408.5 253.7h1.0v1.0h-1.0zM402.6 251.6h1.0v1.0h-1.0zM401.3 249.7h1.0v1.0h-1.0zM404.2 256.7h1.0v1.0h-1.0zM402.3 252.3h1.0v1.0h-1.0zM406.8 252.4h1.0v1.0h-1.0zM404.8 253.9h1.0v1.0h-1.0zM409.4 254.6h1.0v1.0h-1.0zM407.4 254.1h1.0v1.0h-1.0zM406.4 256.6h1.0v1.0h-1.0zM405.4 257.1h1.0v1.0h-1.0zM403.0 251.8h1.0v1.0h-1.0z" fill="#111" fill-opacity="0.9"/>
<text transform="translate(392.90,277.10) rotate(-45)" font-size="6.35" text-anchor="end" fill="#2b2b2b" stroke="#2b2b2b">VEN-relapse</text>
<text transform="translate(407.10,277.10) rotate(-45)" font-size="6.35" text-anchor="end" fill="#2b2b2b" stroke="#2b2b2b">VEN-relapse</text>
<text transform="translate(412.50,280.80) rotate(-45)" font-size="6.35" text-anchor="end" fill="#2b2b2b" stroke="#2b2b2b">now on BTKi</text>
<text x="444.40" y="217.60" font-size="8.4" text-anchor="middle" fill="#2b2b2b" stroke="#2b2b2b" font-weight="normal" textLength="20.1" lengthAdjust="spacingAndGlyphs">BCL2</text>
<line x1="426.50" y1="226.70" x2="426.50" y2="268.00" stroke="#2a2a2a" stroke-width="1.2"/>
<line x1="423.70" y1="228.80" x2="426.50" y2="228.80" stroke="#2a2a2a" stroke-width="1.2"/>
<text x="421.40" y="232.20" font-size="6.7" text-anchor="end" fill="#2b2b2b" stroke="#2b2b2b" font-weight="normal" textLength="3.61" lengthAdjust="spacingAndGlyphs">5</text>
<line x1="423.70" y1="236.70" x2="426.50" y2="236.70" stroke="#2a2a2a" stroke-width="1.2"/>
<text x="421.40" y="240.10" font-size="6.7" text-anchor="end" fill="#2b2b2b" stroke="#2b2b2b" font-weight="normal" textLength="3.61" lengthAdjust="spacingAndGlyphs">4</text>
<line x1="423.70" y1="244.30" x2="426.50" y2="244.30" stroke="#2a2a2a" stroke-width="1.2"/>
<text x="421.40" y="247.70" font-size="6.7" text-anchor="end" fill="#2b2b2b" stroke="#2b2b2b" font-weight="normal" textLength="3.61" lengthAdjust="spacingAndGlyphs">3</text>
<line x1="423.70" y1="251.70" x2="426.50" y2="251.70" stroke="#2a2a2a" stroke-width="1.2"/>
<text x="421.40" y="255.10" font-size="6.7" text-anchor="end" fill="#2b2b2b" stroke="#2b2b2b" font-weight="normal" textLength="3.61" lengthAdjust="spacingAndGlyphs">2</text>
<line x1="423.70" y1="258.90" x2="426.50" y2="258.90" stroke="#2a2a2a" stroke-width="1.2"/>
<text x="421.40" y="262.30" font-size="6.7" text-anchor="end" fill="#2b2b2b" stroke="#2b2b2b" font-weight="normal" textLength="3.61" lengthAdjust="spacingAndGlyphs">1</text>
<line x1="423.70" y1="266.30" x2="426.50" y2="266.30" stroke="#2a2a2a" stroke-width="1.2"/>
<text x="421.40" y="269.70" font-size="6.7" text-anchor="end" fill="#2b2b2b" stroke="#2b2b2b" font-weight="normal" textLength="3.61" lengthAdjust="spacingAndGlyphs">0</text>
<line x1="425.90" y1="268.00" x2="462.50" y2="268.00" stroke="#2a2a2a" stroke-width="1.2"/>
<line x1="436.40" y1="268.00" x2="436.40" y2="270.80" stroke="#2a2a2a" stroke-width="1.2"/>
<line x1="453.40" y1="268.00" x2="453.40" y2="270.80" stroke="#2a2a2a" stroke-width="1.2"/>
<path d="M436.70,229.80 L436.76,230.60 L436.84,231.75 L436.93,233.07 L437.02,234.41 L437.10,235.60 L437.16,236.62 L437.21,237.59 L437.26,238.53 L437.32,239.46 L437.40,240.40 L437.50,241.38 L437.60,242.37 L437.72,243.35 L437.86,244.30 L438.00,245.20 L438.17,246.02 L438.38,246.79 L438.58,247.52 L438.77,248.25 L438.90,249.00 L438.96,249.78 L438.98,250.56 L438.97,251.34 L438.97,252.12 L439.00,252.90 L439.11,253.68 L439.27,254.47 L439.42,255.25 L439.52,256.00 L439.50,256.70 L439.31,257.34 L439.00,257.94 L438.62,258.50 L438.27,259.05 L438.00,259.60 L437.83,260.18 L437.70,260.79 L437.62,261.36 L437.55,261.85 L437.50,262.20 L435.50,262.20 L435.45,261.85 L435.38,261.36 L435.30,260.79 L435.17,260.18 L435.00,259.60 L434.73,259.05 L434.38,258.50 L434.00,257.94 L433.69,257.34 L433.50,256.70 L433.48,256.00 L433.58,255.25 L433.73,254.47 L433.89,253.68 L434.00,252.90 L434.03,252.12 L434.03,251.34 L434.02,250.56 L434.04,249.78 L434.10,249.00 L434.23,248.25 L434.42,247.52 L434.62,246.79 L434.83,246.02 L435.00,245.20 L435.14,244.30 L435.28,243.35 L435.40,242.37 L435.50,241.38 L435.60,240.40 L435.68,239.46 L435.74,238.53 L435.79,237.59 L435.84,236.62 L435.90,235.60 L435.98,234.41 L436.07,233.07 L436.16,231.75 L436.24,230.60 L436.30,229.80Z" fill="url(#g34)" fill-opacity="1.0"/>
<path d="M435.70,262.00 L437.30,262.00 L439.20,263.57 L442.50,265.15 L442.10,265.50 L430.90,265.50 L430.50,265.15 L433.80,263.57Z" fill="#d5112f" fill-opacity="1.0"/>
<path d="M453.50,235.60 L453.58,236.19 L453.69,237.00 L453.82,237.97 L453.96,239.00 L454.10,240.00 L454.23,240.95 L454.36,241.90 L454.49,242.90 L454.64,243.99 L454.80,245.20 L454.98,246.64 L455.19,248.29 L455.40,249.98 L455.61,251.57 L455.80,252.90 L456.01,253.92 L456.24,254.74 L456.44,255.43 L456.58,256.06 L456.60,256.70 L456.47,257.34 L456.22,257.94 L455.90,258.50 L455.57,259.05 L455.30,259.60 L455.06,260.18 L454.83,260.79 L454.61,261.36 L454.43,261.85 L454.30,262.20 L452.30,262.20 L452.17,261.85 L451.99,261.36 L451.77,260.79 L451.54,260.18 L451.30,259.60 L451.03,259.05 L450.70,258.50 L450.38,257.94 L450.13,257.34 L450.00,256.70 L450.02,256.06 L450.16,255.43 L450.36,254.74 L450.59,253.92 L450.80,252.90 L450.99,251.57 L451.20,249.98 L451.41,248.29 L451.62,246.64 L451.80,245.20 L451.96,243.99 L452.11,242.90 L452.24,241.90 L452.37,240.95 L452.50,240.00 L452.64,239.00 L452.78,237.97 L452.91,237.00 L453.02,236.19 L453.10,235.60Z" fill="url(#g35)" fill-opacity="1.0"/>
<path d="M452.50,262.00 L454.10,262.00 L456.00,263.57 L459.30,265.15 L458.90,265.50 L447.70,265.50 L447.30,265.15 L450.60,263.57Z" fill="#f7b51c" fill-opacity="1.0"/>
<text transform="translate(438.80,277.30) rotate(-45)" font-size="6.35" text-anchor="end" fill="#2b2b2b" stroke="#2b2b2b">VEN-relapse</text>
<text transform="translate(455.80,277.30) rotate(-45)" font-size="6.35" text-anchor="end" fill="#2b2b2b" stroke="#2b2b2b">VEN-relapse</text>
<text transform="translate(461.20,281.00) rotate(-45)" font-size="6.35" text-anchor="end" fill="#2b2b2b" stroke="#2b2b2b">now on BTKi</text>
<text x="491.20" y="217.60" font-size="8.4" text-anchor="middle" fill="#2b2b2b" stroke="#2b2b2b" font-weight="normal" textLength="56.3" lengthAdjust="spacingAndGlyphs">BCL2L1/BCLxL</text>
<line x1="475.50" y1="226.20" x2="475.50" y2="267.50" stroke="#2a2a2a" stroke-width="1.2"/>
<line x1="472.70" y1="238.40" x2="475.50" y2="238.40" stroke="#2a2a2a" stroke-width="1.2"/>
<text x="470.40" y="241.80" font-size="6.7" text-anchor="end" fill="#2b2b2b" stroke="#2b2b2b" font-weight="normal" textLength="3.61" lengthAdjust="spacingAndGlyphs">3</text>
<line x1="472.70" y1="247.70" x2="475.50" y2="247.70" stroke="#2a2a2a" stroke-width="1.2"/>
<text x="470.40" y="251.10" font-size="6.7" text-anchor="end" fill="#2b2b2b" stroke="#2b2b2b" font-weight="normal" textLength="3.61" lengthAdjust="spacingAndGlyphs">2</text>
<line x1="472.70" y1="257.20" x2="475.50" y2="257.20" stroke="#2a2a2a" stroke-width="1.2"/>
<text x="470.40" y="260.60" font-size="6.7" text-anchor="end" fill="#2b2b2b" stroke="#2b2b2b" font-weight="normal" textLength="3.61" lengthAdjust="spacingAndGlyphs">1</text>
<line x1="472.70" y1="266.70" x2="475.50" y2="266.70" stroke="#2a2a2a" stroke-width="1.2"/>
<text x="470.40" y="270.10" font-size="6.7" text-anchor="end" fill="#2b2b2b" stroke="#2b2b2b" font-weight="normal" textLength="3.61" lengthAdjust="spacingAndGlyphs">0</text>
<line x1="474.90" y1="267.50" x2="507.40" y2="267.50" stroke="#2a2a2a" stroke-width="1.2"/>
<line x1="483.70" y1="267.50" x2="483.70" y2="270.30" stroke="#2a2a2a" stroke-width="1.2"/>
<line x1="498.40" y1="267.50" x2="498.40" y2="270.30" stroke="#2a2a2a" stroke-width="1.2"/>
<path d="M483.7 244.5h0.9v0.9h-0.9zM483.9 250.9h0.9v0.9h-0.9zM484.5 252.3h0.9v0.9h-0.9zM484.5 253.4h0.9v0.9h-0.9zM486.2 255.6h0.9v0.9h-0.9zM481.6 252.9h0.9v0.9h-0.9zM478.6 257.9h0.9v0.9h-0.9zM477.9 247.9h0.9v0.9h-0.9zM491.1 262.2h0.9v0.9h-0.9zM486.0 253.5h0.9v0.9h-0.9zM479.6 261.2h0.9v0.9h-0.9zM478.2 255.6h0.9v0.9h-0.9zM480.0 255.1h0.9v0.9h-0.9zM483.8 256.3h0.9v0.9h-0.9zM483.5 258.4h0.9v0.9h-0.9zM486.3 250.0h0.9v0.9h-0.9zM484.3 252.2h0.9v0.9h-0.9zM481.2 250.3h0.9v0.9h-0.9zM491.3 264.6h0.9v0.9h-0.9zM487.3 254.8h0.9v0.9h-0.9zM481.8 255.6h0.9v0.9h-0.9zM478.3 259.1h0.9v0.9h-0.9zM488.1 247.2h0.9v0.9h-0.9zM482.8 260.7h0.9v0.9h-0.9zM490.8 255.1h0.9v0.9h-0.9zM480.3 254.9h0.9v0.9h-0.9zM490.1 241.3h0.9v0.9h-0.9zM482.9 257.7h0.9v0.9h-0.9zM478.4 249.1h0.9v0.9h-0.9zM481.1 248.7h0.9v0.9h-0.9zM478.6 248.7h0.9v0.9h-0.9zM479.0 255.1h0.9v0.9h-0.9zM478.2 257.4h0.9v0.9h-0.9zM488.5 257.9h0.9v0.9h-0.9zM483.6 260.8h0.9v0.9h-0.9zM480.0 254.7h0.9v0.9h-0.9zM486.4 252.4h0.9v0.9h-0.9zM479.0 252.0h0.9v0.9h-0.9zM481.1 256.7h0.9v0.9h-0.9zM490.9 256.5h0.9v0.9h-0.9zM489.7 251.0h0.9v0.9h-0.9zM480.3 247.3h0.9v0.9h-0.9zM486.3 261.1h0.9v0.9h-0.9zM478.8 258.5h0.9v0.9h-0.9zM481.0 254.8h0.9v0.9h-0.9zM488.2 253.1h0.9v0.9h-0.9zM478.4 258.7h0.9v0.9h-0.9zM478.6 251.8h0.9v0.9h-0.9zM485.8 253.2h0.9v0.9h-0.9zM482.6 242.9h0.9v0.9h-0.9zM484.1 258.7h0.9v0.9h-0.9zM485.4 257.2h0.9v0.9h-0.9zM479.5 252.7h0.9v0.9h-0.9zM490.1 256.6h0.9v0.9h-0.9zM480.0 251.6h0.9v0.9h-0.9zM487.7 258.1h0.9v0.9h-0.9zM490.7 253.8h0.9v0.9h-0.9zM489.7 250.9h0.9v0.9h-0.9zM478.8 251.9h0.9v0.9h-0.9zM477.9 258.6h0.9v0.9h-0.9zM487.2 254.2h0.9v0.9h-0.9zM480.9 258.1h0.9v0.9h-0.9zM481.5 249.0h0.9v0.9h-0.9zM479.8 254.7h0.9v0.9h-0.9zM480.5 253.2h0.9v0.9h-0.9zM485.2 259.2h0.9v0.9h-0.9zM481.3 249.5h0.9v0.9h-0.9zM490.2 255.3h0.9v0.9h-0.9zM481.1 255.9h0.9v0.9h-0.9zM483.6 257.9h0.9v0.9h-0.9zM482.5 256.2h0.9v0.9h-0.9zM485.4 258.3h0.9v0.9h-0.9zM489.8 258.5h0.9v0.9h-0.9zM491.1 250.8h0.9v0.9h-0.9zM485.5 248.7h0.9v0.9h-0.9zM479.3 256.0h0.9v0.9h-0.9zM490.1 255.3h0.9v0.9h-0.9zM487.2 256.1h0.9v0.9h-0.9zM486.3 254.8h0.9v0.9h-0.9zM484.1 254.5h0.9v0.9h-0.9zM491.3 250.7h0.9v0.9h-0.9zM478.4 247.2h0.9v0.9h-0.9zM490.0 252.7h0.9v0.9h-0.9zM487.7 252.5h0.9v0.9h-0.9zM490.2 246.5h0.9v0.9h-0.9zM482.3 250.8h0.9v0.9h-0.9zM489.5 245.2h0.9v0.9h-0.9zM483.2 257.6h0.9v0.9h-0.9zM485.4 245.4h0.9v0.9h-0.9zM486.1 250.2h0.9v0.9h-0.9zM485.9 259.5h0.9v0.9h-0.9zM478.5 244.9h0.9v0.9h-0.9zM489.7 242.9h0.9v0.9h-0.9zM487.5 248.8h0.9v0.9h-0.9zM485.5 260.3h0.9v0.9h-0.9zM483.5 256.2h0.9v0.9h-0.9zM487.9 253.3h0.9v0.9h-0.9zM477.8 250.4h0.9v0.9h-0.9zM480.6 251.6h0.9v0.9h-0.9zM500.8 251.9h0.9v0.9h-0.9zM503.5 256.1h0.9v0.9h-0.9zM495.5 258.6h0.9v0.9h-0.9zM500.6 256.2h0.9v0.9h-0.9zM494.9 259.2h0.9v0.9h-0.9zM500.4 261.8h0.9v0.9h-0.9zM497.8 258.1h0.9v0.9h-0.9zM500.4 254.4h0.9v0.9h-0.9zM494.8 251.1h0.9v0.9h-0.9zM503.4 258.3h0.9v0.9h-0.9zM503.0 253.1h0.9v0.9h-0.9zM496.2 258.7h0.9v0.9h-0.9zM494.1 250.3h0.9v0.9h-0.9zM502.6 256.2h0.9v0.9h-0.9zM501.0 258.3h0.9v0.9h-0.9zM494.5 255.3h0.9v0.9h-0.9zM497.9 255.7h0.9v0.9h-0.9zM497.4 258.1h0.9v0.9h-0.9zM500.0 253.4h0.9v0.9h-0.9zM502.5 256.2h0.9v0.9h-0.9zM504.2 254.9h0.9v0.9h-0.9zM492.8 256.4h0.9v0.9h-0.9zM502.9 260.6h0.9v0.9h-0.9zM499.3 257.3h0.9v0.9h-0.9zM496.2 256.2h0.9v0.9h-0.9zM494.1 255.5h0.9v0.9h-0.9zM497.9 261.6h0.9v0.9h-0.9zM495.3 256.9h0.9v0.9h-0.9zM494.1 260.1h0.9v0.9h-0.9zM497.8 257.3h0.9v0.9h-0.9zM500.0 253.0h0.9v0.9h-0.9zM504.0 251.5h0.9v0.9h-0.9zM500.7 257.1h0.9v0.9h-0.9zM494.6 259.3h0.9v0.9h-0.9zM492.6 251.4h0.9v0.9h-0.9zM494.6 256.9h0.9v0.9h-0.9zM495.7 253.4h0.9v0.9h-0.9zM498.7 259.9h0.9v0.9h-0.9zM499.8 256.2h0.9v0.9h-0.9zM502.0 253.1h0.9v0.9h-0.9zM503.3 262.0h0.9v0.9h-0.9zM501.1 259.7h0.9v0.9h-0.9zM494.0 252.0h0.9v0.9h-0.9zM503.4 257.3h0.9v0.9h-0.9zM497.0 250.4h0.9v0.9h-0.9zM502.0 253.5h0.9v0.9h-0.9zM503.8 251.8h0.9v0.9h-0.9zM494.9 257.0h0.9v0.9h-0.9zM501.1 257.8h0.9v0.9h-0.9zM501.1 252.1h0.9v0.9h-0.9zM495.0 262.9h0.9v0.9h-0.9zM504.2 251.1h0.9v0.9h-0.9zM498.9 256.7h0.9v0.9h-0.9zM503.4 253.5h0.9v0.9h-0.9zM502.7 255.3h0.9v0.9h-0.9zM497.7 257.1h0.9v0.9h-0.9zM499.1 256.4h0.9v0.9h-0.9zM492.8 252.6h0.9v0.9h-0.9zM502.2 261.0h0.9v0.9h-0.9zM494.5 258.2h0.9v0.9h-0.9zM496.5 256.4h0.9v0.9h-0.9zM494.2 254.4h0.9v0.9h-0.9zM498.6 255.1h0.9v0.9h-0.9zM500.7 250.4h0.9v0.9h-0.9zM503.8 248.7h0.9v0.9h-0.9z" fill="#555" fill-opacity="0.5"/>
<line x1="476.00" y1="266.80" x2="507.00" y2="266.80" stroke="#444" stroke-width="1.4"/>
<line x1="484.40" y1="235.20" x2="484.40" y2="266.50" stroke="#333" stroke-width="0.9"/>
<line x1="498.80" y1="248.10" x2="498.80" y2="266.50" stroke="#444" stroke-width="1.0"/>
<line x1="498.80" y1="253.00" x2="498.80" y2="257.50" stroke="#555" stroke-width="2.0"/>
<text transform="translate(486.10,276.80) rotate(-45)" font-size="6.35" text-anchor="end" fill="#2b2b2b" stroke="#2b2b2b">VEN-relapse</text>
<text transform="translate(500.80,276.80) rotate(-45)" font-size="6.35" text-anchor="end" fill="#2b2b2b" stroke="#2b2b2b">VEN-relapse</text>
<text transform="translate(506.20,280.50) rotate(-45)" font-size="6.35" text-anchor="end" fill="#2b2b2b" stroke="#2b2b2b">now on BTKi</text>
<text x="0.90" y="308.30" font-size="11.2" text-anchor="start" fill="#111" stroke="#111" font-weight="bold" style="stroke-width:0.45px">C</text>
<text x="68.40" y="318.00" font-size="9.0" text-anchor="middle" fill="#2b2b2b" stroke="#2b2b2b" font-weight="normal">CLL2</text>
<path d="M60.90,384.10 L75.10,417.80 L75.10,418.30 L60.90,418.30Z" fill="#e9168b" fill-opacity="0.5"/>
<path d="M60.90,381.80 L75.10,417.60 L75.10,417.80 L60.90,384.10Z" fill="#29aae2" fill-opacity="0.5"/>
<path d="M60.90,367.60 L75.10,415.80 L75.10,417.60 L60.90,381.80Z" fill="#0d6e50" fill-opacity="0.5"/>
<path d="M60.90,356.90 L75.10,414.60 L75.10,415.80 L60.90,367.60Z" fill="#1b5189" fill-opacity="0.5"/>
<path d="M60.90,349.70 L75.10,414.40 L75.10,414.60 L60.90,356.90Z" fill="#f7941d" fill-opacity="0.5"/>
<path d="M60.90,345.60 L75.10,414.20 L75.10,414.40 L60.90,349.70Z" fill="#8b8acb" fill-opacity="0.5"/>
<path d="M60.90,338.50 L75.10,401.30 L75.10,414.20 L60.90,345.60Z" fill="#3bb54a" fill-opacity="0.5"/>
<path d="M60.90,338.00 L75.10,396.30 L75.10,401.30 L60.90,338.50Z" fill="#d5112f" fill-opacity="0.5"/>
<path d="M60.90,333.50 L75.10,364.90 L75.10,396.30 L60.90,338.00Z" fill="#5a2882" fill-opacity="0.5"/>
<path d="M60.90,331.20 L75.10,331.20 L75.10,364.90 L60.90,333.50Z" fill="#3e4c62" fill-opacity="0.5"/>
<rect x="30.40" y="331.20" width="30.50" height="2.30" fill="#3e4c62"/>
<rect x="30.40" y="333.50" width="30.50" height="4.50" fill="#5a2882"/>
<rect x="30.40" y="338.00" width="30.50" height="0.50" fill="#d5112f"/>
<rect x="30.40" y="338.50" width="30.50" height="7.10" fill="#3bb54a"/>
<rect x="30.40" y="345.60" width="30.50" height="4.10" fill="#8b8acb"/>
<rect x="30.40" y="349.70" width="30.50" height="7.20" fill="#f7941d"/>
<rect x="30.40" y="356.90" width="30.50" height="10.70" fill="#1b5189"/>
<rect x="30.40" y="367.60" width="30.50" height="14.20" fill="#0d6e50"/>
<rect x="30.40" y="381.80" width="30.50" height="2.30" fill="#29aae2"/>
<rect x="30.40" y="384.10" width="30.50" height="34.20" fill="#e9168b"/>
<rect x="75.10" y="331.20" width="30.50" height="33.70" fill="#3e4c62"/>
<rect x="75.10" y="364.90" width="30.50" height="31.40" fill="#5a2882"/>
<rect x="75.10" y="396.30" width="30.50" height="5.00" fill="#d5112f"/>
<rect x="75.10" y="401.30" width="30.50" height="12.90" fill="#3bb54a"/>
<rect x="75.10" y="414.20" width="30.50" height="0.20" fill="#8b8acb"/>
<rect x="75.10" y="414.40" width="30.50" height="0.20" fill="#f7941d"/>
<rect x="75.10" y="414.60" width="30.50" height="1.20" fill="#1b5189"/>
<rect x="75.10" y="415.80" width="30.50" height="1.80" fill="#0d6e50"/>
<rect x="75.10" y="417.60" width="30.50" height="0.20" fill="#29aae2"/>
<rect x="75.10" y="417.80" width="30.50" height="0.50" fill="#e9168b"/>
<text x="45.60" y="350.00" font-size="7.2" text-anchor="middle" fill="#25245a" stroke="#25245a" font-weight="normal">7</text>
<text x="45.60" y="354.30" font-size="7.2" text-anchor="middle" fill="#5a2a00" stroke="#5a2a00" font-weight="normal">5</text>
<text x="45.60" y="363.00" font-size="7.2" text-anchor="middle" fill="#d8e4f0" stroke="#d8e4f0" font-weight="normal">6</text>
<text x="45.60" y="375.80" font-size="7.2" text-anchor="middle" fill="#d0eadc" stroke="#d0eadc" font-weight="normal">4</text>
<text x="45.60" y="384.90" font-size="7.2" text-anchor="middle" fill="#0d3d60" stroke="#0d3d60" font-weight="normal">9</text>
<text x="45.60" y="404.00" font-size="7.2" text-anchor="middle" fill="#6a0a3a" stroke="#6a0a3a" font-weight="normal">2</text>
<text x="90.40" y="350.60" font-size="7.2" text-anchor="middle" fill="#d8dde6" stroke="#d8dde6" font-weight="normal">1</text>
<text x="90.40" y="383.60" font-size="7.2" text-anchor="middle" fill="#e6ddf0" stroke="#e6ddf0" font-weight="normal">0</text>
<text x="90.40" y="401.60" font-size="7.2" text-anchor="middle" fill="#f8dde0" stroke="#f8dde0" font-weight="normal">8</text>
<text x="90.40" y="410.40" font-size="7.2" text-anchor="middle" fill="#0a3a10" stroke="#0a3a10" font-weight="normal">3</text>
<line x1="26.70" y1="329.50" x2="26.70" y2="418.80" stroke="#2a2a2a" stroke-width="1.2"/>
<line x1="23.90" y1="331.30" x2="26.70" y2="331.30" stroke="#2a2a2a" stroke-width="1.2"/>
<text x="20.30" y="334.70" font-size="7.9" text-anchor="end" fill="#2b2b2b" stroke="#2b2b2b" font-weight="normal" textLength="11.31" lengthAdjust="spacingAndGlyphs">1.0</text>
<line x1="23.90" y1="348.60" x2="26.70" y2="348.60" stroke="#2a2a2a" stroke-width="1.2"/>
<text x="20.30" y="352.00" font-size="7.9" text-anchor="end" fill="#2b2b2b" stroke="#2b2b2b" font-weight="normal" textLength="11.31" lengthAdjust="spacingAndGlyphs">0.8</text>
<line x1="23.90" y1="366.00" x2="26.70" y2="366.00" stroke="#2a2a2a" stroke-width="1.2"/>
<text x="20.30" y="369.40" font-size="7.9" text-anchor="end" fill="#2b2b2b" stroke="#2b2b2b" font-weight="normal" textLength="11.31" lengthAdjust="spacingAndGlyphs">0.6</text>
<line x1="23.90" y1="383.30" x2="26.70" y2="383.30" stroke="#2a2a2a" stroke-width="1.2"/>
<text x="20.30" y="386.70" font-size="7.9" text-anchor="end" fill="#2b2b2b" stroke="#2b2b2b" font-weight="normal" textLength="11.31" lengthAdjust="spacingAndGlyphs">0.4</text>
<line x1="23.90" y1="400.80" x2="26.70" y2="400.80" stroke="#2a2a2a" stroke-width="1.2"/>
<text x="20.30" y="404.20" font-size="7.9" text-anchor="end" fill="#2b2b2b" stroke="#2b2b2b" font-weight="normal" textLength="11.31" lengthAdjust="spacingAndGlyphs">0.2</text>
<line x1="23.90" y1="418.30" x2="26.70" y2="418.30" stroke="#2a2a2a" stroke-width="1.2"/>
<text x="20.30" y="421.70" font-size="7.9" text-anchor="end" fill="#2b2b2b" stroke="#2b2b2b" font-weight="normal" textLength="11.31" lengthAdjust="spacingAndGlyphs">0.0</text>
<line x1="26.10" y1="418.80" x2="109.60" y2="418.80" stroke="#2a2a2a" stroke-width="1.2"/>
<line x1="45.60" y1="418.80" x2="45.60" y2="421.60" stroke="#2a2a2a" stroke-width="1.2"/>
<line x1="90.40" y1="418.80" x2="90.40" y2="421.60" stroke="#2a2a2a" stroke-width="1.2"/>
<text x="45.60" y="432.60" font-size="8.1" text-anchor="middle" fill="#2b2b2b" stroke="#2b2b2b" font-weight="normal">VEN</text>
<text x="45.60" y="442.10" font-size="8.1" text-anchor="middle" fill="#2b2b2b" stroke="#2b2b2b" font-weight="normal" textLength="26.0" lengthAdjust="spacingAndGlyphs">relapse</text>
<text x="90.40" y="432.60" font-size="8.1" text-anchor="middle" fill="#2b2b2b" stroke="#2b2b2b" font-weight="normal" textLength="44.6" lengthAdjust="spacingAndGlyphs">VEN relapse</text>
<text x="90.40" y="442.10" font-size="8.1" text-anchor="middle" fill="#2b2b2b" stroke="#2b2b2b" font-weight="normal" textLength="45.2" lengthAdjust="spacingAndGlyphs">now on BTKi</text>
<text x="200.30" y="357.40" font-size="8.7" text-anchor="middle" fill="#2b2b2b" stroke="#2b2b2b" font-weight="normal" textLength="49.1" lengthAdjust="spacingAndGlyphs">NFKB_genes</text>
<line x1="139.00" y1="364.50" x2="139.00" y2="418.20" stroke="#2a2a2a" stroke-width="1.2"/>
<line x1="136.20" y1="368.50" x2="139.00" y2="368.50" stroke="#2a2a2a" stroke-width="1.2"/>
<text x="133.20" y="371.80" font-size="7.8" text-anchor="end" fill="#2b2b2b" stroke="#2b2b2b" font-weight="normal" textLength="16.4" lengthAdjust="spacingAndGlyphs">1.00</text>
<line x1="136.20" y1="378.70" x2="139.00" y2="378.70" stroke="#2a2a2a" stroke-width="1.2"/>
<text x="133.20" y="382.00" font-size="7.8" text-anchor="end" fill="#2b2b2b" stroke="#2b2b2b" font-weight="normal" textLength="16.4" lengthAdjust="spacingAndGlyphs">0.75</text>
<line x1="136.20" y1="389.00" x2="139.00" y2="389.00" stroke="#2a2a2a" stroke-width="1.2"/>
<text x="133.20" y="392.30" font-size="7.8" text-anchor="end" fill="#2b2b2b" stroke="#2b2b2b" font-weight="normal" textLength="16.4" lengthAdjust="spacingAndGlyphs">0.50</text>
<line x1="136.20" y1="399.40" x2="139.00" y2="399.40" stroke="#2a2a2a" stroke-width="1.2"/>
<text x="133.20" y="402.70" font-size="7.8" text-anchor="end" fill="#2b2b2b" stroke="#2b2b2b" font-weight="normal" textLength="16.4" lengthAdjust="spacingAndGlyphs">0.25</text>
<line x1="136.20" y1="409.60" x2="139.00" y2="409.60" stroke="#2a2a2a" stroke-width="1.2"/>
<text x="133.20" y="412.90" font-size="7.8" text-anchor="end" fill="#2b2b2b" stroke="#2b2b2b" font-weight="normal" textLength="16.4" lengthAdjust="spacingAndGlyphs">0.00</text>
<line x1="138.40" y1="418.20" x2="261.60" y2="418.20" stroke="#2a2a2a" stroke-width="1.2"/>
<line x1="147.30" y1="418.20" x2="147.30" y2="421.00" stroke="#2a2a2a" stroke-width="1.2"/>
<line x1="159.06" y1="418.20" x2="159.06" y2="421.00" stroke="#2a2a2a" stroke-width="1.2"/>
<line x1="170.82" y1="418.20" x2="170.82" y2="421.00" stroke="#2a2a2a" stroke-width="1.2"/>
<line x1="182.58" y1="418.20" x2="182.58" y2="421.00" stroke="#2a2a2a" stroke-width="1.2"/>
<line x1="194.34" y1="418.20" x2="194.34" y2="421.00" stroke="#2a2a2a" stroke-width="1.2"/>
<line x1="206.10" y1="418.20" x2="206.10" y2="421.00" stroke="#2a2a2a" stroke-width="1.2"/>
<line x1="217.86" y1="418.20" x2="217.86" y2="421.00" stroke="#2a2a2a" stroke-width="1.2"/>
<line x1="229.62" y1="418.20" x2="229.62" y2="421.00" stroke="#2a2a2a" stroke-width="1.2"/>
<line x1="241.38" y1="418.20" x2="241.38" y2="421.00" stroke="#2a2a2a" stroke-width="1.2"/>
<line x1="253.14" y1="418.20" x2="253.14" y2="421.00" stroke="#2a2a2a" stroke-width="1.2"/>
<text x="147.30" y="431.40" font-size="8.6" text-anchor="middle" fill="#2b2b2b" stroke="#2b2b2b" font-weight="normal">0</text>
<text x="159.06" y="431.40" font-size="8.6" text-anchor="middle" fill="#2b2b2b" stroke="#2b2b2b" font-weight="normal">1</text>
<text x="170.82" y="431.40" font-size="8.6" text-anchor="middle" fill="#c23350" stroke="#c23350" font-weight="normal">2</text>
<text x="182.58" y="431.40" font-size="8.6" text-anchor="middle" fill="#2b2b2b" stroke="#2b2b2b" font-weight="normal">3</text>
<text x="194.34" y="431.40" font-size="8.6" text-anchor="middle" fill="#c23350" stroke="#c23350" font-weight="normal">4</text>
<text x="206.10" y="431.40" font-size="8.6" text-anchor="middle" fill="#2b2b2b" stroke="#2b2b2b" font-weight="normal">5</text>
<text x="217.86" y="431.40" font-size="8.6" text-anchor="middle" fill="#c23350" stroke="#c23350" font-weight="normal">6</text>
<text x="229.62" y="431.40" font-size="8.6" text-anchor="middle" fill="#2b2b2b" stroke="#2b2b2b" font-weight="normal">7</text>
<text x="241.38" y="431.40" font-size="8.6" text-anchor="middle" fill="#2b2b2b" stroke="#2b2b2b" font-weight="normal">8</text>
<text x="253.14" y="431.40" font-size="8.6" text-anchor="middle" fill="#c23350" stroke="#c23350" font-weight="normal">9</text>
<text x="200.90" y="445.20" font-size="8.2" text-anchor="middle" fill="#2b2b2b" stroke="#2b2b2b" font-weight="normal" textLength="26.2" lengthAdjust="spacingAndGlyphs">Identity</text>
<path d="M147.60,379.80 L147.66,380.51 L147.74,381.52 L147.83,382.68 L147.92,383.89 L148.00,385.00 L148.06,386.04 L148.09,387.10 L148.13,388.13 L148.20,389.11 L148.30,390.00 L148.44,390.76 L148.60,391.42 L148.79,392.03 L149.02,392.64 L149.30,393.30 L149.65,394.01 L150.08,394.73 L150.52,395.47 L150.95,396.23 L151.30,397.00 L151.61,397.81 L151.90,398.67 L152.14,399.53 L152.28,400.35 L152.30,401.10 L152.17,401.76 L151.92,402.35 L151.57,402.90 L151.16,403.45 L150.70,404.00 L150.13,404.61 L149.42,405.26 L148.69,405.89 L148.05,406.42 L147.60,406.80 L147.00,406.80 L146.55,406.42 L145.91,405.89 L145.18,405.26 L144.47,404.61 L143.90,404.00 L143.44,403.45 L143.03,402.90 L142.68,402.35 L142.43,401.76 L142.30,401.10 L142.32,400.35 L142.46,399.53 L142.70,398.67 L142.99,397.81 L143.30,397.00 L143.65,396.23 L144.08,395.47 L144.52,394.73 L144.95,394.01 L145.30,393.30 L145.58,392.64 L145.81,392.03 L146.00,391.42 L146.16,390.76 L146.30,390.00 L146.40,389.11 L146.47,388.13 L146.51,387.10 L146.54,386.04 L146.60,385.00 L146.68,383.89 L146.77,382.68 L146.86,381.52 L146.94,380.51 L147.00,379.80Z" fill="url(#g36)"/>
<path d="M159.36,384.80 L159.45,385.53 L159.58,386.57 L159.72,387.77 L159.89,388.97 L160.06,390.00 L160.22,390.86 L160.39,391.65 L160.57,392.39 L160.79,393.10 L161.06,393.80 L161.41,394.49 L161.84,395.15 L162.28,395.78 L162.71,396.40 L163.06,397.00 L163.37,397.57 L163.66,398.11 L163.90,398.64 L164.04,399.16 L164.06,399.70 L163.93,400.25 L163.68,400.81 L163.33,401.38 L162.92,401.94 L162.46,402.50 L161.89,403.10 L161.18,403.75 L160.45,404.38 L159.81,404.92 L159.36,405.30 L158.76,405.30 L158.31,404.92 L157.67,404.38 L156.94,403.75 L156.23,403.10 L155.66,402.50 L155.20,401.94 L154.79,401.38 L154.44,400.81 L154.19,400.25 L154.06,399.70 L154.08,399.16 L154.22,398.64 L154.46,398.11 L154.75,397.57 L155.06,397.00 L155.41,396.40 L155.84,395.78 L156.28,395.15 L156.71,394.49 L157.06,393.80 L157.33,393.10 L157.55,392.39 L157.73,391.65 L157.90,390.86 L158.06,390.00 L158.23,388.97 L158.40,387.77 L158.54,386.57 L158.67,385.53 L158.76,384.80Z" fill="url(#g37)"/>
<path d="M171.12,372.00 L171.27,372.54 L171.48,373.31 L171.72,374.21 L172.01,375.14 L172.32,376.00 L172.68,376.82 L173.11,377.65 L173.55,378.47 L173.96,379.26 L174.32,380.00 L174.60,380.65 L174.84,381.24 L175.05,381.80 L175.24,382.38 L175.42,383.00 L175.61,383.68 L175.81,384.41 L175.97,385.15 L176.09,385.88 L176.12,386.60 L176.06,387.28 L175.93,387.95 L175.74,388.61 L175.50,389.28 L175.22,390.00 L174.89,390.77 L174.49,391.58 L174.07,392.40 L173.63,393.22 L173.22,394.00 L172.81,394.76 L172.38,395.53 L171.96,396.27 L171.60,396.96 L171.32,397.60 L171.15,398.20 L171.07,398.76 L171.04,399.27 L171.04,399.69 L171.02,400.00 L170.62,400.00 L170.60,399.69 L170.60,399.27 L170.57,398.76 L170.49,398.20 L170.32,397.60 L170.04,396.96 L169.68,396.27 L169.26,395.53 L168.83,394.76 L168.42,394.00 L168.01,393.22 L167.57,392.40 L167.15,391.58 L166.75,390.77 L166.42,390.00 L166.14,389.28 L165.90,388.61 L165.71,387.95 L165.58,387.28 L165.52,386.60 L165.55,385.88 L165.67,385.15 L165.83,384.41 L166.03,383.68 L166.22,383.00 L166.40,382.38 L166.59,381.80 L166.80,381.24 L167.04,380.65 L167.32,380.00 L167.68,379.26 L168.09,378.47 L168.53,377.65 L168.96,376.82 L169.32,376.00 L169.63,375.14 L169.92,374.21 L170.16,373.31 L170.37,372.54 L170.52,372.00Z" fill="url(#g38)"/>
<path d="M182.88,391.90 L183.11,392.31 L183.42,392.87 L183.80,393.55 L184.19,394.27 L184.58,395.00 L184.97,395.74 L185.39,396.53 L185.82,397.34 L186.22,398.17 L186.58,399.00 L186.93,399.84 L187.28,400.71 L187.60,401.58 L187.81,402.41 L187.88,403.20 L187.79,403.91 L187.57,404.56 L187.24,405.19 L186.84,405.82 L186.38,406.50 L185.79,407.25 L185.05,408.04 L184.27,408.84 L183.58,409.60 L183.08,410.30 L182.82,410.95 L182.73,411.59 L182.73,412.17 L182.77,412.65 L182.78,413.00 L182.38,413.00 L182.39,412.65 L182.43,412.17 L182.43,411.59 L182.34,410.95 L182.08,410.30 L181.58,409.60 L180.89,408.84 L180.11,408.04 L179.37,407.25 L178.78,406.50 L178.32,405.82 L177.92,405.19 L177.59,404.56 L177.37,403.91 L177.28,403.20 L177.35,402.41 L177.56,401.58 L177.88,400.71 L178.23,399.84 L178.58,399.00 L178.94,398.17 L179.34,397.34 L179.77,396.53 L180.19,395.74 L180.58,395.00 L180.97,394.27 L181.36,393.55 L181.74,392.87 L182.05,392.31 L182.28,391.90Z" fill="url(#g39)"/>
<path d="M194.64,375.60 L194.73,375.92 L194.86,376.36 L195.00,376.88 L195.17,377.44 L195.34,378.00 L195.50,378.55 L195.67,379.11 L195.85,379.70 L196.07,380.33 L196.34,381.00 L196.69,381.72 L197.12,382.49 L197.56,383.29 L197.99,384.13 L198.34,385.00 L198.64,385.92 L198.91,386.89 L199.13,387.88 L199.28,388.87 L199.34,389.80 L199.28,390.69 L199.11,391.56 L198.88,392.40 L198.61,393.21 L198.34,394.00 L198.07,394.74 L197.77,395.45 L197.44,396.13 L197.10,396.80 L196.74,397.50 L196.32,398.27 L195.84,399.11 L195.35,399.91 L194.93,400.61 L194.64,401.10 L194.04,401.10 L193.75,400.61 L193.33,399.91 L192.84,399.11 L192.36,398.27 L191.94,397.50 L191.58,396.80 L191.24,396.13 L190.91,395.45 L190.61,394.74 L190.34,394.00 L190.07,393.21 L189.80,392.40 L189.57,391.56 L189.40,390.69 L189.34,389.80 L189.40,388.87 L189.55,387.88 L189.77,386.89 L190.04,385.92 L190.34,385.00 L190.69,384.13 L191.12,383.29 L191.56,382.49 L191.99,381.72 L192.34,381.00 L192.61,380.33 L192.83,379.70 L193.01,379.11 L193.18,378.55 L193.34,378.00 L193.51,377.44 L193.68,376.88 L193.82,376.36 L193.95,375.92 L194.04,375.60Z" fill="url(#g40)"/>
<path d="M206.40,378.40 L206.56,378.73 L206.78,379.19 L207.04,379.73 L207.32,380.35 L207.60,381.00 L207.88,381.69 L208.18,382.45 L208.49,383.26 L208.80,384.11 L209.10,385.00 L209.41,385.95 L209.72,386.98 L210.04,388.02 L210.33,389.05 L210.60,390.00 L210.86,390.86 L211.11,391.67 L211.33,392.45 L211.50,393.22 L211.60,394.00 L211.60,394.80 L211.53,395.60 L211.41,396.40 L211.26,397.20 L211.10,398.00 L210.93,398.82 L210.74,399.65 L210.52,400.47 L210.31,401.26 L210.10,402.00 L209.91,402.65 L209.72,403.22 L209.54,403.78 L209.33,404.35 L209.10,405.00 L208.83,405.73 L208.52,406.52 L208.20,407.34 L207.89,408.18 L207.60,409.00 L207.32,409.88 L207.04,410.83 L206.78,411.75 L206.56,412.54 L206.40,413.10 L205.80,413.10 L205.64,412.54 L205.42,411.75 L205.16,410.83 L204.88,409.88 L204.60,409.00 L204.31,408.18 L204.00,407.34 L203.68,406.52 L203.37,405.73 L203.10,405.00 L202.87,404.35 L202.66,403.78 L202.48,403.22 L202.29,402.65 L202.10,402.00 L201.89,401.26 L201.68,400.47 L201.46,399.65 L201.27,398.82 L201.10,398.00 L200.94,397.20 L200.79,396.40 L200.67,395.60 L200.60,394.80 L200.60,394.00 L200.70,393.22 L200.87,392.45 L201.09,391.67 L201.34,390.86 L201.60,390.00 L201.87,389.05 L202.16,388.02 L202.48,386.98 L202.79,385.95 L203.10,385.00 L203.40,384.11 L203.71,383.26 L204.02,382.45 L204.32,381.69 L204.60,381.00 L204.88,380.35 L205.16,379.73 L205.42,379.19 L205.64,378.73 L205.80,378.40Z" fill="url(#g41)"/>
<path d="M218.16,379.80 L218.31,380.25 L218.52,380.88 L218.76,381.62 L219.05,382.35 L219.36,383.00 L219.71,383.54 L220.10,384.05 L220.52,384.53 L220.95,385.00 L221.36,385.50 L221.82,386.02 L222.35,386.54 L222.85,387.07 L223.22,387.59 L223.36,388.10 L223.22,388.61 L222.85,389.12 L222.35,389.61 L221.82,390.08 L221.36,390.50 L220.94,390.85 L220.49,391.14 L220.05,391.41 L219.66,391.68 L219.36,392.00 L219.17,392.32 L219.06,392.62 L219.00,392.96 L218.95,393.40 L218.86,394.00 L218.72,394.89 L218.56,396.02 L218.40,397.22 L218.26,398.27 L218.16,399.00 L217.56,399.00 L217.46,398.27 L217.32,397.22 L217.16,396.02 L217.00,394.89 L216.86,394.00 L216.77,393.40 L216.72,392.96 L216.66,392.62 L216.55,392.32 L216.36,392.00 L216.06,391.68 L215.67,391.41 L215.23,391.14 L214.78,390.85 L214.36,390.50 L213.90,390.08 L213.37,389.61 L212.87,389.12 L212.50,388.61 L212.36,388.10 L212.50,387.59 L212.87,387.07 L213.37,386.54 L213.90,386.02 L214.36,385.50 L214.77,385.00 L215.20,384.53 L215.62,384.05 L216.01,383.54 L216.36,383.00 L216.67,382.35 L216.96,381.62 L217.20,380.88 L217.41,380.25 L217.56,379.80Z" fill="url(#g42)"/>
<path d="M230.12,375.60 L230.40,375.85 L230.80,376.19 L231.26,376.61 L231.72,377.05 L232.12,377.50 L232.46,377.94 L232.78,378.38 L233.08,378.86 L233.36,379.39 L233.62,380.00 L233.88,380.72 L234.13,381.53 L234.35,382.40 L234.52,383.27 L234.62,384.10 L234.62,384.87 L234.55,385.61 L234.43,386.35 L234.28,387.13 L234.12,388.00 L233.92,389.00 L233.67,390.10 L233.42,391.23 L233.22,392.32 L233.12,393.30 L233.15,394.14 L233.27,394.88 L233.45,395.57 L233.65,396.26 L233.82,397.00 L234.00,397.81 L234.22,398.64 L234.42,399.49 L234.57,400.32 L234.62,401.10 L234.55,401.84 L234.40,402.55 L234.18,403.24 L233.91,403.89 L233.62,404.50 L233.28,405.06 L232.88,405.56 L232.45,406.04 L232.02,406.51 L231.62,407.00 L231.23,407.56 L230.84,408.16 L230.46,408.74 L230.15,409.24 L229.92,409.60 L229.32,409.60 L229.09,409.24 L228.78,408.74 L228.40,408.16 L228.01,407.56 L227.62,407.00 L227.22,406.51 L226.79,406.04 L226.36,405.56 L225.96,405.06 L225.62,404.50 L225.33,403.89 L225.06,403.24 L224.84,402.55 L224.69,401.84 L224.62,401.10 L224.67,400.32 L224.82,399.49 L225.02,398.64 L225.24,397.81 L225.42,397.00 L225.59,396.26 L225.79,395.57 L225.97,394.88 L226.09,394.14 L226.12,393.30 L226.02,392.32 L225.82,391.23 L225.57,390.10 L225.32,389.00 L225.12,388.00 L224.96,387.13 L224.81,386.35 L224.69,385.61 L224.62,384.87 L224.62,384.10 L224.72,383.27 L224.89,382.40 L225.11,381.53 L225.36,380.72 L225.62,380.00 L225.88,379.39 L226.16,378.86 L226.46,378.38 L226.78,377.94 L227.12,377.50 L227.52,377.05 L227.98,376.61 L228.44,376.19 L228.84,375.85 L229.12,375.60Z" fill="url(#g43)"/>
<path d="M241.68,382.70 L241.91,383.15 L242.23,383.77 L242.61,384.51 L243.01,385.27 L243.38,386.00 L243.74,386.68 L244.12,387.37 L244.50,388.07 L244.86,388.78 L245.18,389.50 L245.49,390.25 L245.78,391.03 L246.05,391.81 L246.26,392.57 L246.38,393.30 L246.41,393.98 L246.37,394.63 L246.27,395.26 L246.10,395.88 L245.88,396.50 L245.58,397.11 L245.20,397.71 L244.77,398.31 L244.32,398.90 L243.88,399.50 L243.42,400.15 L242.91,400.84 L242.41,401.52 L241.98,402.09 L241.68,402.50 L241.08,402.50 L240.78,402.09 L240.35,401.52 L239.85,400.84 L239.34,400.15 L238.88,399.50 L238.44,398.90 L237.99,398.31 L237.56,397.71 L237.18,397.11 L236.88,396.50 L236.66,395.88 L236.49,395.26 L236.39,394.63 L236.35,393.98 L236.38,393.30 L236.50,392.57 L236.71,391.81 L236.98,391.03 L237.27,390.25 L237.58,389.50 L237.90,388.78 L238.26,388.07 L238.64,387.37 L239.02,386.68 L239.38,386.00 L239.75,385.27 L240.15,384.51 L240.53,383.77 L240.85,383.15 L241.08,382.70Z" fill="url(#g44)"/>
<path d="M253.44,369.90 L253.60,370.32 L253.83,370.92 L254.10,371.62 L254.37,372.34 L254.64,373.00 L254.89,373.61 L255.14,374.21 L255.40,374.80 L255.67,375.40 L255.94,376.00 L256.24,376.61 L256.56,377.23 L256.89,377.85 L257.19,378.44 L257.44,379.00 L257.66,379.50 L257.85,379.95 L258.01,380.38 L258.11,380.83 L258.14,381.30 L258.09,381.81 L257.97,382.34 L257.80,382.88 L257.58,383.43 L257.34,384.00 L257.05,384.58 L256.70,385.18 L256.33,385.79 L255.96,386.40 L255.64,387.00 L255.35,387.61 L255.08,388.22 L254.83,388.83 L254.61,389.43 L254.44,390.00 L254.33,390.53 L254.27,391.03 L254.25,391.51 L254.21,392.03 L254.14,392.60 L254.01,393.30 L253.86,394.10 L253.69,394.91 L253.54,395.61 L253.44,396.10 L252.84,396.10 L252.74,395.61 L252.59,394.91 L252.42,394.10 L252.27,393.30 L252.14,392.60 L252.07,392.03 L252.03,391.51 L252.01,391.03 L251.95,390.53 L251.84,390.00 L251.67,389.43 L251.45,388.83 L251.20,388.22 L250.93,387.61 L250.64,387.00 L250.32,386.40 L249.95,385.79 L249.58,385.18 L249.23,384.58 L248.94,384.00 L248.70,383.43 L248.48,382.88 L248.31,382.34 L248.19,381.81 L248.14,381.30 L248.17,380.83 L248.27,380.38 L248.43,379.95 L248.62,379.50 L248.84,379.00 L249.09,378.44 L249.39,377.85 L249.72,377.23 L250.04,376.61 L250.34,376.00 L250.61,375.40 L250.88,374.80 L251.14,374.21 L251.39,373.61 L251.64,373.00 L251.91,372.34 L252.18,371.62 L252.45,370.92 L252.68,370.32 L252.84,369.90Z" fill="url(#g45)"/>
<text x="303.40" y="368.50" font-size="8.4" text-anchor="middle" fill="#2b2b2b" stroke="#2b2b2b" font-weight="normal" textLength="49.2" lengthAdjust="spacingAndGlyphs">NFKB_genes</text>
<line x1="288.60" y1="376.60" x2="288.60" y2="418.50" stroke="#2a2a2a" stroke-width="1.2"/>
<line x1="285.80" y1="380.20" x2="288.60" y2="380.20" stroke="#2a2a2a" stroke-width="1.2"/>
<text x="283.50" y="383.60" font-size="6.7" text-anchor="end" fill="#2b2b2b" stroke="#2b2b2b" font-weight="normal" textLength="12.65" lengthAdjust="spacingAndGlyphs">1.00</text>
<line x1="285.80" y1="388.30" x2="288.60" y2="388.30" stroke="#2a2a2a" stroke-width="1.2"/>
<text x="283.50" y="391.70" font-size="6.7" text-anchor="end" fill="#2b2b2b" stroke="#2b2b2b" font-weight="normal" textLength="12.65" lengthAdjust="spacingAndGlyphs">0.75</text>
<line x1="285.80" y1="396.40" x2="288.60" y2="396.40" stroke="#2a2a2a" stroke-width="1.2"/>
<text x="283.50" y="399.80" font-size="6.7" text-anchor="end" fill="#2b2b2b" stroke="#2b2b2b" font-weight="normal" textLength="12.65" lengthAdjust="spacingAndGlyphs">0.50</text>
<line x1="285.80" y1="404.40" x2="288.60" y2="404.40" stroke="#2a2a2a" stroke-width="1.2"/>
<text x="283.50" y="407.80" font-size="6.7" text-anchor="end" fill="#2b2b2b" stroke="#2b2b2b" font-weight="normal" textLength="12.65" lengthAdjust="spacingAndGlyphs">0.25</text>
<line x1="285.80" y1="412.00" x2="288.60" y2="412.00" stroke="#2a2a2a" stroke-width="1.2"/>
<text x="283.50" y="415.40" font-size="6.7" text-anchor="end" fill="#2b2b2b" stroke="#2b2b2b" font-weight="normal" textLength="12.65" lengthAdjust="spacingAndGlyphs">0.00</text>
<line x1="288.00" y1="418.50" x2="317.90" y2="418.50" stroke="#2a2a2a" stroke-width="1.2"/>
<line x1="297.80" y1="418.50" x2="297.80" y2="421.30" stroke="#2a2a2a" stroke-width="1.2"/>
<line x1="312.20" y1="418.50" x2="312.20" y2="421.30" stroke="#2a2a2a" stroke-width="1.2"/>
<path d="M297.60,381.40 L297.77,381.90 L298.02,382.61 L298.30,383.43 L298.61,384.26 L298.90,385.00 L299.18,385.62 L299.46,386.20 L299.75,386.76 L300.06,387.35 L300.40,388.00 L300.78,388.74 L301.20,389.54 L301.63,390.37 L302.04,391.20 L302.40,392.00 L302.75,392.77 L303.10,393.52 L303.40,394.26 L303.62,394.99 L303.70,395.70 L303.62,396.39 L303.40,397.06 L303.10,397.72 L302.75,398.37 L302.40,399.00 L302.03,399.62 L301.60,400.22 L301.16,400.81 L300.75,401.40 L300.40,402.00 L300.14,402.57 L299.93,403.10 L299.75,403.66 L299.58,404.27 L299.40,405.00 L299.20,405.85 L298.99,406.80 L298.79,407.82 L298.59,408.90 L298.40,410.00 L298.21,411.25 L298.03,412.65 L297.85,414.05 L297.71,415.25 L297.60,416.10 L297.20,416.10 L297.09,415.25 L296.95,414.05 L296.77,412.65 L296.59,411.25 L296.40,410.00 L296.21,408.90 L296.01,407.82 L295.81,406.80 L295.60,405.85 L295.40,405.00 L295.22,404.27 L295.05,403.66 L294.87,403.10 L294.66,402.57 L294.40,402.00 L294.05,401.40 L293.64,400.81 L293.20,400.22 L292.77,399.62 L292.40,399.00 L292.05,398.37 L291.70,397.72 L291.40,397.06 L291.18,396.39 L291.10,395.70 L291.18,394.99 L291.40,394.26 L291.70,393.52 L292.05,392.77 L292.40,392.00 L292.76,391.20 L293.17,390.37 L293.60,389.54 L294.02,388.74 L294.40,388.00 L294.74,387.35 L295.05,386.76 L295.34,386.20 L295.62,385.62 L295.90,385.00 L296.19,384.26 L296.50,383.43 L296.78,382.61 L297.03,381.90 L297.20,381.40Z" fill="url(#g46)" fill-opacity="1.0"/>
<path d="M310.30,399.30 L310.52,399.66 L310.81,400.16 L311.17,400.75 L311.60,401.38 L312.10,402.00 L312.78,402.63 L313.64,403.31 L314.51,403.99 L315.22,404.67 L315.60,405.30 L315.57,405.88 L315.26,406.42 L314.76,406.95 L314.17,407.47 L313.60,408.00 L312.97,408.58 L312.22,409.21 L311.44,409.81 L310.77,410.33 L310.30,410.70 L309.90,410.70 L309.43,410.33 L308.76,409.81 L307.98,409.21 L307.23,408.58 L306.60,408.00 L306.03,407.47 L305.44,406.95 L304.94,406.42 L304.63,405.88 L304.60,405.30 L304.98,404.67 L305.69,403.99 L306.56,403.31 L307.42,402.63 L308.10,402.00 L308.60,401.38 L309.03,400.75 L309.39,400.16 L309.68,399.66 L309.90,399.30Z" fill="url(#g47)" fill-opacity="1.0"/>
<text transform="translate(300.20,427.80) rotate(-45)" font-size="6.35" text-anchor="end" fill="#2b2b2b" stroke="#2b2b2b">VEN-relapse</text>
<text transform="translate(314.60,427.80) rotate(-45)" font-size="6.35" text-anchor="end" fill="#2b2b2b" stroke="#2b2b2b">VEN-relapse</text>
<text transform="translate(320.00,431.50) rotate(-45)" font-size="6.35" text-anchor="end" fill="#2b2b2b" stroke="#2b2b2b">now on BTKi</text>
<text x="345.70" y="368.50" font-size="8.4" text-anchor="middle" fill="#2b2b2b" stroke="#2b2b2b" font-weight="normal" textLength="22.5" lengthAdjust="spacingAndGlyphs">MCL1</text>
<line x1="331.40" y1="376.60" x2="331.40" y2="418.50" stroke="#2a2a2a" stroke-width="1.2"/>
<line x1="328.60" y1="392.20" x2="331.40" y2="392.20" stroke="#2a2a2a" stroke-width="1.2"/>
<text x="326.30" y="395.60" font-size="6.7" text-anchor="end" fill="#2b2b2b" stroke="#2b2b2b" font-weight="normal" textLength="3.61" lengthAdjust="spacingAndGlyphs">4</text>
<line x1="328.60" y1="403.30" x2="331.40" y2="403.30" stroke="#2a2a2a" stroke-width="1.2"/>
<text x="326.30" y="406.70" font-size="6.7" text-anchor="end" fill="#2b2b2b" stroke="#2b2b2b" font-weight="normal" textLength="3.61" lengthAdjust="spacingAndGlyphs">2</text>
<line x1="328.60" y1="414.60" x2="331.40" y2="414.60" stroke="#2a2a2a" stroke-width="1.2"/>
<text x="326.30" y="418.00" font-size="6.7" text-anchor="end" fill="#2b2b2b" stroke="#2b2b2b" font-weight="normal" textLength="3.61" lengthAdjust="spacingAndGlyphs">0</text>
<line x1="330.80" y1="418.50" x2="360.10" y2="418.50" stroke="#2a2a2a" stroke-width="1.2"/>
<line x1="340.40" y1="418.50" x2="340.40" y2="421.30" stroke="#2a2a2a" stroke-width="1.2"/>
<line x1="357.10" y1="418.50" x2="357.10" y2="421.30" stroke="#2a2a2a" stroke-width="1.2"/>
<path d="M341.80,380.80 L341.89,381.36 L342.02,382.14 L342.16,383.06 L342.30,384.04 L342.40,385.00 L342.44,385.95 L342.42,386.94 L342.41,387.95 L342.45,388.98 L342.60,390.00 L342.88,391.02 L343.25,392.04 L343.68,393.07 L344.14,394.09 L344.60,395.10 L345.08,396.09 L345.59,397.06 L346.11,398.02 L346.62,399.00 L347.10,400.00 L347.61,401.06 L348.18,402.17 L348.68,403.28 L349.03,404.34 L349.10,405.30 L348.81,406.15 L348.24,406.93 L347.50,407.65 L346.75,408.33 L346.10,409.00 L345.54,409.66 L344.99,410.29 L344.47,410.89 L344.00,411.46 L343.60,412.00 L343.29,412.53 L343.04,413.04 L342.86,413.52 L342.71,413.91 L342.60,414.20 L340.60,414.20 L340.49,413.91 L340.34,413.52 L340.16,413.04 L339.91,412.53 L339.60,412.00 L339.20,411.46 L338.73,410.89 L338.21,410.29 L337.66,409.66 L337.10,409.00 L336.45,408.33 L335.70,407.65 L334.96,406.93 L334.39,406.15 L334.10,405.30 L334.17,404.34 L334.52,403.28 L335.02,402.17 L335.59,401.06 L336.10,400.00 L336.58,399.00 L337.09,398.02 L337.61,397.06 L338.12,396.09 L338.60,395.10 L339.06,394.09 L339.52,393.07 L339.95,392.04 L340.32,391.02 L340.60,390.00 L340.75,388.98 L340.79,387.95 L340.78,386.94 L340.76,385.95 L340.80,385.00 L340.90,384.04 L341.04,383.06 L341.18,382.14 L341.31,381.36 L341.40,380.80Z" fill="url(#g48)" fill-opacity="1.0"/>
<path d="M340.80,414.00 L342.40,414.00 L343.94,415.04 L346.80,415.95 L346.40,416.30 L336.80,416.30 L336.40,415.95 L339.26,415.04Z" fill="#d5112f" fill-opacity="1.0"/>
<path d="M358.50,383.80 L358.60,384.37 L358.73,385.19 L358.89,386.13 L359.05,387.11 L359.20,388.00 L359.34,388.81 L359.48,389.61 L359.61,390.41 L359.75,391.20 L359.90,392.00 L360.05,392.79 L360.21,393.58 L360.37,394.36 L360.53,395.17 L360.70,396.00 L360.88,396.87 L361.07,397.76 L361.26,398.68 L361.44,399.59 L361.60,400.50 L361.73,401.41 L361.84,402.32 L361.94,403.24 L362.03,404.13 L362.10,405.00 L362.19,405.86 L362.28,406.73 L362.36,407.57 L362.37,408.34 L362.30,409.00 L362.11,409.54 L361.82,409.97 L361.48,410.33 L361.13,410.66 L360.80,411.00 L360.48,411.33 L360.13,411.63 L359.80,411.91 L359.51,412.20 L359.30,412.50 L359.19,412.85 L359.15,413.25 L359.17,413.63 L359.19,413.97 L359.20,414.20 L357.40,414.20 L357.41,413.97 L357.43,413.63 L357.45,413.25 L357.41,412.85 L357.30,412.50 L357.09,412.20 L356.80,411.91 L356.47,411.63 L356.12,411.33 L355.80,411.00 L355.47,410.66 L355.12,410.33 L354.78,409.97 L354.49,409.54 L354.30,409.00 L354.23,408.34 L354.24,407.57 L354.32,406.73 L354.41,405.86 L354.50,405.00 L354.57,404.13 L354.66,403.24 L354.76,402.32 L354.87,401.41 L355.00,400.50 L355.16,399.59 L355.34,398.68 L355.53,397.76 L355.72,396.87 L355.90,396.00 L356.07,395.17 L356.23,394.36 L356.39,393.58 L356.55,392.79 L356.70,392.00 L356.85,391.20 L356.99,390.41 L357.12,389.61 L357.26,388.81 L357.40,388.00 L357.55,387.11 L357.71,386.13 L357.87,385.19 L358.00,384.37 L358.10,383.80Z" fill="url(#g49)" fill-opacity="0.9"/>
<path d="M357.50,414.00 L359.10,414.00 L361.13,415.04 L364.60,415.95 L364.20,416.30 L352.40,416.30 L352.00,415.95 L355.47,415.04Z" fill="#f7b51c" fill-opacity="0.9"/>
<text transform="translate(342.80,427.80) rotate(-45)" font-size="6.35" text-anchor="end" fill="#2b2b2b" stroke="#2b2b2b">VEN-relapse</text>
<text transform="translate(359.50,427.80) rotate(-45)" font-size="6.35" text-anchor="end" fill="#2b2b2b" stroke="#2b2b2b">VEN-relapse</text>
<text transform="translate(364.90,431.50) rotate(-45)" font-size="6.35" text-anchor="end" fill="#2b2b2b" stroke="#2b2b2b">now on BTKi</text>
<text x="396.50" y="368.70" font-size="8.4" text-anchor="middle" fill="#2b2b2b" stroke="#2b2b2b" font-weight="normal" textLength="31.0" lengthAdjust="spacingAndGlyphs">BCL2A1</text>
<line x1="381.60" y1="377.20" x2="381.60" y2="417.80" stroke="#2a2a2a" stroke-width="1.2"/>
<line x1="378.80" y1="383.70" x2="381.60" y2="383.70" stroke="#2a2a2a" stroke-width="1.2"/>
<text x="376.50" y="387.10" font-size="6.7" text-anchor="end" fill="#2b2b2b" stroke="#2b2b2b" font-weight="normal" textLength="3.61" lengthAdjust="spacingAndGlyphs">5</text>
<line x1="378.80" y1="390.30" x2="381.60" y2="390.30" stroke="#2a2a2a" stroke-width="1.2"/>
<text x="376.50" y="393.70" font-size="6.7" text-anchor="end" fill="#2b2b2b" stroke="#2b2b2b" font-weight="normal" textLength="3.61" lengthAdjust="spacingAndGlyphs">4</text>
<line x1="378.80" y1="396.90" x2="381.60" y2="396.90" stroke="#2a2a2a" stroke-width="1.2"/>
<text x="376.50" y="400.30" font-size="6.7" text-anchor="end" fill="#2b2b2b" stroke="#2b2b2b" font-weight="normal" textLength="3.61" lengthAdjust="spacingAndGlyphs">3</text>
<line x1="378.80" y1="403.40" x2="381.60" y2="403.40" stroke="#2a2a2a" stroke-width="1.2"/>
<text x="376.50" y="406.80" font-size="6.7" text-anchor="end" fill="#2b2b2b" stroke="#2b2b2b" font-weight="normal" textLength="3.61" lengthAdjust="spacingAndGlyphs">2</text>
<line x1="378.80" y1="409.80" x2="381.60" y2="409.80" stroke="#2a2a2a" stroke-width="1.2"/>
<text x="376.50" y="413.20" font-size="6.7" text-anchor="end" fill="#2b2b2b" stroke="#2b2b2b" font-weight="normal" textLength="3.61" lengthAdjust="spacingAndGlyphs">1</text>
<line x1="378.80" y1="416.40" x2="381.60" y2="416.40" stroke="#2a2a2a" stroke-width="1.2"/>
<text x="376.50" y="419.80" font-size="6.7" text-anchor="end" fill="#2b2b2b" stroke="#2b2b2b" font-weight="normal" textLength="3.61" lengthAdjust="spacingAndGlyphs">0</text>
<line x1="381.00" y1="417.80" x2="410.60" y2="417.80" stroke="#2a2a2a" stroke-width="1.2"/>
<line x1="390.30" y1="417.80" x2="390.30" y2="420.60" stroke="#2a2a2a" stroke-width="1.2"/>
<line x1="404.70" y1="417.80" x2="404.70" y2="420.60" stroke="#2a2a2a" stroke-width="1.2"/>
<line x1="390.50" y1="384.50" x2="390.50" y2="416.50" stroke="#888" stroke-width="1.0"/>
<line x1="405.10" y1="384.50" x2="405.10" y2="416.50" stroke="#888" stroke-width="1.0"/>
<line x1="384.50" y1="416.20" x2="397.00" y2="416.20" stroke="#999" stroke-width="0.8"/>
<line x1="399.00" y1="416.20" x2="411.20" y2="416.20" stroke="#999" stroke-width="0.8"/>
<rect x="385.0" y="403.5" width="11.4" height="11.0" fill="#222" fill-opacity="0.92"/>
<path d="M387.1 399.4h0.9v0.9h-0.9zM388.7 400.0h0.9v0.9h-0.9zM391.8 395.1h0.9v0.9h-0.9zM384.4 402.1h0.9v0.9h-0.9zM387.4 396.7h0.9v0.9h-0.9zM396.2 398.8h0.9v0.9h-0.9zM394.3 398.8h0.9v0.9h-0.9zM391.9 395.9h0.9v0.9h-0.9zM391.9 402.4h0.9v0.9h-0.9zM390.5 401.2h0.9v0.9h-0.9zM392.3 395.1h0.9v0.9h-0.9zM393.3 399.9h0.9v0.9h-0.9zM387.9 394.8h0.9v0.9h-0.9zM394.6 398.8h0.9v0.9h-0.9zM392.9 402.5h0.9v0.9h-0.9zM392.8 402.8h0.9v0.9h-0.9zM389.0 401.8h0.9v0.9h-0.9zM389.6 403.0h0.9v0.9h-0.9zM394.8 395.4h0.9v0.9h-0.9zM385.9 396.5h0.9v0.9h-0.9zM395.8 398.5h0.9v0.9h-0.9zM391.8 397.3h0.9v0.9h-0.9zM390.3 398.0h0.9v0.9h-0.9zM388.5 399.8h0.9v0.9h-0.9zM391.3 402.7h0.9v0.9h-0.9zM392.4 402.9h0.9v0.9h-0.9zM394.5 403.5h0.9v0.9h-0.9zM392.3 396.0h0.9v0.9h-0.9zM394.6 403.2h0.9v0.9h-0.9zM395.1 399.7h0.9v0.9h-0.9zM392.8 396.5h0.9v0.9h-0.9zM394.2 399.7h0.9v0.9h-0.9zM387.7 395.1h0.9v0.9h-0.9zM394.5 403.5h0.9v0.9h-0.9zM385.3 401.8h0.9v0.9h-0.9zM389.2 395.9h0.9v0.9h-0.9zM387.8 401.5h0.9v0.9h-0.9zM394.7 394.9h0.9v0.9h-0.9zM391.6 395.0h0.9v0.9h-0.9zM392.9 397.5h0.9v0.9h-0.9zM394.8 403.4h0.9v0.9h-0.9zM390.3 403.5h0.9v0.9h-0.9zM388.0 395.2h0.9v0.9h-0.9zM391.4 394.8h0.9v0.9h-0.9zM386.6 398.2h0.9v0.9h-0.9zM391.6 396.0h0.9v0.9h-0.9zM384.8 402.4h0.9v0.9h-0.9zM388.0 403.2h0.9v0.9h-0.9zM395.0 398.0h0.9v0.9h-0.9zM389.8 399.2h0.9v0.9h-0.9zM392.0 399.9h0.9v0.9h-0.9zM391.0 400.1h0.9v0.9h-0.9zM395.5 399.1h0.9v0.9h-0.9zM389.4 401.0h0.9v0.9h-0.9zM387.1 397.3h0.9v0.9h-0.9zM396.0 399.2h0.9v0.9h-0.9zM390.8 394.7h0.9v0.9h-0.9zM389.2 399.8h0.9v0.9h-0.9zM384.5 400.1h0.9v0.9h-0.9zM391.8 395.1h0.9v0.9h-0.9zM391.8 398.7h0.9v0.9h-0.9zM392.4 397.7h0.9v0.9h-0.9zM392.7 401.2h0.9v0.9h-0.9zM384.5 395.1h0.9v0.9h-0.9zM392.4 403.2h0.9v0.9h-0.9zM387.3 398.7h0.9v0.9h-0.9zM391.4 397.4h0.9v0.9h-0.9zM388.6 397.4h0.9v0.9h-0.9zM388.7 399.9h0.9v0.9h-0.9zM387.9 397.9h0.9v0.9h-0.9zM393.5 394.8h0.9v0.9h-0.9zM391.1 401.2h0.9v0.9h-0.9zM388.0 396.6h0.9v0.9h-0.9zM393.9 396.7h0.9v0.9h-0.9zM386.5 398.5h0.9v0.9h-0.9zM392.6 395.5h0.9v0.9h-0.9zM388.1 397.6h0.9v0.9h-0.9zM394.3 398.5h0.9v0.9h-0.9zM394.5 396.1h0.9v0.9h-0.9zM388.3 400.4h0.9v0.9h-0.9zM394.9 398.6h0.9v0.9h-0.9zM387.0 395.6h0.9v0.9h-0.9zM390.6 396.3h0.9v0.9h-0.9zM393.9 402.1h0.9v0.9h-0.9zM386.5 397.1h0.9v0.9h-0.9zM393.9 400.3h0.9v0.9h-0.9zM393.9 397.7h0.9v0.9h-0.9zM385.8 397.2h0.9v0.9h-0.9zM393.8 397.0h0.9v0.9h-0.9zM388.4 398.3h0.9v0.9h-0.9zM389.3 398.2h0.9v0.9h-0.9zM395.3 396.0h0.9v0.9h-0.9zM384.3 403.0h0.9v0.9h-0.9zM394.8 403.4h0.9v0.9h-0.9zM389.5 403.1h0.9v0.9h-0.9zM395.4 396.5h0.9v0.9h-0.9zM393.2 402.1h0.9v0.9h-0.9zM392.2 399.2h0.9v0.9h-0.9zM387.7 397.6h0.9v0.9h-0.9zM387.0 395.2h0.9v0.9h-0.9zM391.3 397.1h0.9v0.9h-0.9zM394.0 395.0h0.9v0.9h-0.9zM395.1 400.8h0.9v0.9h-0.9zM395.3 402.6h0.9v0.9h-0.9zM395.0 399.7h0.9v0.9h-0.9zM384.4 401.3h0.9v0.9h-0.9zM386.3 397.2h0.9v0.9h-0.9zM392.2 399.3h0.9v0.9h-0.9zM389.2 403.0h0.9v0.9h-0.9zM391.6 397.6h0.9v0.9h-0.9zM387.3 402.3h0.9v0.9h-0.9zM390.0 401.6h0.9v0.9h-0.9zM388.5 396.3h0.9v0.9h-0.9zM390.7 401.9h0.9v0.9h-0.9zM386.3 401.7h0.9v0.9h-0.9zM395.3 401.8h0.9v0.9h-0.9zM394.1 394.6h0.9v0.9h-0.9zM391.8 402.3h0.9v0.9h-0.9zM384.8 397.0h0.9v0.9h-0.9zM387.5 399.3h0.9v0.9h-0.9zM389.3 398.8h0.9v0.9h-0.9zM393.6 394.6h0.9v0.9h-0.9zM384.9 395.7h0.9v0.9h-0.9zM385.7 395.2h0.9v0.9h-0.9zM395.9 402.2h0.9v0.9h-0.9zM385.3 399.1h0.9v0.9h-0.9zM388.0 397.4h0.9v0.9h-0.9zM388.5 400.4h0.9v0.9h-0.9zM391.3 397.8h0.9v0.9h-0.9zM386.5 397.5h0.9v0.9h-0.9zM385.7 399.5h0.9v0.9h-0.9zM392.8 398.0h0.9v0.9h-0.9zM385.2 396.2h0.9v0.9h-0.9zM388.7 400.0h0.9v0.9h-0.9zM393.6 398.0h0.9v0.9h-0.9zM393.9 400.2h0.9v0.9h-0.9zM389.4 397.9h0.9v0.9h-0.9zM390.2 400.9h0.9v0.9h-0.9zM389.3 400.8h0.9v0.9h-0.9zM389.8 396.8h0.9v0.9h-0.9zM390.7 400.8h0.9v0.9h-0.9zM385.1 398.4h0.9v0.9h-0.9zM389.4 402.5h0.9v0.9h-0.9zM395.5 397.9h0.9v0.9h-0.9zM395.0 401.7h0.9v0.9h-0.9zM387.4 398.7h0.9v0.9h-0.9zM385.7 401.9h0.9v0.9h-0.9zM392.2 402.5h0.9v0.9h-0.9zM393.8 400.6h0.9v0.9h-0.9zM393.1 399.6h0.9v0.9h-0.9zM385.5 399.8h0.9v0.9h-0.9zM384.3 395.8h0.9v0.9h-0.9zM393.5 394.9h0.9v0.9h-0.9zM385.4 395.4h0.9v0.9h-0.9zM394.8 396.2h0.9v0.9h-0.9zM384.5 402.1h0.9v0.9h-0.9zM385.7 402.1h0.9v0.9h-0.9zM392.3 402.1h0.9v0.9h-0.9zM395.7 399.8h0.9v0.9h-0.9zM393.8 394.9h0.9v0.9h-0.9z" fill="#333" fill-opacity="0.6"/>
<path d="M393.5 401.7h0.9v0.9h-0.9zM385.5 407.6h0.9v0.9h-0.9zM393.2 409.4h0.9v0.9h-0.9zM388.1 407.5h0.9v0.9h-0.9zM391.0 409.5h0.9v0.9h-0.9zM386.4 405.4h0.9v0.9h-0.9zM387.2 403.1h0.9v0.9h-0.9zM389.0 403.6h0.9v0.9h-0.9zM388.7 405.1h0.9v0.9h-0.9zM389.3 410.3h0.9v0.9h-0.9zM385.2 397.3h0.9v0.9h-0.9zM389.2 408.0h0.9v0.9h-0.9zM393.2 411.3h0.9v0.9h-0.9zM393.3 413.2h0.9v0.9h-0.9zM392.3 403.5h0.9v0.9h-0.9zM392.0 407.6h0.9v0.9h-0.9zM395.0 409.1h0.9v0.9h-0.9zM393.2 409.5h0.9v0.9h-0.9zM395.2 403.7h0.9v0.9h-0.9zM392.9 407.6h0.9v0.9h-0.9zM386.5 407.8h0.9v0.9h-0.9zM391.3 410.7h0.9v0.9h-0.9zM388.0 408.7h0.9v0.9h-0.9zM395.7 414.1h0.9v0.9h-0.9zM387.8 406.9h0.9v0.9h-0.9zM394.5 404.1h0.9v0.9h-0.9zM391.3 407.7h0.9v0.9h-0.9zM384.5 410.8h0.9v0.9h-0.9zM390.0 406.2h0.9v0.9h-0.9zM388.6 409.7h0.9v0.9h-0.9zM388.1 408.4h0.9v0.9h-0.9zM396.1 405.8h0.9v0.9h-0.9zM390.0 404.4h0.9v0.9h-0.9zM394.3 405.4h0.9v0.9h-0.9zM394.1 403.8h0.9v0.9h-0.9zM392.9 406.4h0.9v0.9h-0.9zM394.5 402.8h0.9v0.9h-0.9zM395.8 411.9h0.9v0.9h-0.9zM389.9 408.4h0.9v0.9h-0.9zM392.9 411.0h0.9v0.9h-0.9zM387.2 406.0h0.9v0.9h-0.9zM386.5 407.9h0.9v0.9h-0.9zM392.7 410.6h0.9v0.9h-0.9zM394.6 410.5h0.9v0.9h-0.9zM394.6 406.2h0.9v0.9h-0.9zM388.0 402.3h0.9v0.9h-0.9zM385.3 411.0h0.9v0.9h-0.9zM385.4 409.7h0.9v0.9h-0.9zM388.5 405.2h0.9v0.9h-0.9zM391.2 407.8h0.9v0.9h-0.9zM388.3 407.6h0.9v0.9h-0.9zM389.5 405.3h0.9v0.9h-0.9zM391.3 408.3h0.9v0.9h-0.9zM395.7 404.2h0.9v0.9h-0.9zM385.7 411.2h0.9v0.9h-0.9zM387.5 407.1h0.9v0.9h-0.9zM394.9 406.4h0.9v0.9h-0.9zM388.7 413.5h0.9v0.9h-0.9zM393.5 408.2h0.9v0.9h-0.9zM392.4 404.7h0.9v0.9h-0.9zM392.1 409.1h0.9v0.9h-0.9zM393.3 405.1h0.9v0.9h-0.9zM395.8 405.7h0.9v0.9h-0.9zM385.6 403.7h0.9v0.9h-0.9zM390.2 404.2h0.9v0.9h-0.9zM392.4 413.1h0.9v0.9h-0.9zM391.0 410.4h0.9v0.9h-0.9zM391.8 413.3h0.9v0.9h-0.9zM386.4 412.5h0.9v0.9h-0.9zM385.7 404.3h0.9v0.9h-0.9zM395.4 410.3h0.9v0.9h-0.9zM392.9 410.8h0.9v0.9h-0.9zM391.4 402.6h0.9v0.9h-0.9zM389.7 406.1h0.9v0.9h-0.9zM388.0 408.7h0.9v0.9h-0.9zM392.8 409.4h0.9v0.9h-0.9zM393.3 401.7h0.9v0.9h-0.9zM388.6 406.3h0.9v0.9h-0.9zM387.4 402.0h0.9v0.9h-0.9zM384.8 413.5h0.9v0.9h-0.9zM390.3 408.2h0.9v0.9h-0.9zM388.2 403.9h0.9v0.9h-0.9zM393.5 410.9h0.9v0.9h-0.9zM388.5 409.2h0.9v0.9h-0.9zM387.5 406.4h0.9v0.9h-0.9zM385.4 413.3h0.9v0.9h-0.9zM393.0 412.6h0.9v0.9h-0.9zM386.5 409.6h0.9v0.9h-0.9zM393.2 411.9h0.9v0.9h-0.9zM394.0 408.0h0.9v0.9h-0.9zM386.0 402.7h0.9v0.9h-0.9zM389.0 409.7h0.9v0.9h-0.9zM391.1 412.6h0.9v0.9h-0.9zM386.7 408.0h0.9v0.9h-0.9zM388.8 401.9h0.9v0.9h-0.9zM390.9 403.1h0.9v0.9h-0.9zM396.0 405.2h0.9v0.9h-0.9zM392.5 405.6h0.9v0.9h-0.9zM391.5 408.0h0.9v0.9h-0.9zM393.5 407.8h0.9v0.9h-0.9zM392.2 403.2h0.9v0.9h-0.9zM389.8 408.3h0.9v0.9h-0.9zM386.6 407.0h0.9v0.9h-0.9zM390.3 407.8h0.9v0.9h-0.9zM392.0 403.2h0.9v0.9h-0.9zM395.8 409.8h0.9v0.9h-0.9zM395.0 412.7h0.9v0.9h-0.9zM391.7 413.4h0.9v0.9h-0.9zM384.9 406.2h0.9v0.9h-0.9zM385.2 410.3h0.9v0.9h-0.9zM390.7 411.2h0.9v0.9h-0.9zM394.7 406.5h0.9v0.9h-0.9zM392.6 413.3h0.9v0.9h-0.9zM391.5 414.0h0.9v0.9h-0.9zM395.4 406.7h0.9v0.9h-0.9zM388.4 401.6h0.9v0.9h-0.9zM389.5 404.7h0.9v0.9h-0.9zM393.3 406.1h0.9v0.9h-0.9zM384.8 408.2h0.9v0.9h-0.9zM385.2 408.8h0.9v0.9h-0.9zM390.2 410.3h0.9v0.9h-0.9zM392.6 404.0h0.9v0.9h-0.9zM392.0 407.1h0.9v0.9h-0.9zM387.9 401.5h0.9v0.9h-0.9zM389.1 409.5h0.9v0.9h-0.9zM386.4 413.2h0.9v0.9h-0.9zM388.7 404.3h0.9v0.9h-0.9zM388.7 402.8h0.9v0.9h-0.9zM386.9 407.1h0.9v0.9h-0.9zM384.3 409.8h0.9v0.9h-0.9zM389.8 409.0h0.9v0.9h-0.9zM386.3 410.6h0.9v0.9h-0.9zM389.1 408.5h0.9v0.9h-0.9zM385.6 408.9h0.9v0.9h-0.9zM386.3 406.6h0.9v0.9h-0.9zM384.5 408.1h0.9v0.9h-0.9zM389.6 402.8h0.9v0.9h-0.9zM384.9 411.5h0.9v0.9h-0.9zM389.1 407.3h0.9v0.9h-0.9zM395.8 408.6h0.9v0.9h-0.9zM386.9 411.8h0.9v0.9h-0.9zM386.2 410.6h0.9v0.9h-0.9zM391.7 406.9h0.9v0.9h-0.9zM384.9 409.7h0.9v0.9h-0.9zM393.0 406.9h0.9v0.9h-0.9zM395.4 407.1h0.9v0.9h-0.9zM387.4 410.9h0.9v0.9h-0.9zM394.0 405.5h0.9v0.9h-0.9zM385.4 405.4h0.9v0.9h-0.9zM392.4 413.3h0.9v0.9h-0.9zM384.3 407.0h0.9v0.9h-0.9zM384.6 410.1h0.9v0.9h-0.9zM384.7 409.4h0.9v0.9h-0.9zM384.9 403.2h0.9v0.9h-0.9zM386.7 401.0h0.9v0.9h-0.9zM395.9 400.9h0.9v0.9h-0.9zM395.3 409.1h0.9v0.9h-0.9zM395.5 411.4h0.9v0.9h-0.9zM391.5 408.8h0.9v0.9h-0.9zM395.6 410.9h0.9v0.9h-0.9zM394.4 409.8h0.9v0.9h-0.9zM385.6 405.3h0.9v0.9h-0.9zM392.4 410.4h0.9v0.9h-0.9zM395.4 411.0h0.9v0.9h-0.9zM393.1 413.9h0.9v0.9h-0.9zM394.3 399.5h0.9v0.9h-0.9zM388.6 405.1h0.9v0.9h-0.9zM389.2 408.9h0.9v0.9h-0.9zM387.5 411.1h0.9v0.9h-0.9zM391.5 413.6h0.9v0.9h-0.9zM392.8 404.5h0.9v0.9h-0.9zM386.1 411.1h0.9v0.9h-0.9zM392.8 412.5h0.9v0.9h-0.9zM393.4 408.7h0.9v0.9h-0.9zM392.4 410.5h0.9v0.9h-0.9zM394.4 409.7h0.9v0.9h-0.9zM392.0 413.9h0.9v0.9h-0.9zM389.6 402.4h0.9v0.9h-0.9zM395.0 407.7h0.9v0.9h-0.9zM388.7 404.5h0.9v0.9h-0.9zM385.1 400.0h0.9v0.9h-0.9zM385.5 414.0h0.9v0.9h-0.9zM391.1 409.3h0.9v0.9h-0.9zM392.0 409.1h0.9v0.9h-0.9zM387.1 410.2h0.9v0.9h-0.9zM392.0 408.7h0.9v0.9h-0.9zM391.3 410.9h0.9v0.9h-0.9zM395.9 408.3h0.9v0.9h-0.9zM386.9 404.2h0.9v0.9h-0.9zM393.6 406.5h0.9v0.9h-0.9zM391.5 409.2h0.9v0.9h-0.9zM386.5 403.2h0.9v0.9h-0.9zM386.4 414.6h0.9v0.9h-0.9zM385.6 411.6h0.9v0.9h-0.9zM384.5 410.7h0.9v0.9h-0.9zM395.0 407.5h0.9v0.9h-0.9zM385.3 405.3h0.9v0.9h-0.9zM394.2 408.7h0.9v0.9h-0.9zM391.6 403.8h0.9v0.9h-0.9zM394.7 402.8h0.9v0.9h-0.9zM388.4 404.6h0.9v0.9h-0.9zM385.6 405.4h0.9v0.9h-0.9zM394.3 402.0h0.9v0.9h-0.9zM386.7 403.9h0.9v0.9h-0.9zM390.7 401.8h0.9v0.9h-0.9zM385.2 409.5h0.9v0.9h-0.9zM388.4 406.5h0.9v0.9h-0.9zM390.9 408.2h0.9v0.9h-0.9zM393.1 402.9h0.9v0.9h-0.9zM391.5 410.7h0.9v0.9h-0.9zM386.8 400.2h0.9v0.9h-0.9zM389.4 410.5h0.9v0.9h-0.9zM386.2 409.5h0.9v0.9h-0.9zM395.4 406.8h0.9v0.9h-0.9zM396.1 400.0h0.9v0.9h-0.9zM391.6 412.6h0.9v0.9h-0.9zM389.3 406.0h0.9v0.9h-0.9zM390.1 402.5h0.9v0.9h-0.9zM393.5 396.6h0.9v0.9h-0.9zM387.8 410.4h0.9v0.9h-0.9zM385.4 407.0h0.9v0.9h-0.9zM392.9 406.7h0.9v0.9h-0.9zM391.9 412.7h0.9v0.9h-0.9zM384.7 408.0h0.9v0.9h-0.9zM389.4 404.8h0.9v0.9h-0.9zM388.4 407.7h0.9v0.9h-0.9zM387.7 401.4h0.9v0.9h-0.9zM385.5 406.8h0.9v0.9h-0.9zM385.2 412.0h0.9v0.9h-0.9zM386.1 408.5h0.9v0.9h-0.9zM396.0 401.9h0.9v0.9h-0.9zM396.0 410.8h0.9v0.9h-0.9zM386.2 405.3h0.9v0.9h-0.9zM388.0 403.3h0.9v0.9h-0.9zM390.8 409.2h0.9v0.9h-0.9zM388.6 410.0h0.9v0.9h-0.9zM389.8 405.4h0.9v0.9h-0.9zM394.9 409.2h0.9v0.9h-0.9zM387.2 404.9h0.9v0.9h-0.9zM393.9 410.2h0.9v0.9h-0.9zM390.6 408.2h0.9v0.9h-0.9zM390.7 408.7h0.9v0.9h-0.9zM386.7 409.2h0.9v0.9h-0.9zM393.5 397.2h0.9v0.9h-0.9zM393.7 410.4h0.9v0.9h-0.9zM396.0 410.5h0.9v0.9h-0.9zM384.4 408.6h0.9v0.9h-0.9zM389.4 407.4h0.9v0.9h-0.9zM390.8 409.2h0.9v0.9h-0.9zM385.4 406.9h0.9v0.9h-0.9zM393.9 410.8h0.9v0.9h-0.9zM389.3 408.0h0.9v0.9h-0.9zM389.4 409.2h0.9v0.9h-0.9zM391.8 404.1h0.9v0.9h-0.9zM394.0 400.2h0.9v0.9h-0.9zM387.2 412.5h0.9v0.9h-0.9zM393.7 413.1h0.9v0.9h-0.9zM390.4 410.5h0.9v0.9h-0.9zM387.6 403.6h0.9v0.9h-0.9zM386.3 413.8h0.9v0.9h-0.9zM395.0 408.7h0.9v0.9h-0.9zM395.1 402.3h0.9v0.9h-0.9zM395.4 409.3h0.9v0.9h-0.9zM394.0 404.7h0.9v0.9h-0.9zM390.5 405.6h0.9v0.9h-0.9zM386.3 410.5h0.9v0.9h-0.9zM396.2 413.6h0.9v0.9h-0.9zM390.8 404.9h0.9v0.9h-0.9zM389.7 410.1h0.9v0.9h-0.9zM393.9 398.4h0.9v0.9h-0.9zM386.1 411.0h0.9v0.9h-0.9zM388.0 404.0h0.9v0.9h-0.9zM394.5 407.5h0.9v0.9h-0.9zM394.2 413.1h0.9v0.9h-0.9zM384.6 405.7h0.9v0.9h-0.9zM391.1 403.6h0.9v0.9h-0.9zM387.6 406.6h0.9v0.9h-0.9zM392.8 409.6h0.9v0.9h-0.9zM392.3 407.1h0.9v0.9h-0.9zM388.7 399.6h0.9v0.9h-0.9zM395.8 407.3h0.9v0.9h-0.9zM392.0 411.1h0.9v0.9h-0.9zM388.8 409.7h0.9v0.9h-0.9zM387.5 405.0h0.9v0.9h-0.9zM395.6 411.3h0.9v0.9h-0.9zM389.0 406.8h0.9v0.9h-0.9zM387.6 410.1h0.9v0.9h-0.9zM396.0 410.3h0.9v0.9h-0.9zM385.2 408.4h0.9v0.9h-0.9zM385.2 410.7h0.9v0.9h-0.9zM390.6 407.7h0.9v0.9h-0.9zM391.8 400.4h0.9v0.9h-0.9zM394.1 411.3h0.9v0.9h-0.9zM395.8 408.2h0.9v0.9h-0.9zM385.1 407.5h0.9v0.9h-0.9zM387.5 412.6h0.9v0.9h-0.9zM390.8 410.9h0.9v0.9h-0.9zM395.7 408.9h0.9v0.9h-0.9zM386.0 410.1h0.9v0.9h-0.9zM396.2 406.6h0.9v0.9h-0.9zM392.3 406.7h0.9v0.9h-0.9zM384.9 406.3h0.9v0.9h-0.9zM393.4 409.2h0.9v0.9h-0.9zM394.1 410.4h0.9v0.9h-0.9zM390.7 411.1h0.9v0.9h-0.9zM388.8 411.2h0.9v0.9h-0.9zM396.1 410.5h0.9v0.9h-0.9zM387.6 409.6h0.9v0.9h-0.9zM385.8 409.7h0.9v0.9h-0.9zM388.5 409.4h0.9v0.9h-0.9zM386.6 407.2h0.9v0.9h-0.9zM387.2 407.8h0.9v0.9h-0.9zM388.5 412.4h0.9v0.9h-0.9zM392.7 406.6h0.9v0.9h-0.9zM388.0 411.7h0.9v0.9h-0.9zM393.2 408.5h0.9v0.9h-0.9zM393.6 404.0h0.9v0.9h-0.9zM390.7 406.2h0.9v0.9h-0.9zM389.6 400.7h0.9v0.9h-0.9zM386.7 406.4h0.9v0.9h-0.9zM386.4 404.9h0.9v0.9h-0.9zM395.8 409.4h0.9v0.9h-0.9zM387.4 406.0h0.9v0.9h-0.9zM389.2 411.7h0.9v0.9h-0.9zM394.7 408.6h0.9v0.9h-0.9zM394.7 408.5h0.9v0.9h-0.9zM393.8 414.1h0.9v0.9h-0.9zM390.6 407.7h0.9v0.9h-0.9zM393.4 412.2h0.9v0.9h-0.9zM389.5 410.8h0.9v0.9h-0.9zM386.0 405.2h0.9v0.9h-0.9zM390.3 406.0h0.9v0.9h-0.9zM388.7 406.5h0.9v0.9h-0.9zM391.5 411.5h0.9v0.9h-0.9zM394.3 404.9h0.9v0.9h-0.9zM387.7 411.2h0.9v0.9h-0.9zM385.7 407.6h0.9v0.9h-0.9zM390.3 407.6h0.9v0.9h-0.9zM392.0 404.4h0.9v0.9h-0.9zM387.6 412.3h0.9v0.9h-0.9zM390.0 407.1h0.9v0.9h-0.9zM390.6 399.7h0.9v0.9h-0.9zM389.5 406.9h0.9v0.9h-0.9zM389.4 407.0h0.9v0.9h-0.9zM394.4 408.3h0.9v0.9h-0.9zM394.5 406.7h0.9v0.9h-0.9zM388.9 411.8h0.9v0.9h-0.9zM386.8 407.6h0.9v0.9h-0.9zM390.8 411.2h0.9v0.9h-0.9zM394.7 405.2h0.9v0.9h-0.9zM392.8 405.9h0.9v0.9h-0.9zM390.3 410.6h0.9v0.9h-0.9zM389.0 404.0h0.9v0.9h-0.9zM394.8 412.2h0.9v0.9h-0.9zM391.3 409.8h0.9v0.9h-0.9zM388.7 410.3h0.9v0.9h-0.9zM391.6 409.1h0.9v0.9h-0.9zM388.1 409.3h0.9v0.9h-0.9zM387.6 412.9h0.9v0.9h-0.9zM395.3 409.0h0.9v0.9h-0.9zM390.7 407.5h0.9v0.9h-0.9zM394.3 400.6h0.9v0.9h-0.9zM395.2 402.4h0.9v0.9h-0.9zM385.7 410.2h0.9v0.9h-0.9zM394.8 404.8h0.9v0.9h-0.9zM394.9 411.2h0.9v0.9h-0.9zM387.7 410.8h0.9v0.9h-0.9zM385.3 411.7h0.9v0.9h-0.9zM384.3 408.7h0.9v0.9h-0.9zM394.2 409.3h0.9v0.9h-0.9zM388.9 411.0h0.9v0.9h-0.9zM390.4 402.9h0.9v0.9h-0.9zM392.2 410.4h0.9v0.9h-0.9zM392.5 414.4h0.9v0.9h-0.9zM385.3 401.8h0.9v0.9h-0.9zM396.2 410.4h0.9v0.9h-0.9zM385.0 412.6h0.9v0.9h-0.9zM389.3 408.3h0.9v0.9h-0.9zM395.0 409.7h0.9v0.9h-0.9zM389.3 404.9h0.9v0.9h-0.9zM391.2 410.1h0.9v0.9h-0.9zM389.0 406.3h0.9v0.9h-0.9zM385.3 407.5h0.9v0.9h-0.9zM395.5 407.3h0.9v0.9h-0.9zM390.5 406.5h0.9v0.9h-0.9zM387.0 407.3h0.9v0.9h-0.9zM389.9 411.2h0.9v0.9h-0.9zM387.7 404.2h0.9v0.9h-0.9zM396.0 405.5h0.9v0.9h-0.9zM386.7 403.9h0.9v0.9h-0.9zM387.8 409.8h0.9v0.9h-0.9zM390.6 406.8h0.9v0.9h-0.9zM391.7 403.9h0.9v0.9h-0.9zM395.2 413.5h0.9v0.9h-0.9zM394.5 407.8h0.9v0.9h-0.9zM385.0 405.4h0.9v0.9h-0.9zM389.4 407.1h0.9v0.9h-0.9zM394.7 410.5h0.9v0.9h-0.9zM386.8 412.2h0.9v0.9h-0.9zM385.7 399.6h0.9v0.9h-0.9zM395.2 405.8h0.9v0.9h-0.9zM386.5 409.7h0.9v0.9h-0.9zM384.7 404.1h0.9v0.9h-0.9zM394.5 408.1h0.9v0.9h-0.9zM394.2 411.8h0.9v0.9h-0.9zM388.9 409.5h0.9v0.9h-0.9zM386.4 408.0h0.9v0.9h-0.9zM392.6 411.2h0.9v0.9h-0.9zM388.3 410.2h0.9v0.9h-0.9zM389.6 409.9h0.9v0.9h-0.9zM391.0 408.2h0.9v0.9h-0.9zM386.8 414.3h0.9v0.9h-0.9zM392.3 406.1h0.9v0.9h-0.9zM393.3 406.5h0.9v0.9h-0.9zM389.0 402.8h0.9v0.9h-0.9zM391.8 406.7h0.9v0.9h-0.9zM389.6 414.7h0.9v0.9h-0.9zM394.6 410.5h0.9v0.9h-0.9zM390.1 405.3h0.9v0.9h-0.9zM395.0 406.5h0.9v0.9h-0.9zM392.5 409.3h0.9v0.9h-0.9zM388.4 412.6h0.9v0.9h-0.9zM386.4 407.9h0.9v0.9h-0.9zM392.9 404.6h0.9v0.9h-0.9zM391.3 413.6h0.9v0.9h-0.9zM385.5 400.4h0.9v0.9h-0.9zM390.0 406.7h0.9v0.9h-0.9zM390.7 410.9h0.9v0.9h-0.9zM390.2 404.8h0.9v0.9h-0.9zM391.2 409.3h0.9v0.9h-0.9zM385.4 405.6h0.9v0.9h-0.9zM393.4 404.8h0.9v0.9h-0.9zM395.0 406.9h0.9v0.9h-0.9zM394.9 396.5h0.9v0.9h-0.9zM394.3 405.0h0.9v0.9h-0.9zM393.2 407.9h0.9v0.9h-0.9zM392.4 408.6h0.9v0.9h-0.9zM393.1 405.4h0.9v0.9h-0.9zM391.1 411.7h0.9v0.9h-0.9zM387.2 406.4h0.9v0.9h-0.9zM388.9 403.2h0.9v0.9h-0.9zM385.6 404.7h0.9v0.9h-0.9zM392.9 406.9h0.9v0.9h-0.9zM386.3 406.0h0.9v0.9h-0.9zM389.1 409.7h0.9v0.9h-0.9zM391.2 409.1h0.9v0.9h-0.9zM390.0 408.9h0.9v0.9h-0.9zM386.7 405.6h0.9v0.9h-0.9zM385.5 408.0h0.9v0.9h-0.9zM390.4 404.3h0.9v0.9h-0.9zM389.0 411.0h0.9v0.9h-0.9zM388.0 409.3h0.9v0.9h-0.9zM390.0 414.6h0.9v0.9h-0.9zM389.5 407.3h0.9v0.9h-0.9zM391.1 405.4h0.9v0.9h-0.9zM386.9 407.9h0.9v0.9h-0.9zM396.1 409.7h0.9v0.9h-0.9zM395.1 401.8h0.9v0.9h-0.9zM385.4 406.1h0.9v0.9h-0.9zM387.0 401.7h0.9v0.9h-0.9zM389.7 411.6h0.9v0.9h-0.9zM393.4 407.5h0.9v0.9h-0.9zM386.2 406.5h0.9v0.9h-0.9zM390.4 405.3h0.9v0.9h-0.9zM388.7 412.6h0.9v0.9h-0.9zM390.3 403.2h0.9v0.9h-0.9zM392.5 401.6h0.9v0.9h-0.9zM387.3 411.2h0.9v0.9h-0.9zM390.8 404.6h0.9v0.9h-0.9zM384.8 406.0h0.9v0.9h-0.9zM386.3 406.3h0.9v0.9h-0.9zM393.3 405.9h0.9v0.9h-0.9zM393.0 405.8h0.9v0.9h-0.9zM388.7 413.0h0.9v0.9h-0.9zM393.2 409.4h0.9v0.9h-0.9zM395.3 408.7h0.9v0.9h-0.9zM396.0 410.3h0.9v0.9h-0.9zM393.1 401.5h0.9v0.9h-0.9zM386.0 408.7h0.9v0.9h-0.9zM390.8 405.4h0.9v0.9h-0.9zM386.2 403.3h0.9v0.9h-0.9zM385.9 402.2h0.9v0.9h-0.9zM385.9 402.2h0.9v0.9h-0.9zM384.3 414.1h0.9v0.9h-0.9zM388.9 411.5h0.9v0.9h-0.9zM389.7 413.5h0.9v0.9h-0.9zM387.4 407.8h0.9v0.9h-0.9zM392.7 411.3h0.9v0.9h-0.9zM392.6 408.1h0.9v0.9h-0.9zM386.3 412.8h0.9v0.9h-0.9zM388.2 409.0h0.9v0.9h-0.9zM395.9 413.8h0.9v0.9h-0.9zM388.9 412.3h0.9v0.9h-0.9zM393.9 402.5h0.9v0.9h-0.9zM388.2 410.1h0.9v0.9h-0.9zM386.9 401.2h0.9v0.9h-0.9zM388.4 410.2h0.9v0.9h-0.9zM387.0 406.5h0.9v0.9h-0.9zM388.0 409.0h0.9v0.9h-0.9zM391.1 402.9h0.9v0.9h-0.9zM387.7 406.5h0.9v0.9h-0.9zM384.5 411.6h0.9v0.9h-0.9zM386.6 408.7h0.9v0.9h-0.9zM391.1 407.4h0.9v0.9h-0.9zM392.2 407.6h0.9v0.9h-0.9zM389.4 403.2h0.9v0.9h-0.9zM388.0 414.6h0.9v0.9h-0.9zM390.3 410.8h0.9v0.9h-0.9zM385.4 412.8h0.9v0.9h-0.9zM391.7 405.7h0.9v0.9h-0.9zM388.6 410.1h0.9v0.9h-0.9zM390.2 408.0h0.9v0.9h-0.9zM390.0 408.2h0.9v0.9h-0.9zM384.4 407.7h0.9v0.9h-0.9zM392.8 408.1h0.9v0.9h-0.9zM394.7 409.1h0.9v0.9h-0.9zM392.4 407.3h0.9v0.9h-0.9zM387.9 404.7h0.9v0.9h-0.9zM387.9 408.6h0.9v0.9h-0.9zM385.8 406.8h0.9v0.9h-0.9zM395.8 406.8h0.9v0.9h-0.9zM384.8 410.6h0.9v0.9h-0.9zM385.3 407.5h0.9v0.9h-0.9zM393.2 401.3h0.9v0.9h-0.9zM390.4 406.7h0.9v0.9h-0.9zM391.8 413.2h0.9v0.9h-0.9zM390.4 411.0h0.9v0.9h-0.9zM395.8 409.6h0.9v0.9h-0.9zM392.4 408.1h0.9v0.9h-0.9zM395.4 402.5h0.9v0.9h-0.9zM391.0 411.0h0.9v0.9h-0.9zM388.9 402.8h0.9v0.9h-0.9zM384.6 409.2h0.9v0.9h-0.9zM387.9 407.8h0.9v0.9h-0.9zM389.9 405.0h0.9v0.9h-0.9zM387.3 404.4h0.9v0.9h-0.9zM393.2 412.6h0.9v0.9h-0.9zM395.7 405.4h0.9v0.9h-0.9zM388.3 408.4h0.9v0.9h-0.9zM385.0 408.4h0.9v0.9h-0.9zM391.6 413.3h0.9v0.9h-0.9zM387.1 408.8h0.9v0.9h-0.9zM386.4 409.7h0.9v0.9h-0.9zM390.3 407.8h0.9v0.9h-0.9zM388.3 407.0h0.9v0.9h-0.9zM393.0 408.5h0.9v0.9h-0.9zM393.3 403.8h0.9v0.9h-0.9zM387.5 412.9h0.9v0.9h-0.9zM386.9 408.4h0.9v0.9h-0.9zM391.5 410.7h0.9v0.9h-0.9zM392.0 407.8h0.9v0.9h-0.9zM393.4 406.2h0.9v0.9h-0.9zM390.0 404.6h0.9v0.9h-0.9zM389.4 411.3h0.9v0.9h-0.9zM386.7 403.5h0.9v0.9h-0.9zM392.8 411.6h0.9v0.9h-0.9zM395.2 410.9h0.9v0.9h-0.9zM392.8 410.2h0.9v0.9h-0.9zM393.6 407.8h0.9v0.9h-0.9zM395.0 411.9h0.9v0.9h-0.9zM395.6 411.8h0.9v0.9h-0.9zM387.8 413.4h0.9v0.9h-0.9zM389.5 401.2h0.9v0.9h-0.9zM386.0 409.7h0.9v0.9h-0.9zM388.0 399.5h0.9v0.9h-0.9zM387.3 411.3h0.9v0.9h-0.9zM384.5 411.4h0.9v0.9h-0.9zM388.9 407.0h0.9v0.9h-0.9zM396.0 407.7h0.9v0.9h-0.9zM394.9 409.7h0.9v0.9h-0.9zM387.2 409.7h0.9v0.9h-0.9zM395.1 406.4h0.9v0.9h-0.9zM386.8 411.0h0.9v0.9h-0.9zM390.8 404.3h0.9v0.9h-0.9zM390.3 406.6h0.9v0.9h-0.9zM387.8 412.9h0.9v0.9h-0.9zM393.3 400.1h0.9v0.9h-0.9zM394.1 410.8h0.9v0.9h-0.9zM386.7 409.4h0.9v0.9h-0.9zM395.2 406.3h0.9v0.9h-0.9zM390.9 411.2h0.9v0.9h-0.9zM384.9 410.9h0.9v0.9h-0.9zM395.1 407.7h0.9v0.9h-0.9zM395.6 411.3h0.9v0.9h-0.9zM386.7 411.1h0.9v0.9h-0.9zM392.2 406.4h0.9v0.9h-0.9zM385.5 411.3h0.9v0.9h-0.9zM388.4 405.6h0.9v0.9h-0.9zM392.1 405.5h0.9v0.9h-0.9zM385.7 406.4h0.9v0.9h-0.9zM388.4 409.3h0.9v0.9h-0.9zM386.3 407.1h0.9v0.9h-0.9zM388.0 409.8h0.9v0.9h-0.9zM390.8 405.0h0.9v0.9h-0.9zM387.7 410.0h0.9v0.9h-0.9zM390.1 408.8h0.9v0.9h-0.9zM393.5 403.8h0.9v0.9h-0.9zM390.0 409.8h0.9v0.9h-0.9zM394.4 409.7h0.9v0.9h-0.9zM390.0 404.5h0.9v0.9h-0.9zM394.4 411.3h0.9v0.9h-0.9zM388.8 405.6h0.9v0.9h-0.9zM384.4 411.0h0.9v0.9h-0.9zM390.8 403.4h0.9v0.9h-0.9zM389.7 408.7h0.9v0.9h-0.9zM389.9 407.5h0.9v0.9h-0.9zM396.0 405.5h0.9v0.9h-0.9zM385.6 409.7h0.9v0.9h-0.9zM393.8 406.2h0.9v0.9h-0.9zM387.4 412.4h0.9v0.9h-0.9zM394.3 410.4h0.9v0.9h-0.9zM384.9 400.3h0.9v0.9h-0.9zM388.8 413.3h0.9v0.9h-0.9zM389.7 412.2h0.9v0.9h-0.9zM393.2 412.3h0.9v0.9h-0.9zM394.8 406.5h0.9v0.9h-0.9zM394.9 407.6h0.9v0.9h-0.9zM385.3 414.5h0.9v0.9h-0.9zM387.6 411.9h0.9v0.9h-0.9zM392.2 410.8h0.9v0.9h-0.9zM392.8 408.5h0.9v0.9h-0.9zM384.7 398.7h0.9v0.9h-0.9zM386.8 407.4h0.9v0.9h-0.9zM392.7 407.8h0.9v0.9h-0.9zM393.4 402.5h0.9v0.9h-0.9zM392.6 410.7h0.9v0.9h-0.9zM390.7 408.3h0.9v0.9h-0.9zM395.9 409.1h0.9v0.9h-0.9zM385.8 413.3h0.9v0.9h-0.9zM394.4 403.5h0.9v0.9h-0.9zM392.3 409.7h0.9v0.9h-0.9zM385.9 407.1h0.9v0.9h-0.9zM394.6 400.9h0.9v0.9h-0.9zM387.6 408.3h0.9v0.9h-0.9zM395.0 410.4h0.9v0.9h-0.9zM389.5 404.3h0.9v0.9h-0.9zM392.6 411.1h0.9v0.9h-0.9zM388.1 404.5h0.9v0.9h-0.9zM393.6 413.9h0.9v0.9h-0.9zM393.0 412.1h0.9v0.9h-0.9zM391.4 399.7h0.9v0.9h-0.9zM389.4 413.7h0.9v0.9h-0.9zM386.8 411.1h0.9v0.9h-0.9zM391.5 410.2h0.9v0.9h-0.9zM388.6 413.5h0.9v0.9h-0.9zM389.7 406.2h0.9v0.9h-0.9zM392.2 403.6h0.9v0.9h-0.9zM390.2 404.7h0.9v0.9h-0.9zM390.5 400.5h0.9v0.9h-0.9zM386.6 408.5h0.9v0.9h-0.9zM393.7 405.7h0.9v0.9h-0.9zM390.1 402.1h0.9v0.9h-0.9zM386.7 410.3h0.9v0.9h-0.9zM387.4 411.5h0.9v0.9h-0.9zM391.2 411.9h0.9v0.9h-0.9zM384.3 409.2h0.9v0.9h-0.9zM395.7 410.4h0.9v0.9h-0.9zM389.7 405.0h0.9v0.9h-0.9zM392.2 406.7h0.9v0.9h-0.9z" fill="#111" fill-opacity="0.6"/>
<path d="M394.0 396.3h0.9v0.9h-0.9zM384.3 392.6h0.9v0.9h-0.9zM390.1 386.3h0.9v0.9h-0.9zM393.7 390.7h0.9v0.9h-0.9zM387.8 395.6h0.9v0.9h-0.9zM391.3 393.5h0.9v0.9h-0.9zM394.6 393.9h0.9v0.9h-0.9zM388.4 386.6h0.9v0.9h-0.9zM390.9 391.4h0.9v0.9h-0.9zM390.7 391.1h0.9v0.9h-0.9zM384.3 386.2h0.9v0.9h-0.9zM386.1 387.1h0.9v0.9h-0.9zM394.5 394.8h0.9v0.9h-0.9zM387.1 396.9h0.9v0.9h-0.9zM391.9 386.5h0.9v0.9h-0.9zM393.3 389.2h0.9v0.9h-0.9zM396.2 387.8h0.9v0.9h-0.9zM387.7 389.5h0.9v0.9h-0.9zM394.6 398.6h0.9v0.9h-0.9zM391.2 387.9h0.9v0.9h-0.9zM389.4 396.8h0.9v0.9h-0.9zM384.9 400.3h0.9v0.9h-0.9zM394.3 400.5h0.9v0.9h-0.9zM392.6 395.4h0.9v0.9h-0.9zM396.0 389.8h0.9v0.9h-0.9zM387.9 387.5h0.9v0.9h-0.9zM386.4 398.3h0.9v0.9h-0.9zM385.4 397.5h0.9v0.9h-0.9zM389.0 399.6h0.9v0.9h-0.9zM393.4 396.5h0.9v0.9h-0.9zM394.4 386.2h0.9v0.9h-0.9zM387.4 391.4h0.9v0.9h-0.9zM389.4 396.3h0.9v0.9h-0.9zM394.8 397.4h0.9v0.9h-0.9zM395.4 396.7h0.9v0.9h-0.9zM388.5 393.7h0.9v0.9h-0.9zM393.2 398.6h0.9v0.9h-0.9zM388.7 391.2h0.9v0.9h-0.9zM391.6 389.2h0.9v0.9h-0.9zM394.8 385.6h0.9v0.9h-0.9zM392.0 393.3h0.9v0.9h-0.9zM386.6 394.7h0.9v0.9h-0.9zM389.9 400.9h0.9v0.9h-0.9zM394.9 394.9h0.9v0.9h-0.9zM394.7 399.7h0.9v0.9h-0.9zM386.2 398.8h0.9v0.9h-0.9zM394.3 401.4h0.9v0.9h-0.9zM393.4 391.8h0.9v0.9h-0.9zM386.7 396.0h0.9v0.9h-0.9zM386.8 397.7h0.9v0.9h-0.9zM391.1 398.8h0.9v0.9h-0.9zM388.5 390.4h0.9v0.9h-0.9zM395.1 396.2h0.9v0.9h-0.9zM388.8 394.5h0.9v0.9h-0.9zM389.5 395.8h0.9v0.9h-0.9zM390.5 390.1h0.9v0.9h-0.9zM396.0 399.7h0.9v0.9h-0.9zM393.4 390.0h0.9v0.9h-0.9zM386.6 397.2h0.9v0.9h-0.9zM394.1 396.0h0.9v0.9h-0.9zM386.8 397.1h0.9v0.9h-0.9zM390.5 391.5h0.9v0.9h-0.9zM391.3 392.7h0.9v0.9h-0.9zM392.0 397.6h0.9v0.9h-0.9zM396.0 387.3h0.9v0.9h-0.9zM391.1 400.7h0.9v0.9h-0.9zM392.1 394.8h0.9v0.9h-0.9zM394.5 386.1h0.9v0.9h-0.9zM393.8 395.5h0.9v0.9h-0.9zM391.3 390.5h0.9v0.9h-0.9z" fill="#555" fill-opacity="0.45"/>
<rect x="399.6" y="407.8" width="11.4" height="2.8" fill="#1a1a1a"/>
<path d="M406.1 410.1h0.9v0.9h-0.9zM401.9 410.1h0.9v0.9h-0.9zM409.8 409.4h0.9v0.9h-0.9zM407.7 407.0h0.9v0.9h-0.9zM403.4 407.8h0.9v0.9h-0.9zM408.9 408.6h0.9v0.9h-0.9zM407.8 408.8h0.9v0.9h-0.9zM408.5 408.1h0.9v0.9h-0.9zM399.1 407.1h0.9v0.9h-0.9zM399.6 408.0h0.9v0.9h-0.9zM403.8 410.4h0.9v0.9h-0.9zM402.6 407.3h0.9v0.9h-0.9zM408.4 406.7h0.9v0.9h-0.9zM403.6 411.4h0.9v0.9h-0.9zM399.9 409.4h0.9v0.9h-0.9zM401.9 408.6h0.9v0.9h-0.9zM407.9 410.3h0.9v0.9h-0.9zM408.9 410.1h0.9v0.9h-0.9zM405.8 407.2h0.9v0.9h-0.9zM408.5 410.9h0.9v0.9h-0.9zM405.7 407.8h0.9v0.9h-0.9zM403.7 407.7h0.9v0.9h-0.9zM410.5 408.8h0.9v0.9h-0.9zM401.2 408.7h0.9v0.9h-0.9zM401.6 409.0h0.9v0.9h-0.9zM400.9 407.7h0.9v0.9h-0.9zM407.8 410.9h0.9v0.9h-0.9zM404.2 412.6h0.9v0.9h-0.9zM409.4 409.2h0.9v0.9h-0.9zM408.1 407.8h0.9v0.9h-0.9zM403.8 408.8h0.9v0.9h-0.9zM407.1 409.2h0.9v0.9h-0.9zM405.5 407.8h0.9v0.9h-0.9zM401.2 411.6h0.9v0.9h-0.9zM404.1 410.0h0.9v0.9h-0.9zM409.2 409.5h0.9v0.9h-0.9zM404.8 409.4h0.9v0.9h-0.9zM406.4 409.7h0.9v0.9h-0.9zM402.2 409.2h0.9v0.9h-0.9zM409.0 408.4h0.9v0.9h-0.9zM406.2 409.4h0.9v0.9h-0.9zM399.8 407.4h0.9v0.9h-0.9zM400.9 408.5h0.9v0.9h-0.9zM400.2 408.5h0.9v0.9h-0.9zM408.0 411.0h0.9v0.9h-0.9zM408.7 406.6h0.9v0.9h-0.9zM405.4 410.5h0.9v0.9h-0.9zM405.4 407.0h0.9v0.9h-0.9zM403.9 409.4h0.9v0.9h-0.9zM401.8 408.9h0.9v0.9h-0.9zM404.3 411.8h0.9v0.9h-0.9zM405.6 411.7h0.9v0.9h-0.9zM407.5 409.6h0.9v0.9h-0.9zM409.2 408.0h0.9v0.9h-0.9zM410.1 408.7h0.9v0.9h-0.9zM408.2 409.6h0.9v0.9h-0.9zM409.3 409.2h0.9v0.9h-0.9zM405.9 407.2h0.9v0.9h-0.9zM400.3 408.9h0.9v0.9h-0.9zM407.6 410.4h0.9v0.9h-0.9zM400.0 409.1h0.9v0.9h-0.9zM410.2 408.6h0.9v0.9h-0.9zM401.7 410.0h0.9v0.9h-0.9zM410.0 406.1h0.9v0.9h-0.9zM404.4 408.3h0.9v0.9h-0.9zM408.6 407.5h0.9v0.9h-0.9zM400.2 410.3h0.9v0.9h-0.9zM399.7 407.3h0.9v0.9h-0.9zM409.9 408.5h0.9v0.9h-0.9zM402.0 409.3h0.9v0.9h-0.9zM399.3 408.3h0.9v0.9h-0.9zM410.4 411.2h0.9v0.9h-0.9zM406.3 410.6h0.9v0.9h-0.9zM407.2 406.4h0.9v0.9h-0.9zM403.4 408.7h0.9v0.9h-0.9zM405.3 409.7h0.9v0.9h-0.9zM401.3 408.7h0.9v0.9h-0.9zM405.7 407.3h0.9v0.9h-0.9zM405.3 408.1h0.9v0.9h-0.9zM401.9 408.1h0.9v0.9h-0.9zM406.9 409.3h0.9v0.9h-0.9zM410.1 411.1h0.9v0.9h-0.9zM403.5 410.9h0.9v0.9h-0.9zM409.9 408.2h0.9v0.9h-0.9zM405.1 408.8h0.9v0.9h-0.9zM401.2 406.3h0.9v0.9h-0.9zM405.0 407.2h0.9v0.9h-0.9zM406.6 407.9h0.9v0.9h-0.9zM409.5 409.6h0.9v0.9h-0.9zM400.6 405.9h0.9v0.9h-0.9zM407.1 406.1h0.9v0.9h-0.9zM399.0 406.0h0.9v0.9h-0.9zM401.0 410.3h0.9v0.9h-0.9zM407.1 408.5h0.9v0.9h-0.9zM405.8 407.4h0.9v0.9h-0.9zM405.5 409.8h0.9v0.9h-0.9zM410.4 406.0h0.9v0.9h-0.9zM402.5 408.2h0.9v0.9h-0.9zM407.2 406.7h0.9v0.9h-0.9zM409.2 407.1h0.9v0.9h-0.9zM399.9 410.9h0.9v0.9h-0.9zM402.0 408.3h0.9v0.9h-0.9zM404.3 409.7h0.9v0.9h-0.9zM408.7 409.4h0.9v0.9h-0.9zM407.2 409.4h0.9v0.9h-0.9zM400.2 408.0h0.9v0.9h-0.9zM403.4 406.2h0.9v0.9h-0.9zM402.4 408.8h0.9v0.9h-0.9zM407.5 407.6h0.9v0.9h-0.9zM408.1 408.1h0.9v0.9h-0.9zM399.8 407.9h0.9v0.9h-0.9zM399.4 408.2h0.9v0.9h-0.9zM404.5 406.6h0.9v0.9h-0.9zM403.3 408.5h0.9v0.9h-0.9zM409.7 408.9h0.9v0.9h-0.9zM399.0 407.8h0.9v0.9h-0.9zM410.1 408.1h0.9v0.9h-0.9zM401.0 409.1h0.9v0.9h-0.9zM407.1 409.4h0.9v0.9h-0.9zM406.8 410.1h0.9v0.9h-0.9zM403.0 406.5h0.9v0.9h-0.9zM408.1 405.5h0.9v0.9h-0.9zM406.2 407.8h0.9v0.9h-0.9zM406.4 407.8h0.9v0.9h-0.9zM406.5 407.2h0.9v0.9h-0.9zM407.7 407.8h0.9v0.9h-0.9zM401.3 407.7h0.9v0.9h-0.9zM399.4 404.4h0.9v0.9h-0.9zM401.9 409.4h0.9v0.9h-0.9zM408.4 408.7h0.9v0.9h-0.9zM405.7 410.8h0.9v0.9h-0.9zM399.0 409.7h0.9v0.9h-0.9zM408.8 407.6h0.9v0.9h-0.9zM409.4 412.2h0.9v0.9h-0.9zM400.5 408.0h0.9v0.9h-0.9zM407.7 409.3h0.9v0.9h-0.9zM400.1 409.5h0.9v0.9h-0.9zM408.9 409.1h0.9v0.9h-0.9zM401.8 408.0h0.9v0.9h-0.9zM405.4 410.3h0.9v0.9h-0.9zM403.7 410.1h0.9v0.9h-0.9zM404.5 408.3h0.9v0.9h-0.9zM409.0 408.8h0.9v0.9h-0.9zM408.7 409.7h0.9v0.9h-0.9zM402.6 411.1h0.9v0.9h-0.9zM403.3 406.9h0.9v0.9h-0.9zM402.8 411.4h0.9v0.9h-0.9zM404.1 410.7h0.9v0.9h-0.9zM402.9 409.3h0.9v0.9h-0.9zM409.1 409.8h0.9v0.9h-0.9zM400.5 406.6h0.9v0.9h-0.9zM405.0 408.0h0.9v0.9h-0.9zM404.8 407.9h0.9v0.9h-0.9zM408.5 409.4h0.9v0.9h-0.9zM409.4 407.6h0.9v0.9h-0.9zM409.5 408.3h0.9v0.9h-0.9zM401.3 409.8h0.9v0.9h-0.9zM408.6 410.7h0.9v0.9h-0.9zM405.6 412.2h0.9v0.9h-0.9zM400.8 411.6h0.9v0.9h-0.9zM402.9 411.6h0.9v0.9h-0.9zM407.7 408.5h0.9v0.9h-0.9zM399.8 409.7h0.9v0.9h-0.9zM399.1 407.5h0.9v0.9h-0.9zM408.1 409.2h0.9v0.9h-0.9zM404.2 408.5h0.9v0.9h-0.9zM409.4 408.1h0.9v0.9h-0.9zM408.0 409.9h0.9v0.9h-0.9zM404.1 411.9h0.9v0.9h-0.9zM408.9 408.7h0.9v0.9h-0.9zM407.2 409.6h0.9v0.9h-0.9zM405.7 411.0h0.9v0.9h-0.9zM404.6 407.5h0.9v0.9h-0.9zM401.2 408.2h0.9v0.9h-0.9zM409.5 408.2h0.9v0.9h-0.9zM410.3 409.3h0.9v0.9h-0.9zM404.9 408.1h0.9v0.9h-0.9zM400.7 407.4h0.9v0.9h-0.9zM402.8 409.4h0.9v0.9h-0.9zM409.5 407.6h0.9v0.9h-0.9zM402.5 409.6h0.9v0.9h-0.9zM404.1 408.1h0.9v0.9h-0.9zM400.4 409.9h0.9v0.9h-0.9zM403.2 410.3h0.9v0.9h-0.9zM405.2 409.0h0.9v0.9h-0.9zM402.7 410.1h0.9v0.9h-0.9zM409.4 410.2h0.9v0.9h-0.9zM408.9 409.6h0.9v0.9h-0.9zM405.6 408.6h0.9v0.9h-0.9zM400.2 414.2h0.9v0.9h-0.9zM400.5 410.5h0.9v0.9h-0.9zM408.9 408.9h0.9v0.9h-0.9zM402.2 408.1h0.9v0.9h-0.9zM399.8 411.5h0.9v0.9h-0.9zM399.2 408.4h0.9v0.9h-0.9zM405.1 408.2h0.9v0.9h-0.9zM400.6 406.2h0.9v0.9h-0.9zM404.2 406.9h0.9v0.9h-0.9zM402.1 407.0h0.9v0.9h-0.9zM399.6 407.0h0.9v0.9h-0.9z" fill="#111" fill-opacity="0.6"/>
<path d="M401.7 396.7h0.9v0.9h-0.9zM402.1 405.0h0.9v0.9h-0.9zM401.9 412.2h0.9v0.9h-0.9zM400.4 391.9h0.9v0.9h-0.9zM403.8 398.6h0.9v0.9h-0.9zM410.1 414.1h0.9v0.9h-0.9zM401.4 392.7h0.9v0.9h-0.9zM405.9 398.7h0.9v0.9h-0.9zM404.4 403.6h0.9v0.9h-0.9zM406.9 386.2h0.9v0.9h-0.9zM404.3 395.6h0.9v0.9h-0.9zM404.0 398.5h0.9v0.9h-0.9zM403.3 388.4h0.9v0.9h-0.9zM401.9 408.0h0.9v0.9h-0.9zM405.1 394.2h0.9v0.9h-0.9zM399.6 398.2h0.9v0.9h-0.9zM409.5 413.3h0.9v0.9h-0.9zM401.3 396.5h0.9v0.9h-0.9zM399.2 400.0h0.9v0.9h-0.9zM403.9 405.1h0.9v0.9h-0.9zM408.5 397.3h0.9v0.9h-0.9zM402.1 399.0h0.9v0.9h-0.9zM406.3 387.1h0.9v0.9h-0.9zM402.3 400.9h0.9v0.9h-0.9zM401.5 400.4h0.9v0.9h-0.9zM405.9 388.2h0.9v0.9h-0.9zM402.5 414.4h0.9v0.9h-0.9zM409.8 389.4h0.9v0.9h-0.9zM403.0 388.8h0.9v0.9h-0.9zM409.5 408.8h0.9v0.9h-0.9zM406.3 414.4h0.9v0.9h-0.9zM405.4 405.5h0.9v0.9h-0.9zM406.5 410.9h0.9v0.9h-0.9zM405.3 402.9h0.9v0.9h-0.9zM403.0 410.9h0.9v0.9h-0.9zM408.8 405.8h0.9v0.9h-0.9zM405.2 406.1h0.9v0.9h-0.9zM401.2 409.4h0.9v0.9h-0.9zM400.4 412.2h0.9v0.9h-0.9zM405.9 399.2h0.9v0.9h-0.9zM407.0 388.4h0.9v0.9h-0.9zM403.9 398.5h0.9v0.9h-0.9zM407.5 403.4h0.9v0.9h-0.9zM399.3 393.1h0.9v0.9h-0.9zM400.3 388.1h0.9v0.9h-0.9zM403.3 401.2h0.9v0.9h-0.9zM405.8 406.7h0.9v0.9h-0.9zM402.6 408.3h0.9v0.9h-0.9zM399.0 410.5h0.9v0.9h-0.9zM402.5 404.0h0.9v0.9h-0.9zM402.5 407.7h0.9v0.9h-0.9zM403.3 403.3h0.9v0.9h-0.9zM402.7 410.1h0.9v0.9h-0.9zM408.0 391.5h0.9v0.9h-0.9zM409.8 414.0h0.9v0.9h-0.9zM400.5 408.4h0.9v0.9h-0.9zM409.7 393.3h0.9v0.9h-0.9zM402.4 408.8h0.9v0.9h-0.9zM404.8 399.5h0.9v0.9h-0.9zM400.4 404.8h0.9v0.9h-0.9zM400.0 393.2h0.9v0.9h-0.9zM407.6 412.0h0.9v0.9h-0.9zM410.0 410.7h0.9v0.9h-0.9zM410.5 409.7h0.9v0.9h-0.9zM407.2 408.1h0.9v0.9h-0.9zM409.6 398.2h0.9v0.9h-0.9zM402.1 403.0h0.9v0.9h-0.9zM403.1 400.8h0.9v0.9h-0.9zM405.8 413.4h0.9v0.9h-0.9zM409.7 404.2h0.9v0.9h-0.9zM406.6 409.6h0.9v0.9h-0.9zM399.0 412.2h0.9v0.9h-0.9z" fill="#555" fill-opacity="0.45"/>
<text transform="translate(392.70,427.10) rotate(-45)" font-size="6.35" text-anchor="end" fill="#2b2b2b" stroke="#2b2b2b">VEN-relapse</text>
<text transform="translate(407.10,427.10) rotate(-45)" font-size="6.35" text-anchor="end" fill="#2b2b2b" stroke="#2b2b2b">VEN-relapse</text>
<text transform="translate(412.50,430.80) rotate(-45)" font-size="6.35" text-anchor="end" fill="#2b2b2b" stroke="#2b2b2b">now on BTKi</text>
<text x="441.80" y="368.70" font-size="8.4" text-anchor="middle" fill="#2b2b2b" stroke="#2b2b2b" font-weight="normal" textLength="20.1" lengthAdjust="spacingAndGlyphs">BCL2</text>
<line x1="424.80" y1="376.70" x2="424.80" y2="418.00" stroke="#2a2a2a" stroke-width="1.2"/>
<line x1="422.00" y1="386.90" x2="424.80" y2="386.90" stroke="#2a2a2a" stroke-width="1.2"/>
<text x="419.70" y="390.30" font-size="6.7" text-anchor="end" fill="#2b2b2b" stroke="#2b2b2b" font-weight="normal" textLength="3.61" lengthAdjust="spacingAndGlyphs">4</text>
<line x1="422.00" y1="394.70" x2="424.80" y2="394.70" stroke="#2a2a2a" stroke-width="1.2"/>
<text x="419.70" y="398.10" font-size="6.7" text-anchor="end" fill="#2b2b2b" stroke="#2b2b2b" font-weight="normal" textLength="3.61" lengthAdjust="spacingAndGlyphs">3</text>
<line x1="422.00" y1="401.70" x2="424.80" y2="401.70" stroke="#2a2a2a" stroke-width="1.2"/>
<text x="419.70" y="405.10" font-size="6.7" text-anchor="end" fill="#2b2b2b" stroke="#2b2b2b" font-weight="normal" textLength="3.61" lengthAdjust="spacingAndGlyphs">2</text>
<line x1="422.00" y1="408.90" x2="424.80" y2="408.90" stroke="#2a2a2a" stroke-width="1.2"/>
<text x="419.70" y="412.30" font-size="6.7" text-anchor="end" fill="#2b2b2b" stroke="#2b2b2b" font-weight="normal" textLength="3.61" lengthAdjust="spacingAndGlyphs">1</text>
<line x1="422.00" y1="416.50" x2="424.80" y2="416.50" stroke="#2a2a2a" stroke-width="1.2"/>
<text x="419.70" y="419.90" font-size="6.7" text-anchor="end" fill="#2b2b2b" stroke="#2b2b2b" font-weight="normal" textLength="3.61" lengthAdjust="spacingAndGlyphs">0</text>
<line x1="424.20" y1="418.00" x2="460.80" y2="418.00" stroke="#2a2a2a" stroke-width="1.2"/>
<line x1="434.30" y1="418.00" x2="434.30" y2="420.80" stroke="#2a2a2a" stroke-width="1.2"/>
<line x1="450.20" y1="418.00" x2="450.20" y2="420.80" stroke="#2a2a2a" stroke-width="1.2"/>
<path d="M434.90,383.80 L434.97,385.10 L435.07,386.95 L435.19,389.10 L435.33,391.30 L435.50,393.30 L435.70,395.13 L435.92,396.97 L436.17,398.75 L436.43,400.45 L436.70,402.00 L437.02,403.42 L437.40,404.74 L437.77,405.95 L438.06,407.04 L438.20,408.00 L438.16,408.80 L437.98,409.45 L437.72,410.00 L437.44,410.50 L437.20,411.00 L436.99,411.50 L436.78,411.98 L436.56,412.42 L436.37,412.82 L436.20,413.20 L436.06,413.55 L435.94,413.88 L435.84,414.18 L435.76,414.42 L435.70,414.60 L433.70,414.60 L433.64,414.42 L433.56,414.18 L433.46,413.88 L433.34,413.55 L433.20,413.20 L433.03,412.82 L432.84,412.42 L432.62,411.98 L432.41,411.50 L432.20,411.00 L431.96,410.50 L431.68,410.00 L431.42,409.45 L431.24,408.80 L431.20,408.00 L431.34,407.04 L431.63,405.95 L432.00,404.74 L432.38,403.42 L432.70,402.00 L432.97,400.45 L433.23,398.75 L433.48,396.97 L433.70,395.13 L433.90,393.30 L434.07,391.30 L434.21,389.10 L434.33,386.95 L434.43,385.10 L434.50,383.80Z" fill="url(#g50)" fill-opacity="1.0"/>
<path d="M433.90,414.40 L435.50,414.40 L437.76,415.44 L441.50,416.35 L441.10,416.70 L428.30,416.70 L427.90,416.35 L431.64,415.44Z" fill="#d5112f" fill-opacity="1.0"/>
<path d="M451.00,382.90 L451.10,384.60 L451.23,387.03 L451.39,389.82 L451.58,392.60 L451.80,395.00 L452.07,397.03 L452.39,398.94 L452.72,400.70 L453.04,402.30 L453.30,403.70 L453.52,404.87 L453.71,405.82 L453.87,406.62 L453.98,407.33 L454.00,408.00 L453.92,408.63 L453.75,409.16 L453.53,409.64 L453.30,410.07 L453.10,410.50 L452.93,410.90 L452.76,411.25 L452.59,411.58 L452.44,411.92 L452.30,412.30 L452.17,412.76 L452.05,413.29 L451.95,413.82 L451.86,414.28 L451.80,414.60 L449.80,414.60 L449.74,414.28 L449.65,413.82 L449.55,413.29 L449.43,412.76 L449.30,412.30 L449.16,411.92 L449.01,411.58 L448.84,411.25 L448.67,410.90 L448.50,410.50 L448.30,410.07 L448.07,409.64 L447.85,409.16 L447.68,408.63 L447.60,408.00 L447.62,407.33 L447.73,406.62 L447.89,405.82 L448.08,404.87 L448.30,403.70 L448.56,402.30 L448.88,400.70 L449.21,398.94 L449.53,397.03 L449.80,395.00 L450.02,392.60 L450.21,389.82 L450.37,387.03 L450.50,384.60 L450.60,382.90Z" fill="url(#g51)" fill-opacity="0.9"/>
<path d="M450.00,414.40 L451.60,414.40 L453.86,415.44 L457.60,416.35 L457.20,416.70 L444.40,416.70 L444.00,416.35 L447.74,415.44Z" fill="#f7b51c" fill-opacity="0.9"/>
<text transform="translate(436.70,427.30) rotate(-45)" font-size="6.35" text-anchor="end" fill="#2b2b2b" stroke="#2b2b2b">VEN-relapse</text>
<text transform="translate(452.60,427.30) rotate(-45)" font-size="6.35" text-anchor="end" fill="#2b2b2b" stroke="#2b2b2b">VEN-relapse</text>
<text transform="translate(458.00,431.00) rotate(-45)" font-size="6.35" text-anchor="end" fill="#2b2b2b" stroke="#2b2b2b">now on BTKi</text>
<text x="491.20" y="368.70" font-size="8.4" text-anchor="middle" fill="#2b2b2b" stroke="#2b2b2b" font-weight="normal" textLength="56.3" lengthAdjust="spacingAndGlyphs">BCL2L1/BCLxL</text>
<line x1="474.50" y1="376.70" x2="474.50" y2="418.30" stroke="#2a2a2a" stroke-width="1.2"/>
<line x1="471.70" y1="387.30" x2="474.50" y2="387.30" stroke="#2a2a2a" stroke-width="1.2"/>
<text x="469.40" y="390.70" font-size="6.7" text-anchor="end" fill="#2b2b2b" stroke="#2b2b2b" font-weight="normal" textLength="3.61" lengthAdjust="spacingAndGlyphs">3</text>
<line x1="471.70" y1="397.30" x2="474.50" y2="397.30" stroke="#2a2a2a" stroke-width="1.2"/>
<text x="469.40" y="400.70" font-size="6.7" text-anchor="end" fill="#2b2b2b" stroke="#2b2b2b" font-weight="normal" textLength="3.61" lengthAdjust="spacingAndGlyphs">2</text>
<line x1="471.70" y1="407.00" x2="474.50" y2="407.00" stroke="#2a2a2a" stroke-width="1.2"/>
<text x="469.40" y="410.40" font-size="6.7" text-anchor="end" fill="#2b2b2b" stroke="#2b2b2b" font-weight="normal" textLength="3.61" lengthAdjust="spacingAndGlyphs">1</text>
<line x1="471.70" y1="416.90" x2="474.50" y2="416.90" stroke="#2a2a2a" stroke-width="1.2"/>
<text x="469.40" y="420.30" font-size="6.7" text-anchor="end" fill="#2b2b2b" stroke="#2b2b2b" font-weight="normal" textLength="3.61" lengthAdjust="spacingAndGlyphs">0</text>
<line x1="473.90" y1="418.30" x2="508.40" y2="418.30" stroke="#2a2a2a" stroke-width="1.2"/>
<line x1="484.50" y1="418.30" x2="484.50" y2="421.10" stroke="#2a2a2a" stroke-width="1.2"/>
<line x1="501.40" y1="418.30" x2="501.40" y2="421.10" stroke="#2a2a2a" stroke-width="1.2"/>
<path d="M485.10,383.80 L485.17,385.31 L485.28,387.43 L485.40,389.92 L485.52,392.52 L485.60,395.00 L485.64,397.49 L485.64,400.14 L485.64,402.77 L485.65,405.16 L485.70,407.10 L485.82,408.50 L485.99,409.51 L486.18,410.25 L486.33,410.86 L486.40,411.50 L486.37,412.16 L486.26,412.76 L486.12,413.27 L485.99,413.69 L485.90,414.00 L483.90,414.00 L483.81,413.69 L483.68,413.27 L483.54,412.76 L483.43,412.16 L483.40,411.50 L483.47,410.86 L483.62,410.25 L483.81,409.51 L483.98,408.50 L484.10,407.10 L484.15,405.16 L484.16,402.77 L484.16,400.14 L484.16,397.49 L484.20,395.00 L484.28,392.52 L484.40,389.92 L484.52,387.43 L484.63,385.31 L484.70,383.80Z" fill="url(#g52)" fill-opacity="1.0"/>
<path d="M484.10,413.70 L485.70,413.70 L488.00,415.05 L491.80,416.35 L491.40,416.70 L478.40,416.70 L478.00,416.35 L481.79,415.05Z" fill="#d5112f" fill-opacity="1.0"/>
<line x1="501.40" y1="381.00" x2="501.40" y2="416.50" stroke="#555" stroke-width="1.0"/>
<line x1="495.50" y1="416.30" x2="507.50" y2="416.30" stroke="#999" stroke-width="1.3"/>
<text transform="translate(486.90,427.60) rotate(-45)" font-size="6.35" text-anchor="end" fill="#2b2b2b" stroke="#2b2b2b">VEN-relapse</text>
<text transform="translate(503.80,427.60) rotate(-45)" font-size="6.35" text-anchor="end" fill="#2b2b2b" stroke="#2b2b2b">VEN-relapse</text>
<text transform="translate(509.20,431.30) rotate(-45)" font-size="6.35" text-anchor="end" fill="#2b2b2b" stroke="#2b2b2b">now on BTKi</text></svg>
</body></html>
